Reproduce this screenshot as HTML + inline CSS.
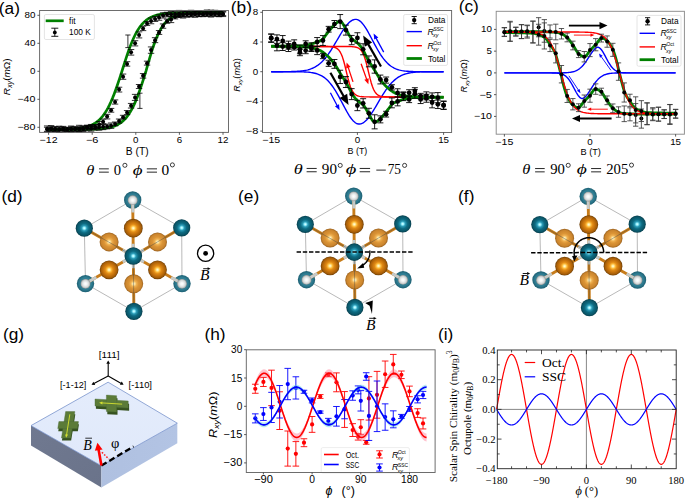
<!DOCTYPE html>
<html><head><meta charset="utf-8"><style>html,body{margin:0;padding:0;background:#fff;overflow:hidden;}svg{display:block;}</style></head>
<body><svg width="685" height="498" viewBox="0 0 685 498"><defs>
<radialGradient id="gT" cx="0.5" cy="0.5" r="0.5" fx="0.5" fy="0.5">
 <stop offset="0" stop-color="#e8ffff"/><stop offset="0.12" stop-color="#98f2ff"/><stop offset="0.3" stop-color="#2b9bb6"/><stop offset="0.55" stop-color="#0d6b82"/><stop offset="0.85" stop-color="#0a5567"/><stop offset="1" stop-color="#073d4b"/></radialGradient>
<radialGradient id="gTf" cx="0.5" cy="0.5" r="0.5">
 <stop offset="0" stop-color="#3f8fa3"/><stop offset="0.7" stop-color="#2f7d92"/><stop offset="1" stop-color="#1d5f72"/></radialGradient>
<radialGradient id="gW" cx="0.5" cy="0.5" r="0.5" fx="0.5" fy="0.5">
 <stop offset="0" stop-color="#ffffff"/><stop offset="0.3" stop-color="#f4f6f6"/><stop offset="0.7" stop-color="#d4d8d8"/><stop offset="0.9" stop-color="#a8acac"/><stop offset="1" stop-color="#8a8e8e"/></radialGradient>
<radialGradient id="gO" cx="0.5" cy="0.5" r="0.5" fx="0.5" fy="0.5">
 <stop offset="0" stop-color="#fffce8"/><stop offset="0.12" stop-color="#ffea98"/><stop offset="0.26" stop-color="#fcb838"/><stop offset="0.42" stop-color="#e08a16"/><stop offset="0.62" stop-color="#c8740c"/><stop offset="0.86" stop-color="#a45c08"/><stop offset="1" stop-color="#6a3c04"/></radialGradient>
<radialGradient id="gP" cx="0.5" cy="0.5" r="0.5" fx="0.5" fy="0.5">
 <stop offset="0" stop-color="#fffbe0"/><stop offset="0.12" stop-color="#ffe6a0"/><stop offset="0.3" stop-color="#efb050"/><stop offset="0.52" stop-color="#db9436"/><stop offset="0.82" stop-color="#cc862e"/><stop offset="1" stop-color="#9a6220"/></radialGradient>
<linearGradient id="gTop" x1="0" y1="0" x2="0" y2="1"><stop offset="0" stop-color="#e4ecfc"/><stop offset="1" stop-color="#e0e9fa"/></linearGradient>
<linearGradient id="gLeft" x1="0" y1="0" x2="1" y2="1"><stop offset="0" stop-color="#707990"/><stop offset="1" stop-color="#6a738a"/></linearGradient>
<linearGradient id="gRight" x1="0" y1="0" x2="1" y2="0"><stop offset="0" stop-color="#afc0e0"/><stop offset="1" stop-color="#b3c4e4"/></linearGradient>
</defs>
<polyline points="48.60,129.49 50.05,129.48 51.51,129.47 52.96,129.46 54.41,129.45 55.87,129.43 57.32,129.42 58.77,129.40 60.23,129.37 61.68,129.34 63.13,129.31 64.59,129.27 66.04,129.23 67.49,129.18 68.95,129.12 70.40,129.05 71.85,128.96 73.31,128.87 74.76,128.76 76.21,128.63 77.67,128.48 79.12,128.30 80.57,128.10 82.03,127.86 83.48,127.59 84.93,127.27 86.39,126.90 87.84,126.48 89.29,125.98 90.75,125.41 92.20,124.75 93.65,124.00 95.11,123.12 96.56,122.13 98.01,120.98 99.47,119.68 100.92,118.20 102.37,116.52 103.83,114.63 105.28,112.51 106.73,110.15 108.19,107.54 109.64,104.66 111.09,101.51 112.55,98.10 114.00,94.44 115.45,90.55 116.91,86.46 118.36,82.19 119.81,77.80 121.27,73.34 122.72,68.75 124.17,64.11 125.63,59.55 127.08,55.14 128.53,50.91 129.99,46.91 131.44,43.17 132.89,39.70 134.35,36.52 135.80,33.62 137.25,31.00 138.71,28.66 140.16,26.57 141.61,24.73 143.07,23.10 144.52,21.67 145.97,20.43 147.43,19.34 148.88,18.40 150.33,17.58 151.79,16.88 153.24,16.27 154.69,15.75 156.15,15.30 157.60,14.91 159.05,14.58 160.51,14.30 161.96,14.06 163.41,13.85 164.87,13.67 166.32,13.52 167.77,13.39 169.23,13.28 170.68,13.19 172.13,13.11 173.59,13.04 175.04,12.98 176.49,12.93 177.95,12.89 179.40,12.85 180.85,12.82 182.31,12.79 183.76,12.77 185.21,12.75 186.67,12.73 188.12,12.72 189.57,12.71 191.03,12.70 192.48,12.69 193.93,12.68 195.39,12.68 196.84,12.67 198.29,12.67 199.75,12.66 201.20,12.66 202.65,12.66 204.11,12.65 205.56,12.65 207.01,12.65 208.47,12.65 209.92,12.65 211.37,12.65 212.83,12.65 214.28,12.64 215.73,12.64 217.19,12.64 218.64,12.64 220.09,12.64 221.55,12.64 223.00,12.64" fill="none" stroke="#008000" stroke-width="2.7" stroke-linejoin="round" />
<polyline points="48.60,129.54 50.05,129.54 51.51,129.54 52.96,129.54 54.41,129.54 55.87,129.53 57.32,129.53 58.77,129.53 60.23,129.53 61.68,129.53 63.13,129.53 64.59,129.52 66.04,129.52 67.49,129.52 68.95,129.52 70.40,129.51 71.85,129.51 73.31,129.50 74.76,129.49 76.21,129.49 77.67,129.48 79.12,129.47 80.57,129.45 82.03,129.44 83.48,129.42 84.93,129.40 86.39,129.37 87.84,129.35 89.29,129.31 90.75,129.27 92.20,129.23 93.65,129.17 95.11,129.11 96.56,129.03 98.01,128.95 99.47,128.85 100.92,128.73 102.37,128.59 103.83,128.42 105.28,128.23 106.73,128.01 108.19,127.74 109.64,127.44 111.09,127.08 112.55,126.66 114.00,126.18 115.45,125.62 116.91,124.96 118.36,124.20 119.81,123.33 121.27,122.32 122.72,121.15 124.17,119.82 125.63,118.29 127.08,116.56 128.53,114.59 129.99,112.38 131.44,109.90 132.89,107.15 134.35,104.11 135.80,100.78 137.25,97.17 138.71,93.30 140.16,89.18 141.61,84.85 143.07,80.36 144.52,75.76 145.97,71.09 147.43,65.91 148.88,60.81 150.33,55.86 151.79,51.14 153.24,46.70 154.69,42.57 156.15,38.79 157.60,35.36 159.05,32.28 160.51,29.54 161.96,27.13 163.41,25.02 164.87,23.19 166.32,21.60 167.77,20.23 169.23,19.07 170.68,18.07 172.13,17.22 173.59,16.50 175.04,15.89 176.49,15.37 177.95,14.93 179.40,14.57 180.85,14.26 182.31,14.00 183.76,13.78 185.21,13.59 186.67,13.44 188.12,13.31 189.57,13.20 191.03,13.11 192.48,13.03 193.93,12.97 195.39,12.92 196.84,12.87 198.29,12.83 199.75,12.80 201.20,12.78 202.65,12.75 204.11,12.74 205.56,12.72 207.01,12.71 208.47,12.70 209.92,12.69 211.37,12.68 212.83,12.67 214.28,12.67 215.73,12.66 217.19,12.66 218.64,12.66 220.09,12.65 221.55,12.65 223.00,12.65" fill="none" stroke="#008000" stroke-width="2.7" stroke-linejoin="round" />
<line x1="47.15" y1="127.28" x2="47.15" y2="131.30" stroke="#000" stroke-width="0.8" />
<line x1="43.95" y1="127.28" x2="50.35" y2="127.28" stroke="#000" stroke-width="0.8" />
<line x1="43.95" y1="131.30" x2="50.35" y2="131.30" stroke="#000" stroke-width="0.8" />
<circle cx="47.15" cy="129.29" r="2.0" fill="#000"/>
<line x1="51.14" y1="126.92" x2="51.14" y2="130.73" stroke="#000" stroke-width="0.8" />
<line x1="47.94" y1="126.92" x2="54.34" y2="126.92" stroke="#000" stroke-width="0.8" />
<line x1="47.94" y1="130.73" x2="54.34" y2="130.73" stroke="#000" stroke-width="0.8" />
<circle cx="51.14" cy="128.82" r="2.0" fill="#000"/>
<line x1="55.14" y1="126.66" x2="55.14" y2="131.29" stroke="#000" stroke-width="0.8" />
<line x1="51.94" y1="126.66" x2="58.34" y2="126.66" stroke="#000" stroke-width="0.8" />
<line x1="51.94" y1="131.29" x2="58.34" y2="131.29" stroke="#000" stroke-width="0.8" />
<circle cx="55.14" cy="128.98" r="2.0" fill="#000"/>
<line x1="59.14" y1="127.12" x2="59.14" y2="132.14" stroke="#000" stroke-width="0.8" />
<line x1="55.94" y1="127.12" x2="62.34" y2="127.12" stroke="#000" stroke-width="0.8" />
<line x1="55.94" y1="132.14" x2="62.34" y2="132.14" stroke="#000" stroke-width="0.8" />
<circle cx="59.14" cy="129.63" r="2.0" fill="#000"/>
<line x1="63.13" y1="127.23" x2="63.13" y2="132.04" stroke="#000" stroke-width="0.8" />
<line x1="59.93" y1="127.23" x2="66.33" y2="127.23" stroke="#000" stroke-width="0.8" />
<line x1="59.93" y1="132.04" x2="66.33" y2="132.04" stroke="#000" stroke-width="0.8" />
<circle cx="63.13" cy="129.63" r="2.0" fill="#000"/>
<line x1="67.13" y1="127.62" x2="67.13" y2="131.48" stroke="#000" stroke-width="0.8" />
<line x1="63.93" y1="127.62" x2="70.33" y2="127.62" stroke="#000" stroke-width="0.8" />
<line x1="63.93" y1="131.48" x2="70.33" y2="131.48" stroke="#000" stroke-width="0.8" />
<circle cx="67.13" cy="129.55" r="2.0" fill="#000"/>
<line x1="71.13" y1="126.03" x2="71.13" y2="131.95" stroke="#000" stroke-width="0.8" />
<line x1="67.93" y1="126.03" x2="74.33" y2="126.03" stroke="#000" stroke-width="0.8" />
<line x1="67.93" y1="131.95" x2="74.33" y2="131.95" stroke="#000" stroke-width="0.8" />
<circle cx="71.13" cy="128.99" r="2.0" fill="#000"/>
<line x1="75.12" y1="127.19" x2="75.12" y2="131.42" stroke="#000" stroke-width="0.8" />
<line x1="71.92" y1="127.19" x2="78.32" y2="127.19" stroke="#000" stroke-width="0.8" />
<line x1="71.92" y1="131.42" x2="78.32" y2="131.42" stroke="#000" stroke-width="0.8" />
<circle cx="75.12" cy="129.30" r="2.0" fill="#000"/>
<line x1="79.12" y1="125.30" x2="79.12" y2="131.55" stroke="#000" stroke-width="0.8" />
<line x1="75.92" y1="125.30" x2="82.32" y2="125.30" stroke="#000" stroke-width="0.8" />
<line x1="75.92" y1="131.55" x2="82.32" y2="131.55" stroke="#000" stroke-width="0.8" />
<circle cx="79.12" cy="128.43" r="2.0" fill="#000"/>
<line x1="83.12" y1="125.86" x2="83.12" y2="130.57" stroke="#000" stroke-width="0.8" />
<line x1="79.92" y1="125.86" x2="86.32" y2="125.86" stroke="#000" stroke-width="0.8" />
<line x1="79.92" y1="130.57" x2="86.32" y2="130.57" stroke="#000" stroke-width="0.8" />
<circle cx="83.12" cy="128.22" r="2.0" fill="#000"/>
<line x1="87.11" y1="125.34" x2="87.11" y2="129.07" stroke="#000" stroke-width="0.8" />
<line x1="83.91" y1="125.34" x2="90.31" y2="125.34" stroke="#000" stroke-width="0.8" />
<line x1="83.91" y1="129.07" x2="90.31" y2="129.07" stroke="#000" stroke-width="0.8" />
<circle cx="87.11" cy="127.21" r="2.0" fill="#000"/>
<line x1="91.11" y1="124.44" x2="91.11" y2="128.85" stroke="#000" stroke-width="0.8" />
<line x1="87.91" y1="124.44" x2="94.31" y2="124.44" stroke="#000" stroke-width="0.8" />
<line x1="87.91" y1="128.85" x2="94.31" y2="128.85" stroke="#000" stroke-width="0.8" />
<circle cx="91.11" cy="126.64" r="2.0" fill="#000"/>
<line x1="95.11" y1="124.51" x2="95.11" y2="128.44" stroke="#000" stroke-width="0.8" />
<line x1="91.91" y1="124.51" x2="98.31" y2="124.51" stroke="#000" stroke-width="0.8" />
<line x1="91.91" y1="128.44" x2="98.31" y2="128.44" stroke="#000" stroke-width="0.8" />
<circle cx="95.11" cy="126.48" r="2.0" fill="#000"/>
<line x1="99.10" y1="121.45" x2="99.10" y2="127.33" stroke="#000" stroke-width="0.8" />
<line x1="95.90" y1="121.45" x2="102.30" y2="121.45" stroke="#000" stroke-width="0.8" />
<line x1="95.90" y1="127.33" x2="102.30" y2="127.33" stroke="#000" stroke-width="0.8" />
<circle cx="99.10" cy="124.39" r="2.0" fill="#000"/>
<line x1="103.10" y1="119.06" x2="103.10" y2="124.29" stroke="#000" stroke-width="0.8" />
<line x1="99.90" y1="119.06" x2="106.30" y2="119.06" stroke="#000" stroke-width="0.8" />
<line x1="99.90" y1="124.29" x2="106.30" y2="124.29" stroke="#000" stroke-width="0.8" />
<circle cx="103.10" cy="121.68" r="2.0" fill="#000"/>
<line x1="107.10" y1="114.30" x2="107.10" y2="118.95" stroke="#000" stroke-width="0.8" />
<line x1="103.90" y1="114.30" x2="110.30" y2="114.30" stroke="#000" stroke-width="0.8" />
<line x1="103.90" y1="118.95" x2="110.30" y2="118.95" stroke="#000" stroke-width="0.8" />
<circle cx="107.10" cy="116.62" r="2.0" fill="#000"/>
<line x1="111.09" y1="108.40" x2="111.09" y2="112.18" stroke="#000" stroke-width="0.8" />
<line x1="107.89" y1="108.40" x2="114.29" y2="108.40" stroke="#000" stroke-width="0.8" />
<line x1="107.89" y1="112.18" x2="114.29" y2="112.18" stroke="#000" stroke-width="0.8" />
<circle cx="111.09" cy="110.29" r="2.0" fill="#000"/>
<line x1="115.09" y1="99.92" x2="115.09" y2="104.10" stroke="#000" stroke-width="0.8" />
<line x1="111.89" y1="99.92" x2="118.29" y2="99.92" stroke="#000" stroke-width="0.8" />
<line x1="111.89" y1="104.10" x2="118.29" y2="104.10" stroke="#000" stroke-width="0.8" />
<circle cx="115.09" cy="102.01" r="2.0" fill="#000"/>
<line x1="119.09" y1="87.22" x2="119.09" y2="92.01" stroke="#000" stroke-width="0.8" />
<line x1="115.89" y1="87.22" x2="122.29" y2="87.22" stroke="#000" stroke-width="0.8" />
<line x1="115.89" y1="92.01" x2="122.29" y2="92.01" stroke="#000" stroke-width="0.8" />
<circle cx="119.09" cy="89.61" r="2.0" fill="#000"/>
<line x1="123.08" y1="74.06" x2="123.08" y2="79.30" stroke="#000" stroke-width="0.8" />
<line x1="119.88" y1="74.06" x2="126.28" y2="74.06" stroke="#000" stroke-width="0.8" />
<line x1="119.88" y1="79.30" x2="126.28" y2="79.30" stroke="#000" stroke-width="0.8" />
<circle cx="123.08" cy="76.68" r="2.0" fill="#000"/>
<line x1="127.08" y1="61.70" x2="127.08" y2="66.14" stroke="#000" stroke-width="0.8" />
<line x1="123.88" y1="61.70" x2="130.28" y2="61.70" stroke="#000" stroke-width="0.8" />
<line x1="123.88" y1="66.14" x2="130.28" y2="66.14" stroke="#000" stroke-width="0.8" />
<circle cx="127.08" cy="63.92" r="2.0" fill="#000"/>
<line x1="131.08" y1="49.54" x2="131.08" y2="55.10" stroke="#000" stroke-width="0.8" />
<line x1="127.88" y1="49.54" x2="134.28" y2="49.54" stroke="#000" stroke-width="0.8" />
<line x1="127.88" y1="55.10" x2="134.28" y2="55.10" stroke="#000" stroke-width="0.8" />
<circle cx="131.08" cy="52.32" r="2.0" fill="#000"/>
<line x1="135.07" y1="40.71" x2="135.07" y2="45.92" stroke="#000" stroke-width="0.8" />
<line x1="131.87" y1="40.71" x2="138.27" y2="40.71" stroke="#000" stroke-width="0.8" />
<line x1="131.87" y1="45.92" x2="138.27" y2="45.92" stroke="#000" stroke-width="0.8" />
<circle cx="135.07" cy="43.32" r="2.0" fill="#000"/>
<line x1="139.07" y1="31.88" x2="139.07" y2="37.93" stroke="#000" stroke-width="0.8" />
<line x1="135.87" y1="31.88" x2="142.27" y2="31.88" stroke="#000" stroke-width="0.8" />
<line x1="135.87" y1="37.93" x2="142.27" y2="37.93" stroke="#000" stroke-width="0.8" />
<circle cx="139.07" cy="34.91" r="2.0" fill="#000"/>
<line x1="143.07" y1="26.20" x2="143.07" y2="30.61" stroke="#000" stroke-width="0.8" />
<line x1="139.87" y1="26.20" x2="146.27" y2="26.20" stroke="#000" stroke-width="0.8" />
<line x1="139.87" y1="30.61" x2="146.27" y2="30.61" stroke="#000" stroke-width="0.8" />
<circle cx="143.07" cy="28.40" r="2.0" fill="#000"/>
<line x1="147.06" y1="21.47" x2="147.06" y2="25.40" stroke="#000" stroke-width="0.8" />
<line x1="143.86" y1="21.47" x2="150.26" y2="21.47" stroke="#000" stroke-width="0.8" />
<line x1="143.86" y1="25.40" x2="150.26" y2="25.40" stroke="#000" stroke-width="0.8" />
<circle cx="147.06" cy="23.44" r="2.0" fill="#000"/>
<line x1="151.06" y1="18.05" x2="151.06" y2="23.77" stroke="#000" stroke-width="0.8" />
<line x1="147.86" y1="18.05" x2="154.26" y2="18.05" stroke="#000" stroke-width="0.8" />
<line x1="147.86" y1="23.77" x2="154.26" y2="23.77" stroke="#000" stroke-width="0.8" />
<circle cx="151.06" cy="20.91" r="2.0" fill="#000"/>
<line x1="155.06" y1="16.48" x2="155.06" y2="21.45" stroke="#000" stroke-width="0.8" />
<line x1="151.86" y1="16.48" x2="158.26" y2="16.48" stroke="#000" stroke-width="0.8" />
<line x1="151.86" y1="21.45" x2="158.26" y2="21.45" stroke="#000" stroke-width="0.8" />
<circle cx="155.06" cy="18.96" r="2.0" fill="#000"/>
<line x1="159.05" y1="14.78" x2="159.05" y2="20.26" stroke="#000" stroke-width="0.8" />
<line x1="155.85" y1="14.78" x2="162.25" y2="14.78" stroke="#000" stroke-width="0.8" />
<line x1="155.85" y1="20.26" x2="162.25" y2="20.26" stroke="#000" stroke-width="0.8" />
<circle cx="159.05" cy="17.52" r="2.0" fill="#000"/>
<line x1="163.05" y1="12.81" x2="163.05" y2="18.02" stroke="#000" stroke-width="0.8" />
<line x1="159.85" y1="12.81" x2="166.25" y2="12.81" stroke="#000" stroke-width="0.8" />
<line x1="159.85" y1="18.02" x2="166.25" y2="18.02" stroke="#000" stroke-width="0.8" />
<circle cx="163.05" cy="15.41" r="2.0" fill="#000"/>
<line x1="167.05" y1="12.28" x2="167.05" y2="16.76" stroke="#000" stroke-width="0.8" />
<line x1="163.85" y1="12.28" x2="170.25" y2="12.28" stroke="#000" stroke-width="0.8" />
<line x1="163.85" y1="16.76" x2="170.25" y2="16.76" stroke="#000" stroke-width="0.8" />
<circle cx="167.05" cy="14.52" r="2.0" fill="#000"/>
<line x1="171.04" y1="11.64" x2="171.04" y2="16.91" stroke="#000" stroke-width="0.8" />
<line x1="167.84" y1="11.64" x2="174.24" y2="11.64" stroke="#000" stroke-width="0.8" />
<line x1="167.84" y1="16.91" x2="174.24" y2="16.91" stroke="#000" stroke-width="0.8" />
<circle cx="171.04" cy="14.28" r="2.0" fill="#000"/>
<line x1="175.04" y1="11.67" x2="175.04" y2="16.54" stroke="#000" stroke-width="0.8" />
<line x1="171.84" y1="11.67" x2="178.24" y2="11.67" stroke="#000" stroke-width="0.8" />
<line x1="171.84" y1="16.54" x2="178.24" y2="16.54" stroke="#000" stroke-width="0.8" />
<circle cx="175.04" cy="14.11" r="2.0" fill="#000"/>
<line x1="179.04" y1="10.40" x2="179.04" y2="16.64" stroke="#000" stroke-width="0.8" />
<line x1="175.84" y1="10.40" x2="182.24" y2="10.40" stroke="#000" stroke-width="0.8" />
<line x1="175.84" y1="16.64" x2="182.24" y2="16.64" stroke="#000" stroke-width="0.8" />
<circle cx="179.04" cy="13.52" r="2.0" fill="#000"/>
<line x1="183.03" y1="11.15" x2="183.03" y2="16.61" stroke="#000" stroke-width="0.8" />
<line x1="179.83" y1="11.15" x2="186.23" y2="11.15" stroke="#000" stroke-width="0.8" />
<line x1="179.83" y1="16.61" x2="186.23" y2="16.61" stroke="#000" stroke-width="0.8" />
<circle cx="183.03" cy="13.88" r="2.0" fill="#000"/>
<line x1="187.03" y1="11.58" x2="187.03" y2="17.14" stroke="#000" stroke-width="0.8" />
<line x1="183.83" y1="11.58" x2="190.23" y2="11.58" stroke="#000" stroke-width="0.8" />
<line x1="183.83" y1="17.14" x2="190.23" y2="17.14" stroke="#000" stroke-width="0.8" />
<circle cx="187.03" cy="14.36" r="2.0" fill="#000"/>
<line x1="191.03" y1="10.29" x2="191.03" y2="16.67" stroke="#000" stroke-width="0.8" />
<line x1="187.83" y1="10.29" x2="194.23" y2="10.29" stroke="#000" stroke-width="0.8" />
<line x1="187.83" y1="16.67" x2="194.23" y2="16.67" stroke="#000" stroke-width="0.8" />
<circle cx="191.03" cy="13.48" r="2.0" fill="#000"/>
<line x1="195.02" y1="10.99" x2="195.02" y2="15.39" stroke="#000" stroke-width="0.8" />
<line x1="191.82" y1="10.99" x2="198.22" y2="10.99" stroke="#000" stroke-width="0.8" />
<line x1="191.82" y1="15.39" x2="198.22" y2="15.39" stroke="#000" stroke-width="0.8" />
<circle cx="195.02" cy="13.19" r="2.0" fill="#000"/>
<line x1="199.02" y1="11.03" x2="199.02" y2="16.50" stroke="#000" stroke-width="0.8" />
<line x1="195.82" y1="11.03" x2="202.22" y2="11.03" stroke="#000" stroke-width="0.8" />
<line x1="195.82" y1="16.50" x2="202.22" y2="16.50" stroke="#000" stroke-width="0.8" />
<circle cx="199.02" cy="13.77" r="2.0" fill="#000"/>
<line x1="203.02" y1="11.81" x2="203.02" y2="16.70" stroke="#000" stroke-width="0.8" />
<line x1="199.82" y1="11.81" x2="206.22" y2="11.81" stroke="#000" stroke-width="0.8" />
<line x1="199.82" y1="16.70" x2="206.22" y2="16.70" stroke="#000" stroke-width="0.8" />
<circle cx="203.02" cy="14.26" r="2.0" fill="#000"/>
<line x1="207.01" y1="12.08" x2="207.01" y2="16.00" stroke="#000" stroke-width="0.8" />
<line x1="203.81" y1="12.08" x2="210.21" y2="12.08" stroke="#000" stroke-width="0.8" />
<line x1="203.81" y1="16.00" x2="210.21" y2="16.00" stroke="#000" stroke-width="0.8" />
<circle cx="207.01" cy="14.04" r="2.0" fill="#000"/>
<line x1="211.01" y1="11.31" x2="211.01" y2="17.06" stroke="#000" stroke-width="0.8" />
<line x1="207.81" y1="11.31" x2="214.21" y2="11.31" stroke="#000" stroke-width="0.8" />
<line x1="207.81" y1="17.06" x2="214.21" y2="17.06" stroke="#000" stroke-width="0.8" />
<circle cx="211.01" cy="14.18" r="2.0" fill="#000"/>
<line x1="215.01" y1="11.93" x2="215.01" y2="16.23" stroke="#000" stroke-width="0.8" />
<line x1="211.81" y1="11.93" x2="218.21" y2="11.93" stroke="#000" stroke-width="0.8" />
<line x1="211.81" y1="16.23" x2="218.21" y2="16.23" stroke="#000" stroke-width="0.8" />
<circle cx="215.01" cy="14.08" r="2.0" fill="#000"/>
<line x1="219.00" y1="10.69" x2="219.00" y2="16.73" stroke="#000" stroke-width="0.8" />
<line x1="215.80" y1="10.69" x2="222.20" y2="10.69" stroke="#000" stroke-width="0.8" />
<line x1="215.80" y1="16.73" x2="222.20" y2="16.73" stroke="#000" stroke-width="0.8" />
<circle cx="219.00" cy="13.71" r="2.0" fill="#000"/>
<line x1="223.00" y1="11.71" x2="223.00" y2="16.57" stroke="#000" stroke-width="0.8" />
<line x1="219.80" y1="11.71" x2="226.20" y2="11.71" stroke="#000" stroke-width="0.8" />
<line x1="219.80" y1="16.57" x2="226.20" y2="16.57" stroke="#000" stroke-width="0.8" />
<circle cx="223.00" cy="14.14" r="2.0" fill="#000"/>
<line x1="47.15" y1="125.94" x2="47.15" y2="132.01" stroke="#000" stroke-width="0.8" />
<line x1="43.95" y1="125.94" x2="50.35" y2="125.94" stroke="#000" stroke-width="0.8" />
<line x1="43.95" y1="132.01" x2="50.35" y2="132.01" stroke="#000" stroke-width="0.8" />
<circle cx="47.15" cy="128.97" r="2.0" fill="#000"/>
<line x1="51.14" y1="125.58" x2="51.14" y2="131.60" stroke="#000" stroke-width="0.8" />
<line x1="47.94" y1="125.58" x2="54.34" y2="125.58" stroke="#000" stroke-width="0.8" />
<line x1="47.94" y1="131.60" x2="54.34" y2="131.60" stroke="#000" stroke-width="0.8" />
<circle cx="51.14" cy="128.59" r="2.0" fill="#000"/>
<line x1="55.14" y1="126.96" x2="55.14" y2="131.73" stroke="#000" stroke-width="0.8" />
<line x1="51.94" y1="126.96" x2="58.34" y2="126.96" stroke="#000" stroke-width="0.8" />
<line x1="51.94" y1="131.73" x2="58.34" y2="131.73" stroke="#000" stroke-width="0.8" />
<circle cx="55.14" cy="129.35" r="2.0" fill="#000"/>
<line x1="59.14" y1="126.19" x2="59.14" y2="132.26" stroke="#000" stroke-width="0.8" />
<line x1="55.94" y1="126.19" x2="62.34" y2="126.19" stroke="#000" stroke-width="0.8" />
<line x1="55.94" y1="132.26" x2="62.34" y2="132.26" stroke="#000" stroke-width="0.8" />
<circle cx="59.14" cy="129.23" r="2.0" fill="#000"/>
<line x1="63.13" y1="126.36" x2="63.13" y2="130.39" stroke="#000" stroke-width="0.8" />
<line x1="59.93" y1="126.36" x2="66.33" y2="126.36" stroke="#000" stroke-width="0.8" />
<line x1="59.93" y1="130.39" x2="66.33" y2="130.39" stroke="#000" stroke-width="0.8" />
<circle cx="63.13" cy="128.38" r="2.0" fill="#000"/>
<line x1="67.13" y1="127.33" x2="67.13" y2="131.58" stroke="#000" stroke-width="0.8" />
<line x1="63.93" y1="127.33" x2="70.33" y2="127.33" stroke="#000" stroke-width="0.8" />
<line x1="63.93" y1="131.58" x2="70.33" y2="131.58" stroke="#000" stroke-width="0.8" />
<circle cx="67.13" cy="129.45" r="2.0" fill="#000"/>
<line x1="71.13" y1="126.87" x2="71.13" y2="131.83" stroke="#000" stroke-width="0.8" />
<line x1="67.93" y1="126.87" x2="74.33" y2="126.87" stroke="#000" stroke-width="0.8" />
<line x1="67.93" y1="131.83" x2="74.33" y2="131.83" stroke="#000" stroke-width="0.8" />
<circle cx="71.13" cy="129.35" r="2.0" fill="#000"/>
<line x1="75.12" y1="126.65" x2="75.12" y2="130.98" stroke="#000" stroke-width="0.8" />
<line x1="71.92" y1="126.65" x2="78.32" y2="126.65" stroke="#000" stroke-width="0.8" />
<line x1="71.92" y1="130.98" x2="78.32" y2="130.98" stroke="#000" stroke-width="0.8" />
<circle cx="75.12" cy="128.81" r="2.0" fill="#000"/>
<line x1="79.12" y1="127.19" x2="79.12" y2="131.97" stroke="#000" stroke-width="0.8" />
<line x1="75.92" y1="127.19" x2="82.32" y2="127.19" stroke="#000" stroke-width="0.8" />
<line x1="75.92" y1="131.97" x2="82.32" y2="131.97" stroke="#000" stroke-width="0.8" />
<circle cx="79.12" cy="129.58" r="2.0" fill="#000"/>
<line x1="83.12" y1="126.39" x2="83.12" y2="131.58" stroke="#000" stroke-width="0.8" />
<line x1="79.92" y1="126.39" x2="86.32" y2="126.39" stroke="#000" stroke-width="0.8" />
<line x1="79.92" y1="131.58" x2="86.32" y2="131.58" stroke="#000" stroke-width="0.8" />
<circle cx="83.12" cy="128.99" r="2.0" fill="#000"/>
<line x1="87.11" y1="125.28" x2="87.11" y2="130.81" stroke="#000" stroke-width="0.8" />
<line x1="83.91" y1="125.28" x2="90.31" y2="125.28" stroke="#000" stroke-width="0.8" />
<line x1="83.91" y1="130.81" x2="90.31" y2="130.81" stroke="#000" stroke-width="0.8" />
<circle cx="87.11" cy="128.05" r="2.0" fill="#000"/>
<line x1="91.11" y1="125.82" x2="91.11" y2="131.14" stroke="#000" stroke-width="0.8" />
<line x1="87.91" y1="125.82" x2="94.31" y2="125.82" stroke="#000" stroke-width="0.8" />
<line x1="87.91" y1="131.14" x2="94.31" y2="131.14" stroke="#000" stroke-width="0.8" />
<circle cx="91.11" cy="128.48" r="2.0" fill="#000"/>
<line x1="95.11" y1="126.11" x2="95.11" y2="129.86" stroke="#000" stroke-width="0.8" />
<line x1="91.91" y1="126.11" x2="98.31" y2="126.11" stroke="#000" stroke-width="0.8" />
<line x1="91.91" y1="129.86" x2="98.31" y2="129.86" stroke="#000" stroke-width="0.8" />
<circle cx="95.11" cy="127.99" r="2.0" fill="#000"/>
<line x1="99.10" y1="124.39" x2="99.10" y2="130.17" stroke="#000" stroke-width="0.8" />
<line x1="95.90" y1="124.39" x2="102.30" y2="124.39" stroke="#000" stroke-width="0.8" />
<line x1="95.90" y1="130.17" x2="102.30" y2="130.17" stroke="#000" stroke-width="0.8" />
<circle cx="99.10" cy="127.28" r="2.0" fill="#000"/>
<line x1="103.10" y1="123.81" x2="103.10" y2="129.64" stroke="#000" stroke-width="0.8" />
<line x1="99.90" y1="123.81" x2="106.30" y2="123.81" stroke="#000" stroke-width="0.8" />
<line x1="99.90" y1="129.64" x2="106.30" y2="129.64" stroke="#000" stroke-width="0.8" />
<circle cx="103.10" cy="126.73" r="2.0" fill="#000"/>
<line x1="107.10" y1="124.18" x2="107.10" y2="128.89" stroke="#000" stroke-width="0.8" />
<line x1="103.90" y1="124.18" x2="110.30" y2="124.18" stroke="#000" stroke-width="0.8" />
<line x1="103.90" y1="128.89" x2="110.30" y2="128.89" stroke="#000" stroke-width="0.8" />
<circle cx="107.10" cy="126.53" r="2.0" fill="#000"/>
<line x1="111.09" y1="122.98" x2="111.09" y2="128.36" stroke="#000" stroke-width="0.8" />
<line x1="107.89" y1="122.98" x2="114.29" y2="122.98" stroke="#000" stroke-width="0.8" />
<line x1="107.89" y1="128.36" x2="114.29" y2="128.36" stroke="#000" stroke-width="0.8" />
<circle cx="111.09" cy="125.67" r="2.0" fill="#000"/>
<line x1="115.09" y1="122.00" x2="115.09" y2="125.79" stroke="#000" stroke-width="0.8" />
<line x1="111.89" y1="122.00" x2="118.29" y2="122.00" stroke="#000" stroke-width="0.8" />
<line x1="111.89" y1="125.79" x2="118.29" y2="125.79" stroke="#000" stroke-width="0.8" />
<circle cx="115.09" cy="123.89" r="2.0" fill="#000"/>
<line x1="119.09" y1="119.03" x2="119.09" y2="123.08" stroke="#000" stroke-width="0.8" />
<line x1="115.89" y1="119.03" x2="122.29" y2="119.03" stroke="#000" stroke-width="0.8" />
<line x1="115.89" y1="123.08" x2="122.29" y2="123.08" stroke="#000" stroke-width="0.8" />
<circle cx="119.09" cy="121.06" r="2.0" fill="#000"/>
<line x1="123.08" y1="115.30" x2="123.08" y2="119.05" stroke="#000" stroke-width="0.8" />
<line x1="119.88" y1="115.30" x2="126.28" y2="115.30" stroke="#000" stroke-width="0.8" />
<line x1="119.88" y1="119.05" x2="126.28" y2="119.05" stroke="#000" stroke-width="0.8" />
<circle cx="123.08" cy="117.17" r="2.0" fill="#000"/>
<line x1="127.08" y1="110.57" x2="127.08" y2="114.60" stroke="#000" stroke-width="0.8" />
<line x1="123.88" y1="110.57" x2="130.28" y2="110.57" stroke="#000" stroke-width="0.8" />
<line x1="123.88" y1="114.60" x2="130.28" y2="114.60" stroke="#000" stroke-width="0.8" />
<circle cx="127.08" cy="112.58" r="2.0" fill="#000"/>
<line x1="131.08" y1="103.43" x2="131.08" y2="108.05" stroke="#000" stroke-width="0.8" />
<line x1="127.88" y1="103.43" x2="134.28" y2="103.43" stroke="#000" stroke-width="0.8" />
<line x1="127.88" y1="108.05" x2="134.28" y2="108.05" stroke="#000" stroke-width="0.8" />
<circle cx="131.08" cy="105.74" r="2.0" fill="#000"/>
<line x1="135.07" y1="94.37" x2="135.07" y2="100.42" stroke="#000" stroke-width="0.8" />
<line x1="131.87" y1="94.37" x2="138.27" y2="94.37" stroke="#000" stroke-width="0.8" />
<line x1="131.87" y1="100.42" x2="138.27" y2="100.42" stroke="#000" stroke-width="0.8" />
<circle cx="135.07" cy="97.40" r="2.0" fill="#000"/>
<line x1="139.07" y1="84.50" x2="139.07" y2="88.52" stroke="#000" stroke-width="0.8" />
<line x1="135.87" y1="84.50" x2="142.27" y2="84.50" stroke="#000" stroke-width="0.8" />
<line x1="135.87" y1="88.52" x2="142.27" y2="88.52" stroke="#000" stroke-width="0.8" />
<circle cx="139.07" cy="86.51" r="2.0" fill="#000"/>
<line x1="143.07" y1="73.55" x2="143.07" y2="78.13" stroke="#000" stroke-width="0.8" />
<line x1="139.87" y1="73.55" x2="146.27" y2="73.55" stroke="#000" stroke-width="0.8" />
<line x1="139.87" y1="78.13" x2="146.27" y2="78.13" stroke="#000" stroke-width="0.8" />
<circle cx="143.07" cy="75.84" r="2.0" fill="#000"/>
<line x1="147.06" y1="61.16" x2="147.06" y2="65.10" stroke="#000" stroke-width="0.8" />
<line x1="143.86" y1="61.16" x2="150.26" y2="61.16" stroke="#000" stroke-width="0.8" />
<line x1="143.86" y1="65.10" x2="150.26" y2="65.10" stroke="#000" stroke-width="0.8" />
<circle cx="147.06" cy="63.13" r="2.0" fill="#000"/>
<line x1="151.06" y1="46.93" x2="151.06" y2="53.31" stroke="#000" stroke-width="0.8" />
<line x1="147.86" y1="46.93" x2="154.26" y2="46.93" stroke="#000" stroke-width="0.8" />
<line x1="147.86" y1="53.31" x2="154.26" y2="53.31" stroke="#000" stroke-width="0.8" />
<circle cx="151.06" cy="50.12" r="2.0" fill="#000"/>
<line x1="155.06" y1="37.68" x2="155.06" y2="42.64" stroke="#000" stroke-width="0.8" />
<line x1="151.86" y1="37.68" x2="158.26" y2="37.68" stroke="#000" stroke-width="0.8" />
<line x1="151.86" y1="42.64" x2="158.26" y2="42.64" stroke="#000" stroke-width="0.8" />
<circle cx="155.06" cy="40.16" r="2.0" fill="#000"/>
<line x1="159.05" y1="30.54" x2="159.05" y2="34.42" stroke="#000" stroke-width="0.8" />
<line x1="155.85" y1="30.54" x2="162.25" y2="30.54" stroke="#000" stroke-width="0.8" />
<line x1="155.85" y1="34.42" x2="162.25" y2="34.42" stroke="#000" stroke-width="0.8" />
<circle cx="159.05" cy="32.48" r="2.0" fill="#000"/>
<line x1="163.05" y1="23.92" x2="163.05" y2="28.26" stroke="#000" stroke-width="0.8" />
<line x1="159.85" y1="23.92" x2="166.25" y2="23.92" stroke="#000" stroke-width="0.8" />
<line x1="159.85" y1="28.26" x2="166.25" y2="28.26" stroke="#000" stroke-width="0.8" />
<circle cx="163.05" cy="26.09" r="2.0" fill="#000"/>
<line x1="167.05" y1="19.17" x2="167.05" y2="23.23" stroke="#000" stroke-width="0.8" />
<line x1="163.85" y1="19.17" x2="170.25" y2="19.17" stroke="#000" stroke-width="0.8" />
<line x1="163.85" y1="23.23" x2="170.25" y2="23.23" stroke="#000" stroke-width="0.8" />
<circle cx="167.05" cy="21.20" r="2.0" fill="#000"/>
<line x1="171.04" y1="16.35" x2="171.04" y2="22.61" stroke="#000" stroke-width="0.8" />
<line x1="167.84" y1="16.35" x2="174.24" y2="16.35" stroke="#000" stroke-width="0.8" />
<line x1="167.84" y1="22.61" x2="174.24" y2="22.61" stroke="#000" stroke-width="0.8" />
<circle cx="171.04" cy="19.48" r="2.0" fill="#000"/>
<line x1="175.04" y1="14.89" x2="175.04" y2="18.90" stroke="#000" stroke-width="0.8" />
<line x1="171.84" y1="14.89" x2="178.24" y2="14.89" stroke="#000" stroke-width="0.8" />
<line x1="171.84" y1="18.90" x2="178.24" y2="18.90" stroke="#000" stroke-width="0.8" />
<circle cx="175.04" cy="16.90" r="2.0" fill="#000"/>
<line x1="179.04" y1="13.82" x2="179.04" y2="17.49" stroke="#000" stroke-width="0.8" />
<line x1="175.84" y1="13.82" x2="182.24" y2="13.82" stroke="#000" stroke-width="0.8" />
<line x1="175.84" y1="17.49" x2="182.24" y2="17.49" stroke="#000" stroke-width="0.8" />
<circle cx="179.04" cy="15.65" r="2.0" fill="#000"/>
<line x1="183.03" y1="11.72" x2="183.03" y2="18.06" stroke="#000" stroke-width="0.8" />
<line x1="179.83" y1="11.72" x2="186.23" y2="11.72" stroke="#000" stroke-width="0.8" />
<line x1="179.83" y1="18.06" x2="186.23" y2="18.06" stroke="#000" stroke-width="0.8" />
<circle cx="183.03" cy="14.89" r="2.0" fill="#000"/>
<line x1="187.03" y1="11.14" x2="187.03" y2="16.69" stroke="#000" stroke-width="0.8" />
<line x1="183.83" y1="11.14" x2="190.23" y2="11.14" stroke="#000" stroke-width="0.8" />
<line x1="183.83" y1="16.69" x2="190.23" y2="16.69" stroke="#000" stroke-width="0.8" />
<circle cx="187.03" cy="13.92" r="2.0" fill="#000"/>
<line x1="191.03" y1="12.13" x2="191.03" y2="16.75" stroke="#000" stroke-width="0.8" />
<line x1="187.83" y1="12.13" x2="194.23" y2="12.13" stroke="#000" stroke-width="0.8" />
<line x1="187.83" y1="16.75" x2="194.23" y2="16.75" stroke="#000" stroke-width="0.8" />
<circle cx="191.03" cy="14.44" r="2.0" fill="#000"/>
<line x1="195.02" y1="11.49" x2="195.02" y2="17.25" stroke="#000" stroke-width="0.8" />
<line x1="191.82" y1="11.49" x2="198.22" y2="11.49" stroke="#000" stroke-width="0.8" />
<line x1="191.82" y1="17.25" x2="198.22" y2="17.25" stroke="#000" stroke-width="0.8" />
<circle cx="195.02" cy="14.37" r="2.0" fill="#000"/>
<line x1="199.02" y1="10.84" x2="199.02" y2="16.62" stroke="#000" stroke-width="0.8" />
<line x1="195.82" y1="10.84" x2="202.22" y2="10.84" stroke="#000" stroke-width="0.8" />
<line x1="195.82" y1="16.62" x2="202.22" y2="16.62" stroke="#000" stroke-width="0.8" />
<circle cx="199.02" cy="13.73" r="2.0" fill="#000"/>
<line x1="203.02" y1="11.82" x2="203.02" y2="16.04" stroke="#000" stroke-width="0.8" />
<line x1="199.82" y1="11.82" x2="206.22" y2="11.82" stroke="#000" stroke-width="0.8" />
<line x1="199.82" y1="16.04" x2="206.22" y2="16.04" stroke="#000" stroke-width="0.8" />
<circle cx="203.02" cy="13.93" r="2.0" fill="#000"/>
<line x1="207.01" y1="10.02" x2="207.01" y2="16.38" stroke="#000" stroke-width="0.8" />
<line x1="203.81" y1="10.02" x2="210.21" y2="10.02" stroke="#000" stroke-width="0.8" />
<line x1="203.81" y1="16.38" x2="210.21" y2="16.38" stroke="#000" stroke-width="0.8" />
<circle cx="207.01" cy="13.20" r="2.0" fill="#000"/>
<line x1="211.01" y1="10.18" x2="211.01" y2="16.04" stroke="#000" stroke-width="0.8" />
<line x1="207.81" y1="10.18" x2="214.21" y2="10.18" stroke="#000" stroke-width="0.8" />
<line x1="207.81" y1="16.04" x2="214.21" y2="16.04" stroke="#000" stroke-width="0.8" />
<circle cx="211.01" cy="13.11" r="2.0" fill="#000"/>
<line x1="215.01" y1="10.30" x2="215.01" y2="15.98" stroke="#000" stroke-width="0.8" />
<line x1="211.81" y1="10.30" x2="218.21" y2="10.30" stroke="#000" stroke-width="0.8" />
<line x1="211.81" y1="15.98" x2="218.21" y2="15.98" stroke="#000" stroke-width="0.8" />
<circle cx="215.01" cy="13.14" r="2.0" fill="#000"/>
<line x1="219.00" y1="11.43" x2="219.00" y2="16.48" stroke="#000" stroke-width="0.8" />
<line x1="215.80" y1="11.43" x2="222.20" y2="11.43" stroke="#000" stroke-width="0.8" />
<line x1="215.80" y1="16.48" x2="222.20" y2="16.48" stroke="#000" stroke-width="0.8" />
<circle cx="219.00" cy="13.96" r="2.0" fill="#000"/>
<line x1="223.00" y1="11.93" x2="223.00" y2="15.61" stroke="#000" stroke-width="0.8" />
<line x1="219.80" y1="11.93" x2="226.20" y2="11.93" stroke="#000" stroke-width="0.8" />
<line x1="219.80" y1="15.61" x2="226.20" y2="15.61" stroke="#000" stroke-width="0.8" />
<circle cx="223.00" cy="13.77" r="2.0" fill="#000"/>
<line x1="127.90" y1="35.00" x2="127.90" y2="47.60" stroke="#000" stroke-width="0.8" />
<line x1="125.30" y1="35.00" x2="130.50" y2="35.00" stroke="#000" stroke-width="0.8" />
<line x1="125.30" y1="47.60" x2="130.50" y2="47.60" stroke="#000" stroke-width="0.8" />
<line x1="139.90" y1="93.20" x2="139.90" y2="108.40" stroke="#000" stroke-width="0.8" />
<line x1="137.30" y1="93.20" x2="142.50" y2="93.20" stroke="#000" stroke-width="0.8" />
<line x1="137.30" y1="108.40" x2="142.50" y2="108.40" stroke="#000" stroke-width="0.8" />
<rect x="39.60" y="10.50" width="188.90" height="121.90" fill="none" stroke="#666" stroke-width="0.95"/>
<line x1="48.60" y1="132.40" x2="48.60" y2="134.80" stroke="#333" stroke-width="0.8" />
<text x="48.60" y="143.00" font-size="9.0" text-anchor="middle" font-family="Liberation Sans, sans-serif" fill="#000" textLength="18.00" lengthAdjust="spacingAndGlyphs" >−12</text>
<line x1="92.20" y1="132.40" x2="92.20" y2="134.80" stroke="#333" stroke-width="0.8" />
<text x="92.20" y="143.00" font-size="9.0" text-anchor="middle" font-family="Liberation Sans, sans-serif" fill="#000" textLength="12.55" lengthAdjust="spacingAndGlyphs" >−6</text>
<line x1="135.80" y1="132.40" x2="135.80" y2="134.80" stroke="#333" stroke-width="0.8" />
<text x="135.80" y="143.00" font-size="9.0" text-anchor="middle" font-family="Liberation Sans, sans-serif" fill="#000" textLength="5.45" lengthAdjust="spacingAndGlyphs" >0</text>
<line x1="179.40" y1="132.40" x2="179.40" y2="134.80" stroke="#333" stroke-width="0.8" />
<text x="179.40" y="143.00" font-size="9.0" text-anchor="middle" font-family="Liberation Sans, sans-serif" fill="#000" textLength="5.45" lengthAdjust="spacingAndGlyphs" >6</text>
<line x1="223.00" y1="132.40" x2="223.00" y2="134.80" stroke="#333" stroke-width="0.8" />
<text x="223.00" y="143.00" font-size="9.0" text-anchor="middle" font-family="Liberation Sans, sans-serif" fill="#000" textLength="10.90" lengthAdjust="spacingAndGlyphs" >12</text>
<line x1="37.40" y1="15.30" x2="39.60" y2="15.30" stroke="#333" stroke-width="0.8" />
<text x="35.40" y="18.30" font-size="9.0" text-anchor="end" font-family="Liberation Sans, sans-serif" fill="#000" textLength="10.90" lengthAdjust="spacingAndGlyphs" >80</text>
<line x1="37.40" y1="43.30" x2="39.60" y2="43.30" stroke="#333" stroke-width="0.8" />
<text x="35.40" y="46.30" font-size="9.0" text-anchor="end" font-family="Liberation Sans, sans-serif" fill="#000" textLength="10.90" lengthAdjust="spacingAndGlyphs" >40</text>
<line x1="37.40" y1="71.30" x2="39.60" y2="71.30" stroke="#333" stroke-width="0.8" />
<text x="35.40" y="74.30" font-size="9.0" text-anchor="end" font-family="Liberation Sans, sans-serif" fill="#000" textLength="5.45" lengthAdjust="spacingAndGlyphs" >0</text>
<line x1="37.40" y1="99.30" x2="39.60" y2="99.30" stroke="#333" stroke-width="0.8" />
<text x="35.40" y="102.30" font-size="9.0" text-anchor="end" font-family="Liberation Sans, sans-serif" fill="#000" textLength="18.00" lengthAdjust="spacingAndGlyphs" >−40</text>
<line x1="37.40" y1="127.30" x2="39.60" y2="127.30" stroke="#333" stroke-width="0.8" />
<text x="35.40" y="130.30" font-size="9.0" text-anchor="end" font-family="Liberation Sans, sans-serif" fill="#000" textLength="18.00" lengthAdjust="spacingAndGlyphs" >−80</text>
<text x="137.20" y="154.60" font-size="10" text-anchor="middle" font-family="Liberation Sans, sans-serif" fill="#000" textLength="22.8" lengthAdjust="spacingAndGlyphs" >B (T)</text>
<text transform="translate(10.0,76.8) rotate(-90)" font-size="9.3" text-anchor="middle" font-family="Liberation Sans, sans-serif" textLength="37" lengthAdjust="spacingAndGlyphs"><tspan font-style="italic">R</tspan><tspan font-style="italic" font-size="6.7" dy="2.0">xy</tspan><tspan dy="-2.0">(</tspan><tspan font-style="italic">m</tspan>Ω)</text>
<rect x="44.4" y="14.5" width="50" height="25" rx="1.5" fill="#fff" fill-opacity="0.8" stroke="#ddd" stroke-width="0.8"/>
<line x1="45.70" y1="20.80" x2="63.70" y2="20.80" stroke="#008000" stroke-width="2.7" />
<text x="69.10" y="23.80" font-size="8.3" text-anchor="start" font-family="Liberation Sans, sans-serif" fill="#000" >fit</text>
<line x1="54.80" y1="28.20" x2="54.80" y2="36.30" stroke="#000" stroke-width="0.9" />
<line x1="51.30" y1="28.20" x2="58.30" y2="28.20" stroke="#000" stroke-width="0.9" />
<line x1="51.30" y1="36.30" x2="58.30" y2="36.30" stroke="#000" stroke-width="0.9" />
<circle cx="54.80" cy="32.40" r="1.9" fill="#000"/>
<text x="69.10" y="35.40" font-size="8.3" text-anchor="start" font-family="Liberation Sans, sans-serif" fill="#000" >100 K</text>
<text x="-1.20" y="14.20" font-size="17.3" text-anchor="start" font-family="Liberation Sans, sans-serif" fill="#000" >(a)</text>
<text x="86.35" y="174.60" font-size="15.6" font-family="Liberation Serif, serif" font-style="italic" textLength="8.10" lengthAdjust="spacingAndGlyphs">θ</text>
<line x1="99.00" y1="168.85" x2="108.80" y2="168.85" stroke="#000" stroke-width="0.85" />
<line x1="99.00" y1="172.15" x2="108.80" y2="172.15" stroke="#000" stroke-width="0.85" />
<text x="113.75" y="174.60" font-size="15.6" font-family="Liberation Serif, serif" textLength="7.30" lengthAdjust="spacingAndGlyphs">0</text>
<circle cx="124.90" cy="165.30" r="2.05" fill="none" stroke="#000" stroke-width="0.75"/>
<text x="132.75" y="174.60" font-size="15.6" font-family="Liberation Serif, serif" font-style="italic" textLength="9.80" lengthAdjust="spacingAndGlyphs">ϕ</text>
<line x1="146.80" y1="168.85" x2="157.00" y2="168.85" stroke="#000" stroke-width="0.85" />
<line x1="146.80" y1="172.15" x2="157.00" y2="172.15" stroke="#000" stroke-width="0.85" />
<text x="161.55" y="174.60" font-size="15.6" font-family="Liberation Serif, serif" textLength="7.70" lengthAdjust="spacingAndGlyphs">0</text>
<circle cx="172.40" cy="164.90" r="2.05" fill="none" stroke="#000" stroke-width="0.75"/>
<polyline points="271.19,71.70 272.34,71.70 273.49,71.70 274.64,71.70 275.79,71.70 276.94,71.69 278.09,71.69 279.24,71.69 280.39,71.69 281.54,71.68 282.69,71.68 283.84,71.67 284.99,71.66 286.14,71.66 287.29,71.64 288.44,71.63 289.59,71.61 290.73,71.59 291.88,71.56 293.03,71.53 294.18,71.49 295.33,71.45 296.48,71.39 297.63,71.32 298.78,71.24 299.93,71.14 301.08,71.03 302.23,70.90 303.38,70.74 304.53,70.56 305.68,70.35 306.83,70.10 307.98,69.82 309.13,69.50 310.27,69.13 311.42,68.71 312.57,68.24 313.72,67.71 314.87,67.11 316.02,66.45 317.17,65.71 318.32,64.90 319.47,64.00 320.62,63.02 321.77,61.96 322.92,60.80 324.07,59.56 325.22,58.22 326.37,56.80 327.52,55.29 328.66,53.69 329.81,52.02 330.96,50.27 332.11,48.46 333.26,46.59 334.41,44.68 335.56,42.73 336.71,40.77 337.86,38.79 339.01,36.83 340.16,34.89 341.31,32.99 342.46,31.16 343.61,29.40 344.76,27.73 345.91,26.17 347.06,24.74 348.20,23.46 349.35,22.33 350.50,21.36 351.65,20.58 352.80,19.98 353.95,19.58 355.10,19.38 356.25,19.38 357.40,19.63 358.55,20.13 359.70,20.86 360.85,21.82 362.00,22.99 363.15,24.36 364.30,25.91 365.45,27.62 366.60,29.47 367.74,31.43 368.89,33.49 370.04,35.61 371.19,37.77 372.34,39.96 373.49,42.15 374.64,44.31 375.79,46.44 376.94,48.52 378.09,50.52 379.24,52.44 380.39,54.27 381.54,56.01 382.69,57.63 383.84,59.15 384.99,60.56 386.13,61.86 387.28,63.04 388.43,64.12 389.58,65.10 390.73,65.98 391.88,66.76 393.03,67.46 394.18,68.08 395.33,68.62 396.48,69.09 397.63,69.50 398.78,69.86 399.93,70.16 401.08,70.42 402.23,70.64 403.38,70.83 404.53,70.99 405.67,71.12 406.82,71.23 407.97,71.32 409.12,71.39 410.27,71.46 411.42,71.51 412.57,71.55 413.72,71.58 414.87,71.60 416.02,71.63 417.17,71.64 418.32,71.66 419.47,71.67 420.62,71.67 421.77,71.68 422.92,71.68 424.07,71.69 425.21,71.69 426.36,71.69 427.51,71.70 428.66,71.70 429.81,71.70 430.96,71.70 432.11,71.70 433.26,71.70 434.41,71.70 435.56,71.70 436.71,71.70 437.86,71.70 439.01,71.70 440.16,71.70 441.31,71.70 442.46,71.70 443.60,71.70" fill="none" stroke="#0000ff" stroke-width="1.4" stroke-linejoin="round" />
<polyline points="271.19,71.70 272.34,71.70 273.49,71.70 274.64,71.70 275.79,71.70 276.94,71.70 278.09,71.70 279.24,71.70 280.39,71.70 281.54,71.70 282.69,71.70 283.84,71.70 284.99,71.70 286.14,71.70 287.29,71.70 288.44,71.71 289.59,71.71 290.73,71.71 291.88,71.72 293.03,71.72 294.18,71.73 295.33,71.73 296.48,71.74 297.63,71.76 298.78,71.77 299.93,71.80 301.08,71.82 302.23,71.85 303.38,71.89 304.53,71.94 305.68,72.01 306.83,72.08 307.98,72.17 309.13,72.28 310.27,72.41 311.42,72.57 312.57,72.76 313.72,72.98 314.87,73.24 316.02,73.54 317.17,73.90 318.32,74.31 319.47,74.78 320.62,75.32 321.77,75.94 322.92,76.64 324.07,77.42 325.22,78.30 326.37,79.28 327.52,80.36 328.66,81.54 329.81,82.84 330.96,84.25 332.11,85.77 333.26,87.39 334.41,89.13 335.56,90.96 336.71,92.88 337.86,94.88 339.01,96.96 340.16,99.09 341.31,101.25 342.46,103.44 343.61,105.63 344.76,107.79 345.91,109.91 347.06,111.97 348.20,113.93 349.35,115.78 350.50,117.49 351.65,119.04 352.80,120.41 353.95,121.58 355.10,122.54 356.25,123.27 357.40,123.77 358.55,124.02 359.70,124.02 360.85,123.82 362.00,123.42 363.15,122.82 364.30,122.04 365.45,121.07 366.60,119.94 367.74,118.66 368.89,117.23 370.04,115.67 371.19,114.00 372.34,112.24 373.49,110.41 374.64,108.51 375.79,106.57 376.94,104.61 378.09,102.63 379.24,100.67 380.39,98.72 381.54,96.81 382.69,94.94 383.84,93.13 384.99,91.38 386.13,89.71 387.28,88.11 388.43,86.60 389.58,85.18 390.73,83.84 391.88,82.60 393.03,81.44 394.18,80.38 395.33,79.40 396.48,78.50 397.63,77.69 398.78,76.95 399.93,76.29 401.08,75.69 402.23,75.16 403.38,74.69 404.53,74.27 405.67,73.90 406.82,73.58 407.97,73.30 409.12,73.05 410.27,72.84 411.42,72.66 412.57,72.50 413.72,72.37 414.87,72.26 416.02,72.16 417.17,72.08 418.32,72.01 419.47,71.95 420.62,71.91 421.77,71.87 422.92,71.84 424.07,71.81 425.21,71.79 426.36,71.77 427.51,71.76 428.66,71.74 429.81,71.74 430.96,71.73 432.11,71.72 433.26,71.72 434.41,71.71 435.56,71.71 436.71,71.71 437.86,71.71 439.01,71.70 440.16,71.70 441.31,71.70 442.46,71.70 443.60,71.70" fill="none" stroke="#0000ff" stroke-width="1.4" stroke-linejoin="round" />
<polyline points="271.19,46.46 272.34,46.46 273.49,46.46 274.64,46.46 275.79,46.46 276.94,46.46 278.09,46.46 279.24,46.46 280.39,46.46 281.54,46.46 282.69,46.46 283.84,46.46 284.99,46.46 286.14,46.46 287.29,46.46 288.44,46.46 289.59,46.46 290.73,46.46 291.88,46.46 293.03,46.46 294.18,46.46 295.33,46.46 296.48,46.46 297.63,46.46 298.78,46.46 299.93,46.46 301.08,46.46 302.23,46.46 303.38,46.46 304.53,46.46 305.68,46.46 306.83,46.46 307.98,46.46 309.13,46.46 310.27,46.46 311.42,46.46 312.57,46.46 313.72,46.46 314.87,46.46 316.02,46.46 317.17,46.46 318.32,46.46 319.47,46.46 320.62,46.46 321.77,46.47 322.92,46.47 324.07,46.48 325.22,46.49 326.37,46.51 327.52,46.54 328.66,46.58 329.81,46.64 330.96,46.73 332.11,46.86 333.26,47.05 334.41,47.33 335.56,47.73 336.71,48.32 337.86,49.15 339.01,50.34 340.16,51.98 341.31,54.20 342.46,57.10 343.61,60.72 344.76,65.00 345.91,69.74 347.06,74.63 348.20,79.30 349.35,83.46 350.50,86.94 351.65,89.70 352.80,91.79 353.95,93.33 355.10,94.44 356.25,95.22 357.40,95.76 358.55,96.14 359.70,96.39 360.85,96.57 362.00,96.69 363.15,96.77 364.30,96.83 365.45,96.87 366.60,96.89 367.74,96.91 368.89,96.92 370.04,96.93 371.19,96.93 372.34,96.94 373.49,96.94 374.64,96.94 375.79,96.94 376.94,96.94 378.09,96.94 379.24,96.94 380.39,96.94 381.54,96.94 382.69,96.94 383.84,96.94 384.99,96.94 386.13,96.94 387.28,96.94 388.43,96.94 389.58,96.94 390.73,96.94 391.88,96.94 393.03,96.94 394.18,96.94 395.33,96.94 396.48,96.94 397.63,96.94 398.78,96.94 399.93,96.94 401.08,96.94 402.23,96.94 403.38,96.94 404.53,96.94 405.67,96.94 406.82,96.94 407.97,96.94 409.12,96.94 410.27,96.94 411.42,96.94 412.57,96.94 413.72,96.94 414.87,96.94 416.02,96.94 417.17,96.94 418.32,96.94 419.47,96.94 420.62,96.94 421.77,96.94 422.92,96.94 424.07,96.94 425.21,96.94 426.36,96.94 427.51,96.94 428.66,96.94 429.81,96.94 430.96,96.94 432.11,96.94 433.26,96.94 434.41,96.94 435.56,96.94 436.71,96.94 437.86,96.94 439.01,96.94 440.16,96.94 441.31,96.94 442.46,96.94 443.60,96.94" fill="none" stroke="#ff0000" stroke-width="1.4" stroke-linejoin="round" />
<polyline points="271.19,46.46 272.34,46.46 273.49,46.46 274.64,46.46 275.79,46.46 276.94,46.46 278.09,46.46 279.24,46.46 280.39,46.46 281.54,46.46 282.69,46.46 283.84,46.46 284.99,46.46 286.14,46.46 287.29,46.46 288.44,46.46 289.59,46.46 290.73,46.46 291.88,46.46 293.03,46.46 294.18,46.46 295.33,46.46 296.48,46.46 297.63,46.46 298.78,46.46 299.93,46.46 301.08,46.46 302.23,46.46 303.38,46.46 304.53,46.46 305.68,46.46 306.83,46.46 307.98,46.46 309.13,46.46 310.27,46.46 311.42,46.46 312.57,46.46 313.72,46.46 314.87,46.46 316.02,46.46 317.17,46.46 318.32,46.46 319.47,46.46 320.62,46.46 321.77,46.46 322.92,46.46 324.07,46.46 325.22,46.46 326.37,46.46 327.52,46.46 328.66,46.46 329.81,46.46 330.96,46.46 332.11,46.46 333.26,46.46 334.41,46.46 335.56,46.46 336.71,46.46 337.86,46.46 339.01,46.46 340.16,46.46 341.31,46.46 342.46,46.46 343.61,46.47 344.76,46.47 345.91,46.48 347.06,46.49 348.20,46.51 349.35,46.53 350.50,46.57 351.65,46.63 352.80,46.71 353.95,46.83 355.10,47.01 356.25,47.26 357.40,47.64 358.55,48.18 359.70,48.96 360.85,50.07 362.00,51.61 363.15,53.70 364.30,56.46 365.45,59.94 366.60,64.10 367.74,68.77 368.89,73.66 370.04,78.40 371.19,82.68 372.34,86.30 373.49,89.20 374.64,91.42 375.79,93.06 376.94,94.25 378.09,95.08 379.24,95.67 380.39,96.07 381.54,96.35 382.69,96.54 383.84,96.67 384.99,96.76 386.13,96.82 387.28,96.86 388.43,96.89 389.58,96.91 390.73,96.92 391.88,96.93 393.03,96.93 394.18,96.94 395.33,96.94 396.48,96.94 397.63,96.94 398.78,96.94 399.93,96.94 401.08,96.94 402.23,96.94 403.38,96.94 404.53,96.94 405.67,96.94 406.82,96.94 407.97,96.94 409.12,96.94 410.27,96.94 411.42,96.94 412.57,96.94 413.72,96.94 414.87,96.94 416.02,96.94 417.17,96.94 418.32,96.94 419.47,96.94 420.62,96.94 421.77,96.94 422.92,96.94 424.07,96.94 425.21,96.94 426.36,96.94 427.51,96.94 428.66,96.94 429.81,96.94 430.96,96.94 432.11,96.94 433.26,96.94 434.41,96.94 435.56,96.94 436.71,96.94 437.86,96.94 439.01,96.94 440.16,96.94 441.31,96.94 442.46,96.94 443.60,96.94" fill="none" stroke="#ff0000" stroke-width="1.4" stroke-linejoin="round" />
<polyline points="271.19,46.08 272.34,46.08 273.49,46.08 274.64,46.08 275.79,46.08 276.94,46.08 278.09,46.08 279.24,46.08 280.39,46.08 281.54,46.08 282.69,46.08 283.84,46.08 284.99,46.08 286.14,46.08 287.29,46.08 288.44,46.08 289.59,46.08 290.73,46.08 291.88,46.07 293.03,46.06 294.18,46.04 295.33,46.03 296.48,46.01 297.63,45.99 298.78,45.96 299.93,45.94 301.08,45.88 302.23,45.78 303.38,45.64 304.53,45.46 305.68,45.25 306.83,45.02 307.98,44.77 309.13,44.51 310.27,44.25 311.42,43.97 312.57,43.62 313.72,43.23 314.87,42.81 316.02,42.38 317.17,41.93 318.32,41.52 319.47,41.09 320.62,40.60 321.77,39.99 322.92,39.10 324.07,37.65 325.22,35.98 326.37,34.43 327.52,32.96 328.66,31.49 329.81,30.05 330.96,28.66 332.11,27.33 333.26,26.03 334.41,24.83 335.56,23.81 336.71,22.79 337.86,21.92 339.01,21.51 340.16,21.68 341.31,22.18 342.46,23.11 343.61,25.02 344.76,27.20 345.91,29.19 347.06,31.26 348.20,33.33 349.35,35.42 350.50,37.13 351.65,38.47 352.80,39.52 353.95,40.35 355.10,41.09 356.25,41.90 357.40,42.90 358.55,44.04 359.70,45.32 360.85,46.74 362.00,48.31 363.15,50.19 364.30,52.40 365.45,54.77 366.60,57.11 367.74,59.23 368.89,61.16 370.04,63.02 371.19,64.82 372.34,66.61 373.49,68.41 374.64,70.26 375.79,72.19 376.94,74.15 378.09,76.07 379.24,77.90 380.39,79.56 381.54,81.09 382.69,82.54 383.84,83.91 384.99,85.19 386.13,86.37 387.28,87.43 388.43,88.45 389.58,89.43 390.73,90.35 391.88,91.19 393.03,91.95 394.18,92.60 395.33,93.14 396.48,93.62 397.63,94.07 398.78,94.48 399.93,94.84 401.08,95.15 402.23,95.41 403.38,95.61 404.53,95.78 405.67,95.93 406.82,96.06 407.97,96.18 409.12,96.28 410.27,96.37 411.42,96.46 412.57,96.55 413.72,96.63 414.87,96.71 416.02,96.78 417.17,96.84 418.32,96.89 419.47,96.92 420.62,96.94 421.77,96.96 422.92,96.97 424.07,96.99 425.21,97.00 426.36,97.01 427.51,97.02 428.66,97.03 429.81,97.04 430.96,97.05 432.11,97.06 433.26,97.06 434.41,97.07 435.56,97.08 436.71,97.08 437.86,97.08 439.01,97.09 440.16,97.09 441.31,97.09 442.46,97.09 443.60,97.09" fill="none" stroke="#008000" stroke-width="2.8" stroke-linejoin="round" />
<polyline points="271.19,46.31 272.34,46.31 273.49,46.31 274.64,46.31 275.79,46.31 276.94,46.32 278.09,46.32 279.24,46.32 280.39,46.33 281.54,46.34 282.69,46.34 283.84,46.35 284.99,46.36 286.14,46.37 287.29,46.38 288.44,46.39 289.59,46.40 290.73,46.41 291.88,46.43 293.03,46.44 294.18,46.46 295.33,46.48 296.48,46.51 297.63,46.56 298.78,46.62 299.93,46.69 301.08,46.77 302.23,46.85 303.38,46.94 304.53,47.03 305.68,47.12 306.83,47.22 307.98,47.34 309.13,47.47 310.27,47.62 311.42,47.79 312.57,47.99 313.72,48.25 314.87,48.56 316.02,48.92 317.17,49.33 318.32,49.78 319.47,50.26 320.62,50.80 321.77,51.45 322.92,52.21 324.07,53.05 325.22,53.97 326.37,54.95 327.52,55.97 328.66,57.03 329.81,58.21 330.96,59.49 332.11,60.86 333.26,62.31 334.41,63.84 335.56,65.50 336.71,67.33 337.86,69.25 339.01,71.21 340.16,73.14 341.31,74.99 342.46,76.79 343.61,78.58 344.76,80.38 345.91,82.24 347.06,84.17 348.20,86.29 349.35,88.63 350.50,91.00 351.65,93.21 352.80,95.09 353.95,96.66 355.10,98.08 356.25,99.36 357.40,100.50 358.55,101.50 359.70,102.31 360.85,103.05 362.00,103.88 363.15,104.93 364.30,106.27 365.45,107.98 366.60,110.07 367.74,112.14 368.89,114.21 370.04,116.20 371.19,118.38 372.34,120.29 373.49,121.22 374.64,121.72 375.79,121.89 376.94,121.48 378.09,120.61 379.24,119.59 380.39,118.57 381.54,117.37 382.69,116.07 383.84,114.74 384.99,113.35 386.13,111.91 387.28,110.44 388.43,108.97 389.58,107.42 390.73,105.75 391.88,104.30 393.03,103.41 394.18,102.80 395.33,102.31 396.48,101.88 397.63,101.47 398.78,101.02 399.93,100.59 401.08,100.17 402.23,99.78 403.38,99.43 404.53,99.15 405.67,98.89 406.82,98.63 407.97,98.38 409.12,98.15 410.27,97.94 411.42,97.76 412.57,97.62 413.72,97.52 414.87,97.46 416.02,97.44 417.17,97.41 418.32,97.39 419.47,97.37 420.62,97.36 421.77,97.34 422.92,97.33 424.07,97.32 425.21,97.32 426.36,97.32 427.51,97.32 428.66,97.32 429.81,97.32 430.96,97.32 432.11,97.32 433.26,97.32 434.41,97.32 435.56,97.32 436.71,97.32 437.86,97.32 439.01,97.32 440.16,97.32 441.31,97.32 442.46,97.32 443.60,97.32" fill="none" stroke="#008000" stroke-width="2.8" stroke-linejoin="round" />
<line x1="271.19" y1="33.99" x2="271.19" y2="41.85" stroke="#000" stroke-width="0.9" />
<line x1="268.19" y1="33.99" x2="274.19" y2="33.99" stroke="#000" stroke-width="0.9" />
<line x1="268.19" y1="41.85" x2="274.19" y2="41.85" stroke="#000" stroke-width="0.9" />
<circle cx="271.19" cy="37.92" r="2.4" fill="#000"/>
<line x1="443.60" y1="101.55" x2="443.60" y2="109.41" stroke="#000" stroke-width="0.9" />
<line x1="440.60" y1="101.55" x2="446.60" y2="101.55" stroke="#000" stroke-width="0.9" />
<line x1="440.60" y1="109.41" x2="446.60" y2="109.41" stroke="#000" stroke-width="0.9" />
<circle cx="443.60" cy="105.48" r="2.4" fill="#000"/>
<line x1="276.94" y1="34.86" x2="276.94" y2="43.35" stroke="#000" stroke-width="0.9" />
<line x1="273.94" y1="34.86" x2="279.94" y2="34.86" stroke="#000" stroke-width="0.9" />
<line x1="273.94" y1="43.35" x2="279.94" y2="43.35" stroke="#000" stroke-width="0.9" />
<circle cx="276.94" cy="39.10" r="2.4" fill="#000"/>
<line x1="437.86" y1="100.05" x2="437.86" y2="108.54" stroke="#000" stroke-width="0.9" />
<line x1="434.86" y1="100.05" x2="440.86" y2="100.05" stroke="#000" stroke-width="0.9" />
<line x1="434.86" y1="108.54" x2="440.86" y2="108.54" stroke="#000" stroke-width="0.9" />
<circle cx="437.86" cy="104.30" r="2.4" fill="#000"/>
<line x1="282.69" y1="35.56" x2="282.69" y2="46.21" stroke="#000" stroke-width="0.9" />
<line x1="279.69" y1="35.56" x2="285.69" y2="35.56" stroke="#000" stroke-width="0.9" />
<line x1="279.69" y1="46.21" x2="285.69" y2="46.21" stroke="#000" stroke-width="0.9" />
<circle cx="282.69" cy="40.89" r="2.4" fill="#000"/>
<line x1="432.11" y1="97.19" x2="432.11" y2="107.84" stroke="#000" stroke-width="0.9" />
<line x1="429.11" y1="97.19" x2="435.11" y2="97.19" stroke="#000" stroke-width="0.9" />
<line x1="429.11" y1="107.84" x2="435.11" y2="107.84" stroke="#000" stroke-width="0.9" />
<circle cx="432.11" cy="102.51" r="2.4" fill="#000"/>
<line x1="288.44" y1="41.15" x2="288.44" y2="49.09" stroke="#000" stroke-width="0.9" />
<line x1="285.44" y1="41.15" x2="291.44" y2="41.15" stroke="#000" stroke-width="0.9" />
<line x1="285.44" y1="49.09" x2="291.44" y2="49.09" stroke="#000" stroke-width="0.9" />
<circle cx="288.44" cy="45.12" r="2.4" fill="#000"/>
<line x1="426.36" y1="94.31" x2="426.36" y2="102.25" stroke="#000" stroke-width="0.9" />
<line x1="423.36" y1="94.31" x2="429.36" y2="94.31" stroke="#000" stroke-width="0.9" />
<line x1="423.36" y1="102.25" x2="429.36" y2="102.25" stroke="#000" stroke-width="0.9" />
<circle cx="426.36" cy="98.28" r="2.4" fill="#000"/>
<line x1="294.18" y1="39.84" x2="294.18" y2="48.02" stroke="#000" stroke-width="0.9" />
<line x1="291.18" y1="39.84" x2="297.18" y2="39.84" stroke="#000" stroke-width="0.9" />
<line x1="291.18" y1="48.02" x2="297.18" y2="48.02" stroke="#000" stroke-width="0.9" />
<circle cx="294.18" cy="43.93" r="2.4" fill="#000"/>
<line x1="420.62" y1="95.38" x2="420.62" y2="103.56" stroke="#000" stroke-width="0.9" />
<line x1="417.62" y1="95.38" x2="423.62" y2="95.38" stroke="#000" stroke-width="0.9" />
<line x1="417.62" y1="103.56" x2="423.62" y2="103.56" stroke="#000" stroke-width="0.9" />
<circle cx="420.62" cy="99.47" r="2.4" fill="#000"/>
<line x1="299.93" y1="45.10" x2="299.93" y2="53.75" stroke="#000" stroke-width="0.9" />
<line x1="296.93" y1="45.10" x2="302.93" y2="45.10" stroke="#000" stroke-width="0.9" />
<line x1="296.93" y1="53.75" x2="302.93" y2="53.75" stroke="#000" stroke-width="0.9" />
<circle cx="299.93" cy="49.43" r="2.4" fill="#000"/>
<line x1="414.87" y1="89.65" x2="414.87" y2="98.30" stroke="#000" stroke-width="0.9" />
<line x1="411.87" y1="89.65" x2="417.87" y2="89.65" stroke="#000" stroke-width="0.9" />
<line x1="411.87" y1="98.30" x2="417.87" y2="98.30" stroke="#000" stroke-width="0.9" />
<circle cx="414.87" cy="93.97" r="2.4" fill="#000"/>
<line x1="305.68" y1="40.79" x2="305.68" y2="47.07" stroke="#000" stroke-width="0.9" />
<line x1="302.68" y1="40.79" x2="308.68" y2="40.79" stroke="#000" stroke-width="0.9" />
<line x1="302.68" y1="47.07" x2="308.68" y2="47.07" stroke="#000" stroke-width="0.9" />
<circle cx="305.68" cy="43.93" r="2.4" fill="#000"/>
<line x1="409.12" y1="96.33" x2="409.12" y2="102.61" stroke="#000" stroke-width="0.9" />
<line x1="406.12" y1="96.33" x2="412.12" y2="96.33" stroke="#000" stroke-width="0.9" />
<line x1="406.12" y1="102.61" x2="412.12" y2="102.61" stroke="#000" stroke-width="0.9" />
<circle cx="409.12" cy="99.47" r="2.4" fill="#000"/>
<line x1="311.42" y1="42.80" x2="311.42" y2="51.01" stroke="#000" stroke-width="0.9" />
<line x1="308.42" y1="42.80" x2="314.42" y2="42.80" stroke="#000" stroke-width="0.9" />
<line x1="308.42" y1="51.01" x2="314.42" y2="51.01" stroke="#000" stroke-width="0.9" />
<circle cx="311.42" cy="46.90" r="2.4" fill="#000"/>
<line x1="403.38" y1="92.39" x2="403.38" y2="100.60" stroke="#000" stroke-width="0.9" />
<line x1="400.38" y1="92.39" x2="406.38" y2="92.39" stroke="#000" stroke-width="0.9" />
<line x1="400.38" y1="100.60" x2="406.38" y2="100.60" stroke="#000" stroke-width="0.9" />
<circle cx="403.38" cy="96.50" r="2.4" fill="#000"/>
<line x1="317.17" y1="37.55" x2="317.17" y2="46.45" stroke="#000" stroke-width="0.9" />
<line x1="314.17" y1="37.55" x2="320.17" y2="37.55" stroke="#000" stroke-width="0.9" />
<line x1="314.17" y1="46.45" x2="320.17" y2="46.45" stroke="#000" stroke-width="0.9" />
<circle cx="317.17" cy="42.00" r="2.4" fill="#000"/>
<line x1="397.63" y1="96.95" x2="397.63" y2="105.85" stroke="#000" stroke-width="0.9" />
<line x1="394.63" y1="96.95" x2="400.63" y2="96.95" stroke="#000" stroke-width="0.9" />
<line x1="394.63" y1="105.85" x2="400.63" y2="105.85" stroke="#000" stroke-width="0.9" />
<circle cx="397.63" cy="101.40" r="2.4" fill="#000"/>
<line x1="322.92" y1="35.58" x2="322.92" y2="45.45" stroke="#000" stroke-width="0.9" />
<line x1="319.92" y1="35.58" x2="325.92" y2="35.58" stroke="#000" stroke-width="0.9" />
<line x1="319.92" y1="45.45" x2="325.92" y2="45.45" stroke="#000" stroke-width="0.9" />
<circle cx="322.92" cy="40.52" r="2.4" fill="#000"/>
<line x1="391.88" y1="97.95" x2="391.88" y2="107.82" stroke="#000" stroke-width="0.9" />
<line x1="388.88" y1="97.95" x2="394.88" y2="97.95" stroke="#000" stroke-width="0.9" />
<line x1="388.88" y1="107.82" x2="394.88" y2="107.82" stroke="#000" stroke-width="0.9" />
<circle cx="391.88" cy="102.89" r="2.4" fill="#000"/>
<line x1="328.66" y1="26.36" x2="328.66" y2="32.10" stroke="#000" stroke-width="0.9" />
<line x1="325.66" y1="26.36" x2="331.66" y2="26.36" stroke="#000" stroke-width="0.9" />
<line x1="325.66" y1="32.10" x2="331.66" y2="32.10" stroke="#000" stroke-width="0.9" />
<circle cx="328.66" cy="29.23" r="2.4" fill="#000"/>
<line x1="386.13" y1="111.30" x2="386.13" y2="117.04" stroke="#000" stroke-width="0.9" />
<line x1="383.13" y1="111.30" x2="389.13" y2="111.30" stroke="#000" stroke-width="0.9" />
<line x1="383.13" y1="117.04" x2="389.13" y2="117.04" stroke="#000" stroke-width="0.9" />
<circle cx="386.13" cy="114.17" r="2.4" fill="#000"/>
<line x1="334.41" y1="20.54" x2="334.41" y2="27.52" stroke="#000" stroke-width="0.9" />
<line x1="331.41" y1="20.54" x2="337.41" y2="20.54" stroke="#000" stroke-width="0.9" />
<line x1="331.41" y1="27.52" x2="337.41" y2="27.52" stroke="#000" stroke-width="0.9" />
<circle cx="334.41" cy="24.03" r="2.4" fill="#000"/>
<line x1="380.39" y1="115.88" x2="380.39" y2="122.86" stroke="#000" stroke-width="0.9" />
<line x1="377.39" y1="115.88" x2="383.39" y2="115.88" stroke="#000" stroke-width="0.9" />
<line x1="377.39" y1="122.86" x2="383.39" y2="122.86" stroke="#000" stroke-width="0.9" />
<circle cx="380.39" cy="119.37" r="2.4" fill="#000"/>
<line x1="340.16" y1="14.55" x2="340.16" y2="28.61" stroke="#000" stroke-width="0.9" />
<line x1="337.16" y1="14.55" x2="343.16" y2="14.55" stroke="#000" stroke-width="0.9" />
<line x1="337.16" y1="28.61" x2="343.16" y2="28.61" stroke="#000" stroke-width="0.9" />
<circle cx="340.16" cy="21.58" r="2.4" fill="#000"/>
<line x1="374.64" y1="114.79" x2="374.64" y2="128.85" stroke="#000" stroke-width="0.9" />
<line x1="371.64" y1="114.79" x2="377.64" y2="114.79" stroke="#000" stroke-width="0.9" />
<line x1="371.64" y1="128.85" x2="377.64" y2="128.85" stroke="#000" stroke-width="0.9" />
<circle cx="374.64" cy="121.82" r="2.4" fill="#000"/>
<line x1="345.91" y1="25.13" x2="345.91" y2="35.11" stroke="#000" stroke-width="0.9" />
<line x1="342.91" y1="25.13" x2="348.91" y2="25.13" stroke="#000" stroke-width="0.9" />
<line x1="342.91" y1="35.11" x2="348.91" y2="35.11" stroke="#000" stroke-width="0.9" />
<circle cx="345.91" cy="30.12" r="2.4" fill="#000"/>
<line x1="368.89" y1="108.29" x2="368.89" y2="118.27" stroke="#000" stroke-width="0.9" />
<line x1="365.89" y1="108.29" x2="371.89" y2="108.29" stroke="#000" stroke-width="0.9" />
<line x1="365.89" y1="118.27" x2="371.89" y2="118.27" stroke="#000" stroke-width="0.9" />
<circle cx="368.89" cy="113.28" r="2.4" fill="#000"/>
<line x1="351.65" y1="35.43" x2="351.65" y2="44.71" stroke="#000" stroke-width="0.9" />
<line x1="348.65" y1="35.43" x2="354.65" y2="35.43" stroke="#000" stroke-width="0.9" />
<line x1="348.65" y1="44.71" x2="354.65" y2="44.71" stroke="#000" stroke-width="0.9" />
<circle cx="351.65" cy="40.07" r="2.4" fill="#000"/>
<line x1="363.15" y1="98.69" x2="363.15" y2="107.97" stroke="#000" stroke-width="0.9" />
<line x1="360.15" y1="98.69" x2="366.15" y2="98.69" stroke="#000" stroke-width="0.9" />
<line x1="360.15" y1="107.97" x2="366.15" y2="107.97" stroke="#000" stroke-width="0.9" />
<circle cx="363.15" cy="103.33" r="2.4" fill="#000"/>
<line x1="357.40" y1="32.74" x2="357.40" y2="43.10" stroke="#000" stroke-width="0.9" />
<line x1="354.40" y1="32.74" x2="360.40" y2="32.74" stroke="#000" stroke-width="0.9" />
<line x1="354.40" y1="43.10" x2="360.40" y2="43.10" stroke="#000" stroke-width="0.9" />
<circle cx="357.40" cy="37.92" r="2.4" fill="#000"/>
<line x1="357.40" y1="100.30" x2="357.40" y2="110.66" stroke="#000" stroke-width="0.9" />
<line x1="354.40" y1="100.30" x2="360.40" y2="100.30" stroke="#000" stroke-width="0.9" />
<line x1="354.40" y1="110.66" x2="360.40" y2="110.66" stroke="#000" stroke-width="0.9" />
<circle cx="357.40" cy="105.48" r="2.4" fill="#000"/>
<line x1="363.15" y1="43.78" x2="363.15" y2="54.77" stroke="#000" stroke-width="0.9" />
<line x1="360.15" y1="43.78" x2="366.15" y2="43.78" stroke="#000" stroke-width="0.9" />
<line x1="360.15" y1="54.77" x2="366.15" y2="54.77" stroke="#000" stroke-width="0.9" />
<circle cx="363.15" cy="49.28" r="2.4" fill="#000"/>
<line x1="351.65" y1="88.63" x2="351.65" y2="99.62" stroke="#000" stroke-width="0.9" />
<line x1="348.65" y1="88.63" x2="354.65" y2="88.63" stroke="#000" stroke-width="0.9" />
<line x1="348.65" y1="99.62" x2="354.65" y2="99.62" stroke="#000" stroke-width="0.9" />
<circle cx="351.65" cy="94.12" r="2.4" fill="#000"/>
<line x1="368.89" y1="55.93" x2="368.89" y2="66.82" stroke="#000" stroke-width="0.9" />
<line x1="365.89" y1="55.93" x2="371.89" y2="55.93" stroke="#000" stroke-width="0.9" />
<line x1="365.89" y1="66.82" x2="371.89" y2="66.82" stroke="#000" stroke-width="0.9" />
<circle cx="368.89" cy="61.38" r="2.4" fill="#000"/>
<line x1="345.91" y1="76.58" x2="345.91" y2="87.47" stroke="#000" stroke-width="0.9" />
<line x1="342.91" y1="76.58" x2="348.91" y2="76.58" stroke="#000" stroke-width="0.9" />
<line x1="342.91" y1="87.47" x2="348.91" y2="87.47" stroke="#000" stroke-width="0.9" />
<circle cx="345.91" cy="82.02" r="2.4" fill="#000"/>
<line x1="374.64" y1="59.84" x2="374.64" y2="73.16" stroke="#000" stroke-width="0.9" />
<line x1="371.64" y1="59.84" x2="377.64" y2="59.84" stroke="#000" stroke-width="0.9" />
<line x1="371.64" y1="73.16" x2="377.64" y2="73.16" stroke="#000" stroke-width="0.9" />
<circle cx="374.64" cy="66.50" r="2.4" fill="#000"/>
<line x1="340.16" y1="70.24" x2="340.16" y2="83.56" stroke="#000" stroke-width="0.9" />
<line x1="337.16" y1="70.24" x2="343.16" y2="70.24" stroke="#000" stroke-width="0.9" />
<line x1="337.16" y1="83.56" x2="343.16" y2="83.56" stroke="#000" stroke-width="0.9" />
<circle cx="340.16" cy="76.90" r="2.4" fill="#000"/>
<line x1="380.39" y1="75.08" x2="380.39" y2="83.91" stroke="#000" stroke-width="0.9" />
<line x1="377.39" y1="75.08" x2="383.39" y2="75.08" stroke="#000" stroke-width="0.9" />
<line x1="377.39" y1="83.91" x2="383.39" y2="83.91" stroke="#000" stroke-width="0.9" />
<circle cx="380.39" cy="79.50" r="2.4" fill="#000"/>
<line x1="334.41" y1="59.49" x2="334.41" y2="68.32" stroke="#000" stroke-width="0.9" />
<line x1="331.41" y1="59.49" x2="337.41" y2="59.49" stroke="#000" stroke-width="0.9" />
<line x1="331.41" y1="68.32" x2="337.41" y2="68.32" stroke="#000" stroke-width="0.9" />
<circle cx="334.41" cy="63.90" r="2.4" fill="#000"/>
<line x1="386.13" y1="77.03" x2="386.13" y2="83.15" stroke="#000" stroke-width="0.9" />
<line x1="383.13" y1="77.03" x2="389.13" y2="77.03" stroke="#000" stroke-width="0.9" />
<line x1="383.13" y1="83.15" x2="389.13" y2="83.15" stroke="#000" stroke-width="0.9" />
<circle cx="386.13" cy="80.09" r="2.4" fill="#000"/>
<line x1="328.66" y1="60.25" x2="328.66" y2="66.37" stroke="#000" stroke-width="0.9" />
<line x1="325.66" y1="60.25" x2="331.66" y2="60.25" stroke="#000" stroke-width="0.9" />
<line x1="325.66" y1="66.37" x2="331.66" y2="66.37" stroke="#000" stroke-width="0.9" />
<circle cx="328.66" cy="63.31" r="2.4" fill="#000"/>
<line x1="391.88" y1="84.73" x2="391.88" y2="90.00" stroke="#000" stroke-width="0.9" />
<line x1="388.88" y1="84.73" x2="394.88" y2="84.73" stroke="#000" stroke-width="0.9" />
<line x1="388.88" y1="90.00" x2="394.88" y2="90.00" stroke="#000" stroke-width="0.9" />
<circle cx="391.88" cy="87.37" r="2.4" fill="#000"/>
<line x1="322.92" y1="53.40" x2="322.92" y2="58.67" stroke="#000" stroke-width="0.9" />
<line x1="319.92" y1="53.40" x2="325.92" y2="53.40" stroke="#000" stroke-width="0.9" />
<line x1="319.92" y1="58.67" x2="325.92" y2="58.67" stroke="#000" stroke-width="0.9" />
<circle cx="322.92" cy="56.03" r="2.4" fill="#000"/>
<line x1="397.63" y1="88.78" x2="397.63" y2="97.09" stroke="#000" stroke-width="0.9" />
<line x1="394.63" y1="88.78" x2="400.63" y2="88.78" stroke="#000" stroke-width="0.9" />
<line x1="394.63" y1="97.09" x2="400.63" y2="97.09" stroke="#000" stroke-width="0.9" />
<circle cx="397.63" cy="92.94" r="2.4" fill="#000"/>
<line x1="317.17" y1="46.31" x2="317.17" y2="54.62" stroke="#000" stroke-width="0.9" />
<line x1="314.17" y1="46.31" x2="320.17" y2="46.31" stroke="#000" stroke-width="0.9" />
<line x1="314.17" y1="54.62" x2="320.17" y2="54.62" stroke="#000" stroke-width="0.9" />
<circle cx="317.17" cy="50.46" r="2.4" fill="#000"/>
<line x1="403.38" y1="91.95" x2="403.38" y2="97.48" stroke="#000" stroke-width="0.9" />
<line x1="400.38" y1="91.95" x2="406.38" y2="91.95" stroke="#000" stroke-width="0.9" />
<line x1="400.38" y1="97.48" x2="406.38" y2="97.48" stroke="#000" stroke-width="0.9" />
<circle cx="403.38" cy="94.72" r="2.4" fill="#000"/>
<line x1="311.42" y1="45.92" x2="311.42" y2="51.45" stroke="#000" stroke-width="0.9" />
<line x1="308.42" y1="45.92" x2="314.42" y2="45.92" stroke="#000" stroke-width="0.9" />
<line x1="308.42" y1="51.45" x2="314.42" y2="51.45" stroke="#000" stroke-width="0.9" />
<circle cx="311.42" cy="48.68" r="2.4" fill="#000"/>
<line x1="409.12" y1="89.71" x2="409.12" y2="96.01" stroke="#000" stroke-width="0.9" />
<line x1="406.12" y1="89.71" x2="412.12" y2="89.71" stroke="#000" stroke-width="0.9" />
<line x1="406.12" y1="96.01" x2="412.12" y2="96.01" stroke="#000" stroke-width="0.9" />
<circle cx="409.12" cy="92.86" r="2.4" fill="#000"/>
<line x1="305.68" y1="47.39" x2="305.68" y2="53.69" stroke="#000" stroke-width="0.9" />
<line x1="302.68" y1="47.39" x2="308.68" y2="47.39" stroke="#000" stroke-width="0.9" />
<line x1="302.68" y1="53.69" x2="308.68" y2="53.69" stroke="#000" stroke-width="0.9" />
<circle cx="305.68" cy="50.54" r="2.4" fill="#000"/>
<line x1="414.87" y1="87.70" x2="414.87" y2="94.31" stroke="#000" stroke-width="0.9" />
<line x1="411.87" y1="87.70" x2="417.87" y2="87.70" stroke="#000" stroke-width="0.9" />
<line x1="411.87" y1="94.31" x2="417.87" y2="94.31" stroke="#000" stroke-width="0.9" />
<circle cx="414.87" cy="91.00" r="2.4" fill="#000"/>
<line x1="299.93" y1="49.09" x2="299.93" y2="55.70" stroke="#000" stroke-width="0.9" />
<line x1="296.93" y1="49.09" x2="302.93" y2="49.09" stroke="#000" stroke-width="0.9" />
<line x1="296.93" y1="55.70" x2="302.93" y2="55.70" stroke="#000" stroke-width="0.9" />
<circle cx="299.93" cy="52.40" r="2.4" fill="#000"/>
<line x1="420.62" y1="93.37" x2="420.62" y2="98.73" stroke="#000" stroke-width="0.9" />
<line x1="417.62" y1="93.37" x2="423.62" y2="93.37" stroke="#000" stroke-width="0.9" />
<line x1="417.62" y1="98.73" x2="423.62" y2="98.73" stroke="#000" stroke-width="0.9" />
<circle cx="420.62" cy="96.05" r="2.4" fill="#000"/>
<line x1="294.18" y1="44.67" x2="294.18" y2="50.03" stroke="#000" stroke-width="0.9" />
<line x1="291.18" y1="44.67" x2="297.18" y2="44.67" stroke="#000" stroke-width="0.9" />
<line x1="291.18" y1="50.03" x2="297.18" y2="50.03" stroke="#000" stroke-width="0.9" />
<circle cx="294.18" cy="47.35" r="2.4" fill="#000"/>
<line x1="426.36" y1="91.87" x2="426.36" y2="99.79" stroke="#000" stroke-width="0.9" />
<line x1="423.36" y1="91.87" x2="429.36" y2="91.87" stroke="#000" stroke-width="0.9" />
<line x1="423.36" y1="99.79" x2="429.36" y2="99.79" stroke="#000" stroke-width="0.9" />
<circle cx="426.36" cy="95.83" r="2.4" fill="#000"/>
<line x1="288.44" y1="43.61" x2="288.44" y2="51.53" stroke="#000" stroke-width="0.9" />
<line x1="285.44" y1="43.61" x2="291.44" y2="43.61" stroke="#000" stroke-width="0.9" />
<line x1="285.44" y1="51.53" x2="291.44" y2="51.53" stroke="#000" stroke-width="0.9" />
<circle cx="288.44" cy="47.57" r="2.4" fill="#000"/>
<line x1="432.11" y1="92.90" x2="432.11" y2="100.69" stroke="#000" stroke-width="0.9" />
<line x1="429.11" y1="92.90" x2="435.11" y2="92.90" stroke="#000" stroke-width="0.9" />
<line x1="429.11" y1="100.69" x2="435.11" y2="100.69" stroke="#000" stroke-width="0.9" />
<circle cx="432.11" cy="96.80" r="2.4" fill="#000"/>
<line x1="282.69" y1="42.71" x2="282.69" y2="50.50" stroke="#000" stroke-width="0.9" />
<line x1="279.69" y1="42.71" x2="285.69" y2="42.71" stroke="#000" stroke-width="0.9" />
<line x1="279.69" y1="50.50" x2="285.69" y2="50.50" stroke="#000" stroke-width="0.9" />
<circle cx="282.69" cy="46.60" r="2.4" fill="#000"/>
<line x1="437.86" y1="92.60" x2="437.86" y2="102.77" stroke="#000" stroke-width="0.9" />
<line x1="434.86" y1="92.60" x2="440.86" y2="92.60" stroke="#000" stroke-width="0.9" />
<line x1="434.86" y1="102.77" x2="440.86" y2="102.77" stroke="#000" stroke-width="0.9" />
<circle cx="437.86" cy="97.69" r="2.4" fill="#000"/>
<line x1="276.94" y1="40.63" x2="276.94" y2="50.80" stroke="#000" stroke-width="0.9" />
<line x1="273.94" y1="40.63" x2="279.94" y2="40.63" stroke="#000" stroke-width="0.9" />
<line x1="273.94" y1="50.80" x2="279.94" y2="50.80" stroke="#000" stroke-width="0.9" />
<circle cx="276.94" cy="45.71" r="2.4" fill="#000"/>
<line x1="443.60" y1="100.99" x2="443.60" y2="109.24" stroke="#000" stroke-width="0.9" />
<line x1="440.60" y1="100.99" x2="446.60" y2="100.99" stroke="#000" stroke-width="0.9" />
<line x1="440.60" y1="109.24" x2="446.60" y2="109.24" stroke="#000" stroke-width="0.9" />
<circle cx="443.60" cy="105.11" r="2.4" fill="#000"/>
<line x1="271.19" y1="34.16" x2="271.19" y2="42.41" stroke="#000" stroke-width="0.9" />
<line x1="268.19" y1="34.16" x2="274.19" y2="34.16" stroke="#000" stroke-width="0.9" />
<line x1="268.19" y1="42.41" x2="274.19" y2="42.41" stroke="#000" stroke-width="0.9" />
<circle cx="271.19" cy="38.29" r="2.4" fill="#000"/>
<line x1="330.40" y1="72.80" x2="343.68" y2="96.29" stroke="#000" stroke-width="2.2" />
<polygon points="348.60,105.00 339.69,97.97 347.18,93.74" fill="#000"/>
<line x1="381.00" y1="66.50" x2="368.17" y2="44.08" stroke="#000" stroke-width="2.2" />
<polygon points="363.20,35.40 372.15,42.38 364.68,46.65" fill="#000"/>
<line x1="353.00" y1="81.90" x2="348.20" y2="67.34" stroke="#ff0000" stroke-width="1.3" />
<polygon points="346.60,62.50 350.54,67.10 346.17,68.54" fill="#ff0000"/>
<line x1="361.10" y1="63.80" x2="366.68" y2="79.40" stroke="#ff0000" stroke-width="1.3" />
<polygon points="368.40,84.20 364.35,79.70 368.68,78.15" fill="#ff0000"/>
<line x1="383.70" y1="52.10" x2="376.04" y2="38.08" stroke="#0000ff" stroke-width="1.3" />
<polygon points="373.60,33.60 378.30,37.41 374.26,39.62" fill="#0000ff"/>
<line x1="330.40" y1="92.70" x2="337.23" y2="105.69" stroke="#0000ff" stroke-width="1.3" />
<polygon points="339.60,110.20 334.96,106.31 339.03,104.17" fill="#0000ff"/>
<rect x="262.50" y="10.50" width="189.10" height="122.00" fill="none" stroke="#666" stroke-width="0.95"/>
<line x1="271.19" y1="132.50" x2="271.19" y2="134.90" stroke="#333" stroke-width="0.8" />
<text x="271.19" y="143.10" font-size="9.0" text-anchor="middle" font-family="Liberation Sans, sans-serif" fill="#000" textLength="18.00" lengthAdjust="spacingAndGlyphs" >−15</text>
<line x1="357.40" y1="132.50" x2="357.40" y2="134.90" stroke="#333" stroke-width="0.8" />
<text x="357.40" y="143.10" font-size="9.0" text-anchor="middle" font-family="Liberation Sans, sans-serif" fill="#000" textLength="5.45" lengthAdjust="spacingAndGlyphs" >0</text>
<line x1="443.60" y1="132.50" x2="443.60" y2="134.90" stroke="#333" stroke-width="0.8" />
<text x="443.60" y="143.10" font-size="9.0" text-anchor="middle" font-family="Liberation Sans, sans-serif" fill="#000" textLength="10.90" lengthAdjust="spacingAndGlyphs" >15</text>
<line x1="260.30" y1="12.30" x2="262.50" y2="12.30" stroke="#333" stroke-width="0.8" />
<text x="258.30" y="15.30" font-size="9.0" text-anchor="end" font-family="Liberation Sans, sans-serif" fill="#000" textLength="5.45" lengthAdjust="spacingAndGlyphs" >8</text>
<line x1="260.30" y1="42.00" x2="262.50" y2="42.00" stroke="#333" stroke-width="0.8" />
<text x="258.30" y="45.00" font-size="9.0" text-anchor="end" font-family="Liberation Sans, sans-serif" fill="#000" textLength="5.45" lengthAdjust="spacingAndGlyphs" >4</text>
<line x1="260.30" y1="71.70" x2="262.50" y2="71.70" stroke="#333" stroke-width="0.8" />
<text x="258.30" y="74.70" font-size="9.0" text-anchor="end" font-family="Liberation Sans, sans-serif" fill="#000" textLength="5.45" lengthAdjust="spacingAndGlyphs" >0</text>
<line x1="260.30" y1="101.40" x2="262.50" y2="101.40" stroke="#333" stroke-width="0.8" />
<text x="258.30" y="104.40" font-size="9.0" text-anchor="end" font-family="Liberation Sans, sans-serif" fill="#000" textLength="12.55" lengthAdjust="spacingAndGlyphs" >−4</text>
<line x1="260.30" y1="131.10" x2="262.50" y2="131.10" stroke="#333" stroke-width="0.8" />
<text x="258.30" y="134.10" font-size="9.0" text-anchor="end" font-family="Liberation Sans, sans-serif" fill="#000" textLength="12.55" lengthAdjust="spacingAndGlyphs" >−8</text>
<text x="357.40" y="154.00" font-size="9.2" text-anchor="middle" font-family="Liberation Sans, sans-serif" fill="#000" textLength="19.8" lengthAdjust="spacingAndGlyphs" >B (T)</text>
<text transform="translate(239.6,75.0) rotate(-90)" font-size="8.6" text-anchor="middle" font-family="Liberation Sans, sans-serif" textLength="33.7" lengthAdjust="spacingAndGlyphs"><tspan font-style="italic">R</tspan><tspan font-style="italic" font-size="6.2" dy="1.9">xy</tspan><tspan dy="-1.9">(</tspan><tspan font-style="italic">m</tspan>Ω)</text>
<rect x="403.7" y="14.5" width="43.8" height="50.9" rx="1.5" fill="#fff" fill-opacity="0.8" stroke="#ddd" stroke-width="0.8"/>
<line x1="414.20" y1="16.50" x2="414.20" y2="23.70" stroke="#000" stroke-width="0.9" />
<line x1="411.60" y1="16.50" x2="416.80" y2="16.50" stroke="#000" stroke-width="0.9" />
<line x1="411.60" y1="23.70" x2="416.80" y2="23.70" stroke="#000" stroke-width="0.9" />
<circle cx="414.20" cy="20.10" r="2.2" fill="#000"/>
<text x="427.90" y="23.20" font-size="8.3" text-anchor="start" font-family="Liberation Sans, sans-serif" fill="#000" >Data</text>
<line x1="406.60" y1="31.60" x2="421.90" y2="31.60" stroke="#0000ff" stroke-width="1.4" />
<text x="427.50" y="34.60" font-size="8.8" font-family="Liberation Sans, sans-serif" font-style="italic">R</text>
<text x="433.50" y="31.00" font-size="4.9" font-family="Liberation Sans, sans-serif" font-style="normal">SSC</text>
<text x="433.10" y="37.20" font-size="5.3" font-family="Liberation Sans, sans-serif" font-style="italic">xy</text>
<line x1="406.60" y1="45.70" x2="421.90" y2="45.70" stroke="#ff0000" stroke-width="1.4" />
<text x="427.50" y="48.60" font-size="8.8" font-family="Liberation Sans, sans-serif" font-style="italic">R</text>
<text x="433.50" y="45.00" font-size="4.9" font-family="Liberation Sans, sans-serif" font-style="normal">Oct</text>
<text x="433.10" y="51.20" font-size="5.3" font-family="Liberation Sans, sans-serif" font-style="italic">xy</text>
<line x1="406.60" y1="58.50" x2="421.90" y2="58.50" stroke="#008000" stroke-width="2.8" />
<text x="427.90" y="61.50" font-size="8.3" text-anchor="start" font-family="Liberation Sans, sans-serif" fill="#000" >Total</text>
<text x="230.80" y="13.00" font-size="17.3" text-anchor="start" font-family="Liberation Sans, sans-serif" fill="#000" >(b)</text>
<text x="293.85" y="174.20" font-size="15.6" font-family="Liberation Serif, serif" font-style="italic" textLength="9.00" lengthAdjust="spacingAndGlyphs">θ</text>
<line x1="306.60" y1="168.45" x2="316.70" y2="168.45" stroke="#000" stroke-width="0.85" />
<line x1="306.60" y1="171.75" x2="316.70" y2="171.75" stroke="#000" stroke-width="0.85" />
<text x="321.85" y="174.20" font-size="15.6" font-family="Liberation Serif, serif" textLength="15.10" lengthAdjust="spacingAndGlyphs">90</text>
<circle cx="340.20" cy="165.40" r="2.05" fill="none" stroke="#000" stroke-width="0.75"/>
<text x="345.85" y="174.20" font-size="15.6" font-family="Liberation Serif, serif" font-style="italic" textLength="10.60" lengthAdjust="spacingAndGlyphs">ϕ</text>
<line x1="359.70" y1="168.45" x2="370.10" y2="168.45" stroke="#000" stroke-width="0.85" />
<line x1="359.70" y1="171.75" x2="370.10" y2="171.75" stroke="#000" stroke-width="0.85" />
<line x1="376.30" y1="170.10" x2="385.80" y2="170.10" stroke="#000" stroke-width="0.85" />
<text x="387.65" y="174.20" font-size="15.6" font-family="Liberation Serif, serif" textLength="13.40" lengthAdjust="spacingAndGlyphs">75</text>
<circle cx="404.60" cy="165.40" r="2.05" fill="none" stroke="#000" stroke-width="0.75"/>
<polyline points="504.39,31.58 505.54,31.58 506.68,31.58 507.82,31.58 508.96,31.58 510.10,31.58 511.24,31.58 512.38,31.58 513.53,31.58 514.67,31.58 515.81,31.58 516.95,31.58 518.09,31.58 519.23,31.58 520.37,31.58 521.52,31.58 522.66,31.58 523.80,31.58 524.94,31.58 526.08,31.58 527.22,31.58 528.36,31.58 529.51,31.58 530.65,31.58 531.79,31.58 532.93,31.58 534.07,31.58 535.21,31.59 536.35,31.60 537.50,31.62 538.64,31.65 539.78,31.67 540.92,31.70 542.06,31.73 543.20,31.76 544.34,31.79 545.49,31.82 546.63,31.85 547.77,31.88 548.91,31.92 550.05,31.96 551.19,32.01 552.33,32.06 553.48,32.13 554.62,32.20 555.76,32.30 556.90,32.47 558.04,32.70 559.18,32.99 560.32,33.33 561.47,33.71 562.61,34.20 563.75,34.88 564.89,35.71 566.03,36.64 567.17,37.65 568.31,38.84 569.45,40.24 570.60,41.78 571.74,43.40 572.88,45.01 574.02,46.69 575.16,48.62 576.30,50.58 577.44,52.37 578.59,53.76 579.73,54.65 580.87,55.43 582.01,56.09 583.15,56.58 584.29,56.80 585.43,56.48 586.58,55.34 587.72,53.74 588.86,52.04 590.00,50.59 591.14,49.34 592.28,48.11 593.42,46.89 594.57,45.68 595.71,44.49 596.85,43.20 597.99,41.69 599.13,40.19 600.27,38.94 601.41,38.20 602.56,38.15 603.70,38.51 604.84,39.12 605.98,39.88 607.12,40.72 608.26,41.89 609.40,43.39 610.55,45.18 611.69,47.22 612.83,49.47 613.97,52.30 615.11,55.92 616.25,59.90 617.39,64.49 618.53,69.40 619.68,74.05 620.82,78.58 621.96,82.88 623.10,87.23 624.24,91.16 625.38,94.00 626.52,96.17 627.67,98.00 628.81,99.67 629.95,101.34 631.09,103.10 632.23,104.81 633.37,106.32 634.51,107.48 635.66,108.37 636.80,109.14 637.94,109.79 639.08,110.34 640.22,110.78 641.36,111.18 642.50,111.55 643.65,111.88 644.79,112.15 645.93,112.36 647.07,112.48 648.21,112.56 649.35,112.63 650.49,112.68 651.64,112.73 652.78,112.77 653.92,112.81 655.06,112.84 656.20,112.87 657.34,112.90 658.48,112.92 659.63,112.94 660.77,112.96 661.91,112.99 663.05,113.01 664.19,113.03 665.33,113.05 666.47,113.06 667.62,113.08 668.76,113.09 669.90,113.11 671.04,113.12 672.18,113.13 673.32,113.13 674.46,113.14 675.61,113.14" fill="none" stroke="#008000" stroke-width="2.8" stroke-linejoin="round" />
<polyline points="504.39,32.66 505.54,32.66 506.68,32.67 507.82,32.67 508.96,32.68 510.10,32.69 511.24,32.71 512.38,32.72 513.53,32.74 514.67,32.75 515.81,32.77 516.95,32.79 518.09,32.81 519.23,32.84 520.37,32.86 521.52,32.88 522.66,32.90 523.80,32.93 524.94,32.96 526.08,32.99 527.22,33.03 528.36,33.07 529.51,33.12 530.65,33.17 531.79,33.24 532.93,33.32 534.07,33.44 535.21,33.65 536.35,33.92 537.50,34.25 538.64,34.62 539.78,35.02 540.92,35.46 542.06,36.01 543.20,36.66 544.34,37.43 545.49,38.32 546.63,39.48 547.77,40.99 548.91,42.70 550.05,44.46 551.19,46.13 552.33,47.80 553.48,49.63 554.62,51.80 555.76,54.64 556.90,58.57 558.04,62.92 559.18,67.22 560.32,71.75 561.47,76.40 562.61,81.31 563.75,85.90 564.89,89.88 566.03,93.50 567.17,96.33 568.31,98.58 569.45,100.62 570.60,102.41 571.74,103.91 572.88,105.08 574.02,105.92 575.16,106.68 576.30,107.29 577.44,107.65 578.59,107.60 579.73,106.86 580.87,105.61 582.01,104.11 583.15,102.60 584.29,101.31 585.43,100.12 586.58,98.91 587.72,97.69 588.86,96.46 590.00,95.21 591.14,93.76 592.28,92.06 593.42,90.46 594.57,89.32 595.71,89.00 596.85,89.22 597.99,89.71 599.13,90.37 600.27,91.15 601.41,92.04 602.56,93.43 603.70,95.22 604.84,97.18 605.98,99.11 607.12,100.79 608.26,102.40 609.40,104.02 610.55,105.56 611.69,106.96 612.83,108.15 613.97,109.16 615.11,110.09 616.25,110.92 617.39,111.60 618.53,112.09 619.68,112.47 620.82,112.81 621.96,113.10 623.10,113.33 624.24,113.50 625.38,113.60 626.52,113.67 627.67,113.74 628.81,113.79 629.95,113.84 631.09,113.88 632.23,113.92 633.37,113.95 634.51,113.98 635.66,114.01 636.80,114.04 637.94,114.07 639.08,114.10 640.22,114.13 641.36,114.15 642.50,114.18 643.65,114.20 644.79,114.21 645.93,114.22 647.07,114.22 648.21,114.22 649.35,114.22 650.49,114.22 651.64,114.22 652.78,114.22 653.92,114.22 655.06,114.22 656.20,114.22 657.34,114.22 658.48,114.22 659.63,114.22 660.77,114.22 661.91,114.22 663.05,114.22 664.19,114.22 665.33,114.22 666.47,114.22 667.62,114.22 668.76,114.22 669.90,114.22 671.04,114.22 672.18,114.22 673.32,114.22 674.46,114.22 675.61,114.22" fill="none" stroke="#008000" stroke-width="2.8" stroke-linejoin="round" />
<polyline points="504.39,72.90 505.54,72.90 506.68,72.90 507.82,72.90 508.96,72.90 510.10,72.90 511.24,72.90 512.38,72.90 513.53,72.90 514.67,72.90 515.81,72.90 516.95,72.90 518.09,72.90 519.23,72.90 520.37,72.90 521.52,72.90 522.66,72.90 523.80,72.90 524.94,72.90 526.08,72.90 527.22,72.90 528.36,72.90 529.51,72.90 530.65,72.90 531.79,72.90 532.93,72.90 534.07,72.90 535.21,72.90 536.35,72.90 537.50,72.90 538.64,72.90 539.78,72.90 540.92,72.90 542.06,72.90 543.20,72.90 544.34,72.90 545.49,72.90 546.63,72.90 547.77,72.90 548.91,72.90 550.05,72.90 551.19,72.90 552.33,72.90 553.48,72.90 554.62,72.89 555.76,72.89 556.90,72.89 558.04,72.88 559.18,72.88 560.32,72.86 561.47,72.85 562.61,72.83 563.75,72.80 564.89,72.76 566.03,72.71 567.17,72.63 568.31,72.54 569.45,72.42 570.60,72.26 571.74,72.06 572.88,71.80 574.02,71.48 575.16,71.08 576.30,70.60 577.44,70.01 578.59,69.31 579.73,68.49 580.87,67.53 582.01,66.44 583.15,65.20 584.29,63.82 585.43,62.31 586.58,60.69 587.72,58.98 588.86,57.20 590.00,55.41 591.14,53.64 592.28,51.96 593.42,50.43 594.57,49.12 595.71,48.09 596.85,47.42 597.99,47.25 599.13,47.63 600.27,48.48 601.41,49.76 602.56,51.40 603.70,53.31 604.84,55.40 605.98,57.57 607.12,59.73 608.26,61.81 609.40,63.74 610.55,65.48 611.69,67.01 612.83,68.31 613.97,69.39 615.11,70.27 616.25,70.97 617.39,71.51 618.53,71.92 619.68,72.22 620.82,72.44 621.96,72.59 623.10,72.70 624.24,72.77 625.38,72.82 626.52,72.85 627.67,72.87 628.81,72.88 629.95,72.89 631.09,72.89 632.23,72.90 633.37,72.90 634.51,72.90 635.66,72.90 636.80,72.90 637.94,72.90 639.08,72.90 640.22,72.90 641.36,72.90 642.50,72.90 643.65,72.90 644.79,72.90 645.93,72.90 647.07,72.90 648.21,72.90 649.35,72.90 650.49,72.90 651.64,72.90 652.78,72.90 653.92,72.90 655.06,72.90 656.20,72.90 657.34,72.90 658.48,72.90 659.63,72.90 660.77,72.90 661.91,72.90 663.05,72.90 664.19,72.90 665.33,72.90 666.47,72.90 667.62,72.90 668.76,72.90 669.90,72.90 671.04,72.90 672.18,72.90 673.32,72.90 674.46,72.90 675.61,72.90" fill="none" stroke="#0000ff" stroke-width="1.4" stroke-linejoin="round" />
<polyline points="504.39,72.90 505.54,72.90 506.68,72.90 507.82,72.90 508.96,72.90 510.10,72.90 511.24,72.90 512.38,72.90 513.53,72.90 514.67,72.90 515.81,72.90 516.95,72.90 518.09,72.90 519.23,72.90 520.37,72.90 521.52,72.90 522.66,72.90 523.80,72.90 524.94,72.90 526.08,72.90 527.22,72.90 528.36,72.90 529.51,72.90 530.65,72.90 531.79,72.90 532.93,72.90 534.07,72.90 535.21,72.90 536.35,72.90 537.50,72.90 538.64,72.90 539.78,72.90 540.92,72.90 542.06,72.90 543.20,72.90 544.34,72.90 545.49,72.90 546.63,72.90 547.77,72.90 548.91,72.91 550.05,72.91 551.19,72.92 552.33,72.93 553.48,72.95 554.62,72.98 555.76,73.03 556.90,73.10 558.04,73.21 559.18,73.36 560.32,73.58 561.47,73.88 562.61,74.29 563.75,74.83 564.89,75.53 566.03,76.41 567.17,77.49 568.31,78.79 569.45,80.32 570.60,82.06 571.74,83.99 572.88,86.07 574.02,88.23 575.16,90.40 576.30,92.49 577.44,94.40 578.59,96.04 579.73,97.32 580.87,98.17 582.01,98.55 583.15,98.38 584.29,97.71 585.43,96.68 586.58,95.37 587.72,93.84 588.86,92.16 590.00,90.39 591.14,88.60 592.28,86.82 593.42,85.11 594.57,83.49 595.71,81.98 596.85,80.60 597.99,79.36 599.13,78.27 600.27,77.31 601.41,76.49 602.56,75.79 603.70,75.20 604.84,74.72 605.98,74.32 607.12,74.00 608.26,73.74 609.40,73.54 610.55,73.38 611.69,73.26 612.83,73.17 613.97,73.09 615.11,73.04 616.25,73.00 617.39,72.97 618.53,72.95 619.68,72.94 620.82,72.92 621.96,72.92 623.10,72.91 624.24,72.91 625.38,72.91 626.52,72.90 627.67,72.90 628.81,72.90 629.95,72.90 631.09,72.90 632.23,72.90 633.37,72.90 634.51,72.90 635.66,72.90 636.80,72.90 637.94,72.90 639.08,72.90 640.22,72.90 641.36,72.90 642.50,72.90 643.65,72.90 644.79,72.90 645.93,72.90 647.07,72.90 648.21,72.90 649.35,72.90 650.49,72.90 651.64,72.90 652.78,72.90 653.92,72.90 655.06,72.90 656.20,72.90 657.34,72.90 658.48,72.90 659.63,72.90 660.77,72.90 661.91,72.90 663.05,72.90 664.19,72.90 665.33,72.90 666.47,72.90 667.62,72.90 668.76,72.90 669.90,72.90 671.04,72.90 672.18,72.90 673.32,72.90 674.46,72.90 675.61,72.90" fill="none" stroke="#0000ff" stroke-width="1.4" stroke-linejoin="round" />
<polyline points="504.39,32.01 505.54,32.01 506.68,32.01 507.82,32.01 508.96,32.01 510.10,32.01 511.24,32.01 512.38,32.01 513.53,32.01 514.67,32.01 515.81,32.01 516.95,32.01 518.09,32.01 519.23,32.01 520.37,32.01 521.52,32.01 522.66,32.01 523.80,32.01 524.94,32.01 526.08,32.01 527.22,32.01 528.36,32.01 529.51,32.01 530.65,32.01 531.79,32.01 532.93,32.01 534.07,32.01 535.21,32.01 536.35,32.01 537.50,32.01 538.64,32.01 539.78,32.01 540.92,32.01 542.06,32.01 543.20,32.01 544.34,32.01 545.49,32.01 546.63,32.01 547.77,32.01 548.91,32.01 550.05,32.01 551.19,32.01 552.33,32.01 553.48,32.01 554.62,32.01 555.76,32.01 556.90,32.01 558.04,32.01 559.18,32.01 560.32,32.01 561.47,32.01 562.61,32.01 563.75,32.01 564.89,32.01 566.03,32.02 567.17,32.02 568.31,32.02 569.45,32.02 570.60,32.02 571.74,32.03 572.88,32.03 574.02,32.03 575.16,32.04 576.30,32.05 577.44,32.05 578.59,32.06 579.73,32.08 580.87,32.09 582.01,32.11 583.15,32.13 584.29,32.16 585.43,32.19 586.58,32.23 587.72,32.28 588.86,32.35 590.00,32.42 591.14,32.52 592.28,32.63 593.42,32.77 594.57,32.94 595.71,33.15 596.85,33.41 597.99,33.72 599.13,34.10 600.27,34.56 601.41,35.12 602.56,35.79 603.70,36.61 604.84,37.58 605.98,38.75 607.12,40.13 608.26,41.76 609.40,43.66 610.55,45.87 611.69,48.39 612.83,51.24 613.97,54.42 615.11,57.91 616.25,61.66 617.39,65.64 618.53,69.76 619.68,73.95 620.82,78.11 621.96,82.17 623.10,86.05 624.24,89.67 625.38,93.01 626.52,96.03 627.67,98.71 628.81,101.08 629.95,103.13 631.09,104.89 632.23,106.39 633.37,107.66 634.51,108.73 635.66,109.62 636.80,110.36 637.94,110.97 639.08,111.48 640.22,111.90 641.36,112.24 642.50,112.53 643.65,112.76 644.79,112.95 645.93,113.10 647.07,113.23 648.21,113.33 649.35,113.42 650.49,113.49 651.64,113.54 652.78,113.59 653.92,113.63 655.06,113.66 656.20,113.68 657.34,113.70 658.48,113.72 659.63,113.73 660.77,113.74 661.91,113.75 663.05,113.76 664.19,113.76 665.33,113.77 666.47,113.77 667.62,113.78 668.76,113.78 669.90,113.78 671.04,113.78 672.18,113.78 673.32,113.78 674.46,113.79 675.61,113.79" fill="none" stroke="#ff0000" stroke-width="1.4" stroke-linejoin="round" />
<polyline points="504.39,32.01 505.54,32.01 506.68,32.01 507.82,32.02 508.96,32.02 510.10,32.02 511.24,32.02 512.38,32.02 513.53,32.03 514.67,32.03 515.81,32.03 516.95,32.04 518.09,32.05 519.23,32.06 520.37,32.07 521.52,32.08 522.66,32.09 523.80,32.11 524.94,32.14 526.08,32.17 527.22,32.20 528.36,32.25 529.51,32.30 530.65,32.36 531.79,32.45 532.93,32.54 534.07,32.66 535.21,32.81 536.35,32.99 537.50,33.21 538.64,33.48 539.78,33.81 540.92,34.21 542.06,34.69 543.20,35.28 544.34,35.98 545.49,36.84 546.63,37.86 547.77,39.07 548.91,40.51 550.05,42.21 551.19,44.18 552.33,46.47 553.48,49.07 554.62,52.00 555.76,55.26 556.90,58.82 558.04,62.64 559.18,66.66 560.32,70.80 561.47,75.00 562.61,79.14 563.75,83.16 564.89,86.98 566.03,90.54 567.17,93.80 568.31,96.73 569.45,99.33 570.60,101.62 571.74,103.59 572.88,105.29 574.02,106.73 575.16,107.94 576.30,108.96 577.44,109.82 578.59,110.52 579.73,111.11 580.87,111.59 582.01,111.99 583.15,112.32 584.29,112.59 585.43,112.81 586.58,112.99 587.72,113.14 588.86,113.26 590.00,113.35 591.14,113.44 592.28,113.50 593.42,113.55 594.57,113.60 595.71,113.63 596.85,113.66 597.99,113.69 599.13,113.71 600.27,113.72 601.41,113.73 602.56,113.74 603.70,113.75 604.84,113.76 605.98,113.77 607.12,113.77 608.26,113.77 609.40,113.78 610.55,113.78 611.69,113.78 612.83,113.78 613.97,113.78 615.11,113.79 616.25,113.79 617.39,113.79 618.53,113.79 619.68,113.79 620.82,113.79 621.96,113.79 623.10,113.79 624.24,113.79 625.38,113.79 626.52,113.79 627.67,113.79 628.81,113.79 629.95,113.79 631.09,113.79 632.23,113.79 633.37,113.79 634.51,113.79 635.66,113.79 636.80,113.79 637.94,113.79 639.08,113.79 640.22,113.79 641.36,113.79 642.50,113.79 643.65,113.79 644.79,113.79 645.93,113.79 647.07,113.79 648.21,113.79 649.35,113.79 650.49,113.79 651.64,113.79 652.78,113.79 653.92,113.79 655.06,113.79 656.20,113.79 657.34,113.79 658.48,113.79 659.63,113.79 660.77,113.79 661.91,113.79 663.05,113.79 664.19,113.79 665.33,113.79 666.47,113.79 667.62,113.79 668.76,113.79 669.90,113.79 671.04,113.79 672.18,113.79 673.32,113.79 674.46,113.79 675.61,113.79" fill="none" stroke="#ff0000" stroke-width="1.4" stroke-linejoin="round" />
<line x1="504.39" y1="27.53" x2="504.39" y2="36.23" stroke="#3a3a3a" stroke-width="0.85" />
<line x1="501.75" y1="27.53" x2="507.04" y2="27.53" stroke="#3a3a3a" stroke-width="0.85" />
<line x1="501.75" y1="36.23" x2="507.04" y2="36.23" stroke="#3a3a3a" stroke-width="0.85" />
<circle cx="504.39" cy="31.88" r="2.0" fill="#000"/>
<line x1="675.61" y1="109.57" x2="675.61" y2="118.27" stroke="#3a3a3a" stroke-width="0.85" />
<line x1="672.96" y1="109.57" x2="678.25" y2="109.57" stroke="#3a3a3a" stroke-width="0.85" />
<line x1="672.96" y1="118.27" x2="678.25" y2="118.27" stroke="#3a3a3a" stroke-width="0.85" />
<circle cx="675.61" cy="113.92" r="2.0" fill="#000"/>
<line x1="510.10" y1="21.31" x2="510.10" y2="41.32" stroke="#3a3a3a" stroke-width="0.85" />
<line x1="507.45" y1="21.31" x2="512.75" y2="21.31" stroke="#3a3a3a" stroke-width="0.85" />
<line x1="507.45" y1="41.32" x2="512.75" y2="41.32" stroke="#3a3a3a" stroke-width="0.85" />
<circle cx="510.10" cy="31.31" r="2.0" fill="#000"/>
<line x1="669.90" y1="104.48" x2="669.90" y2="124.49" stroke="#3a3a3a" stroke-width="0.85" />
<line x1="667.25" y1="104.48" x2="672.55" y2="104.48" stroke="#3a3a3a" stroke-width="0.85" />
<line x1="667.25" y1="124.49" x2="672.55" y2="124.49" stroke="#3a3a3a" stroke-width="0.85" />
<circle cx="669.90" cy="114.49" r="2.0" fill="#000"/>
<line x1="515.81" y1="27.27" x2="515.81" y2="35.97" stroke="#3a3a3a" stroke-width="0.85" />
<line x1="513.16" y1="27.27" x2="518.46" y2="27.27" stroke="#3a3a3a" stroke-width="0.85" />
<line x1="513.16" y1="35.97" x2="518.46" y2="35.97" stroke="#3a3a3a" stroke-width="0.85" />
<circle cx="515.81" cy="31.62" r="2.0" fill="#000"/>
<line x1="664.19" y1="109.83" x2="664.19" y2="118.53" stroke="#3a3a3a" stroke-width="0.85" />
<line x1="661.54" y1="109.83" x2="666.84" y2="109.83" stroke="#3a3a3a" stroke-width="0.85" />
<line x1="661.54" y1="118.53" x2="666.84" y2="118.53" stroke="#3a3a3a" stroke-width="0.85" />
<circle cx="664.19" cy="114.18" r="2.0" fill="#000"/>
<line x1="521.52" y1="24.66" x2="521.52" y2="38.58" stroke="#3a3a3a" stroke-width="0.85" />
<line x1="518.87" y1="24.66" x2="524.17" y2="24.66" stroke="#3a3a3a" stroke-width="0.85" />
<line x1="518.87" y1="38.58" x2="524.17" y2="38.58" stroke="#3a3a3a" stroke-width="0.85" />
<circle cx="521.52" cy="31.62" r="2.0" fill="#000"/>
<line x1="658.48" y1="107.22" x2="658.48" y2="121.14" stroke="#3a3a3a" stroke-width="0.85" />
<line x1="655.83" y1="107.22" x2="661.13" y2="107.22" stroke="#3a3a3a" stroke-width="0.85" />
<line x1="655.83" y1="121.14" x2="661.13" y2="121.14" stroke="#3a3a3a" stroke-width="0.85" />
<circle cx="658.48" cy="114.18" r="2.0" fill="#000"/>
<line x1="527.22" y1="25.66" x2="527.22" y2="36.97" stroke="#3a3a3a" stroke-width="0.85" />
<line x1="524.57" y1="25.66" x2="529.87" y2="25.66" stroke="#3a3a3a" stroke-width="0.85" />
<line x1="524.57" y1="36.97" x2="529.87" y2="36.97" stroke="#3a3a3a" stroke-width="0.85" />
<circle cx="527.22" cy="31.31" r="2.0" fill="#000"/>
<line x1="652.78" y1="108.83" x2="652.78" y2="120.14" stroke="#3a3a3a" stroke-width="0.85" />
<line x1="650.13" y1="108.83" x2="655.43" y2="108.83" stroke="#3a3a3a" stroke-width="0.85" />
<line x1="650.13" y1="120.14" x2="655.43" y2="120.14" stroke="#3a3a3a" stroke-width="0.85" />
<circle cx="652.78" cy="114.49" r="2.0" fill="#000"/>
<line x1="532.93" y1="21.00" x2="532.93" y2="42.75" stroke="#3a3a3a" stroke-width="0.85" />
<line x1="530.28" y1="21.00" x2="535.58" y2="21.00" stroke="#3a3a3a" stroke-width="0.85" />
<line x1="530.28" y1="42.75" x2="535.58" y2="42.75" stroke="#3a3a3a" stroke-width="0.85" />
<circle cx="532.93" cy="31.88" r="2.0" fill="#000"/>
<line x1="647.07" y1="103.05" x2="647.07" y2="124.80" stroke="#3a3a3a" stroke-width="0.85" />
<line x1="644.42" y1="103.05" x2="649.72" y2="103.05" stroke="#3a3a3a" stroke-width="0.85" />
<line x1="644.42" y1="124.80" x2="649.72" y2="124.80" stroke="#3a3a3a" stroke-width="0.85" />
<circle cx="647.07" cy="113.92" r="2.0" fill="#000"/>
<line x1="538.64" y1="17.66" x2="538.64" y2="36.80" stroke="#3a3a3a" stroke-width="0.85" />
<line x1="535.99" y1="17.66" x2="541.29" y2="17.66" stroke="#3a3a3a" stroke-width="0.85" />
<line x1="535.99" y1="36.80" x2="541.29" y2="36.80" stroke="#3a3a3a" stroke-width="0.85" />
<circle cx="538.64" cy="27.23" r="2.0" fill="#000"/>
<line x1="641.36" y1="109.00" x2="641.36" y2="128.15" stroke="#3a3a3a" stroke-width="0.85" />
<line x1="638.71" y1="109.00" x2="644.01" y2="109.00" stroke="#3a3a3a" stroke-width="0.85" />
<line x1="638.71" y1="128.15" x2="644.01" y2="128.15" stroke="#3a3a3a" stroke-width="0.85" />
<circle cx="641.36" cy="118.58" r="2.0" fill="#000"/>
<line x1="544.34" y1="19.61" x2="544.34" y2="42.23" stroke="#3a3a3a" stroke-width="0.85" />
<line x1="541.69" y1="19.61" x2="546.99" y2="19.61" stroke="#3a3a3a" stroke-width="0.85" />
<line x1="541.69" y1="42.23" x2="546.99" y2="42.23" stroke="#3a3a3a" stroke-width="0.85" />
<circle cx="544.34" cy="30.92" r="2.0" fill="#000"/>
<line x1="635.66" y1="103.57" x2="635.66" y2="126.19" stroke="#3a3a3a" stroke-width="0.85" />
<line x1="633.01" y1="103.57" x2="638.31" y2="103.57" stroke="#3a3a3a" stroke-width="0.85" />
<line x1="633.01" y1="126.19" x2="638.31" y2="126.19" stroke="#3a3a3a" stroke-width="0.85" />
<circle cx="635.66" cy="114.88" r="2.0" fill="#000"/>
<line x1="550.05" y1="24.96" x2="550.05" y2="38.01" stroke="#3a3a3a" stroke-width="0.85" />
<line x1="547.40" y1="24.96" x2="552.70" y2="24.96" stroke="#3a3a3a" stroke-width="0.85" />
<line x1="547.40" y1="38.01" x2="552.70" y2="38.01" stroke="#3a3a3a" stroke-width="0.85" />
<circle cx="550.05" cy="31.49" r="2.0" fill="#000"/>
<line x1="629.95" y1="107.79" x2="629.95" y2="120.84" stroke="#3a3a3a" stroke-width="0.85" />
<line x1="627.30" y1="107.79" x2="632.60" y2="107.79" stroke="#3a3a3a" stroke-width="0.85" />
<line x1="627.30" y1="120.84" x2="632.60" y2="120.84" stroke="#3a3a3a" stroke-width="0.85" />
<circle cx="629.95" cy="114.31" r="2.0" fill="#000"/>
<line x1="555.76" y1="24.18" x2="555.76" y2="39.84" stroke="#3a3a3a" stroke-width="0.85" />
<line x1="553.11" y1="24.18" x2="558.41" y2="24.18" stroke="#3a3a3a" stroke-width="0.85" />
<line x1="553.11" y1="39.84" x2="558.41" y2="39.84" stroke="#3a3a3a" stroke-width="0.85" />
<circle cx="555.76" cy="32.01" r="2.0" fill="#000"/>
<line x1="624.24" y1="105.96" x2="624.24" y2="121.62" stroke="#3a3a3a" stroke-width="0.85" />
<line x1="621.59" y1="105.96" x2="626.89" y2="105.96" stroke="#3a3a3a" stroke-width="0.85" />
<line x1="621.59" y1="121.62" x2="626.89" y2="121.62" stroke="#3a3a3a" stroke-width="0.85" />
<circle cx="624.24" cy="113.79" r="2.0" fill="#000"/>
<line x1="561.47" y1="28.53" x2="561.47" y2="38.97" stroke="#3a3a3a" stroke-width="0.85" />
<line x1="558.82" y1="28.53" x2="564.12" y2="28.53" stroke="#3a3a3a" stroke-width="0.85" />
<line x1="558.82" y1="38.97" x2="564.12" y2="38.97" stroke="#3a3a3a" stroke-width="0.85" />
<circle cx="561.47" cy="33.75" r="2.0" fill="#000"/>
<line x1="618.53" y1="106.83" x2="618.53" y2="117.27" stroke="#3a3a3a" stroke-width="0.85" />
<line x1="615.88" y1="106.83" x2="621.18" y2="106.83" stroke="#3a3a3a" stroke-width="0.85" />
<line x1="615.88" y1="117.27" x2="621.18" y2="117.27" stroke="#3a3a3a" stroke-width="0.85" />
<circle cx="618.53" cy="112.05" r="2.0" fill="#000"/>
<line x1="567.17" y1="33.14" x2="567.17" y2="41.84" stroke="#3a3a3a" stroke-width="0.85" />
<line x1="564.52" y1="33.14" x2="569.82" y2="33.14" stroke="#3a3a3a" stroke-width="0.85" />
<line x1="564.52" y1="41.84" x2="569.82" y2="41.84" stroke="#3a3a3a" stroke-width="0.85" />
<circle cx="567.17" cy="37.49" r="2.0" fill="#000"/>
<line x1="612.83" y1="103.96" x2="612.83" y2="112.66" stroke="#3a3a3a" stroke-width="0.85" />
<line x1="610.18" y1="103.96" x2="615.48" y2="103.96" stroke="#3a3a3a" stroke-width="0.85" />
<line x1="610.18" y1="112.66" x2="615.48" y2="112.66" stroke="#3a3a3a" stroke-width="0.85" />
<circle cx="612.83" cy="108.31" r="2.0" fill="#000"/>
<line x1="572.88" y1="41.15" x2="572.88" y2="49.85" stroke="#3a3a3a" stroke-width="0.85" />
<line x1="570.23" y1="41.15" x2="575.53" y2="41.15" stroke="#3a3a3a" stroke-width="0.85" />
<line x1="570.23" y1="49.85" x2="575.53" y2="49.85" stroke="#3a3a3a" stroke-width="0.85" />
<circle cx="572.88" cy="45.50" r="2.0" fill="#000"/>
<line x1="607.12" y1="95.96" x2="607.12" y2="104.66" stroke="#3a3a3a" stroke-width="0.85" />
<line x1="604.47" y1="95.96" x2="609.77" y2="95.96" stroke="#3a3a3a" stroke-width="0.85" />
<line x1="604.47" y1="104.66" x2="609.77" y2="104.66" stroke="#3a3a3a" stroke-width="0.85" />
<circle cx="607.12" cy="100.31" r="2.0" fill="#000"/>
<line x1="578.59" y1="50.63" x2="578.59" y2="57.59" stroke="#3a3a3a" stroke-width="0.85" />
<line x1="575.94" y1="50.63" x2="581.24" y2="50.63" stroke="#3a3a3a" stroke-width="0.85" />
<line x1="575.94" y1="57.59" x2="581.24" y2="57.59" stroke="#3a3a3a" stroke-width="0.85" />
<circle cx="578.59" cy="54.11" r="2.0" fill="#000"/>
<line x1="601.41" y1="88.21" x2="601.41" y2="95.17" stroke="#3a3a3a" stroke-width="0.85" />
<line x1="598.76" y1="88.21" x2="604.06" y2="88.21" stroke="#3a3a3a" stroke-width="0.85" />
<line x1="598.76" y1="95.17" x2="604.06" y2="95.17" stroke="#3a3a3a" stroke-width="0.85" />
<circle cx="601.41" cy="91.69" r="2.0" fill="#000"/>
<line x1="584.29" y1="51.50" x2="584.29" y2="61.94" stroke="#3a3a3a" stroke-width="0.85" />
<line x1="581.64" y1="51.50" x2="586.94" y2="51.50" stroke="#3a3a3a" stroke-width="0.85" />
<line x1="581.64" y1="61.94" x2="586.94" y2="61.94" stroke="#3a3a3a" stroke-width="0.85" />
<circle cx="584.29" cy="56.72" r="2.0" fill="#000"/>
<line x1="595.71" y1="83.86" x2="595.71" y2="94.30" stroke="#3a3a3a" stroke-width="0.85" />
<line x1="593.06" y1="83.86" x2="598.36" y2="83.86" stroke="#3a3a3a" stroke-width="0.85" />
<line x1="593.06" y1="94.30" x2="598.36" y2="94.30" stroke="#3a3a3a" stroke-width="0.85" />
<circle cx="595.71" cy="89.08" r="2.0" fill="#000"/>
<line x1="590.00" y1="43.58" x2="590.00" y2="56.63" stroke="#3a3a3a" stroke-width="0.85" />
<line x1="587.35" y1="43.58" x2="592.65" y2="43.58" stroke="#3a3a3a" stroke-width="0.85" />
<line x1="587.35" y1="56.63" x2="592.65" y2="56.63" stroke="#3a3a3a" stroke-width="0.85" />
<circle cx="590.00" cy="50.11" r="2.0" fill="#000"/>
<line x1="590.00" y1="89.17" x2="590.00" y2="102.22" stroke="#3a3a3a" stroke-width="0.85" />
<line x1="587.35" y1="89.17" x2="592.65" y2="89.17" stroke="#3a3a3a" stroke-width="0.85" />
<line x1="587.35" y1="102.22" x2="592.65" y2="102.22" stroke="#3a3a3a" stroke-width="0.85" />
<circle cx="590.00" cy="95.69" r="2.0" fill="#000"/>
<line x1="595.71" y1="38.62" x2="595.71" y2="50.80" stroke="#3a3a3a" stroke-width="0.85" />
<line x1="593.06" y1="38.62" x2="598.36" y2="38.62" stroke="#3a3a3a" stroke-width="0.85" />
<line x1="593.06" y1="50.80" x2="598.36" y2="50.80" stroke="#3a3a3a" stroke-width="0.85" />
<circle cx="595.71" cy="44.71" r="2.0" fill="#000"/>
<line x1="584.29" y1="95.00" x2="584.29" y2="107.18" stroke="#3a3a3a" stroke-width="0.85" />
<line x1="581.64" y1="95.00" x2="586.94" y2="95.00" stroke="#3a3a3a" stroke-width="0.85" />
<line x1="581.64" y1="107.18" x2="586.94" y2="107.18" stroke="#3a3a3a" stroke-width="0.85" />
<circle cx="584.29" cy="101.09" r="2.0" fill="#000"/>
<line x1="601.41" y1="34.19" x2="601.41" y2="42.02" stroke="#3a3a3a" stroke-width="0.85" />
<line x1="598.76" y1="34.19" x2="604.06" y2="34.19" stroke="#3a3a3a" stroke-width="0.85" />
<line x1="598.76" y1="42.02" x2="604.06" y2="42.02" stroke="#3a3a3a" stroke-width="0.85" />
<circle cx="601.41" cy="38.10" r="2.0" fill="#000"/>
<line x1="578.59" y1="103.78" x2="578.59" y2="111.62" stroke="#3a3a3a" stroke-width="0.85" />
<line x1="575.94" y1="103.78" x2="581.24" y2="103.78" stroke="#3a3a3a" stroke-width="0.85" />
<line x1="575.94" y1="111.62" x2="581.24" y2="111.62" stroke="#3a3a3a" stroke-width="0.85" />
<circle cx="578.59" cy="107.70" r="2.0" fill="#000"/>
<line x1="607.12" y1="35.93" x2="607.12" y2="47.24" stroke="#3a3a3a" stroke-width="0.85" />
<line x1="604.47" y1="35.93" x2="609.77" y2="35.93" stroke="#3a3a3a" stroke-width="0.85" />
<line x1="604.47" y1="47.24" x2="609.77" y2="47.24" stroke="#3a3a3a" stroke-width="0.85" />
<circle cx="607.12" cy="41.58" r="2.0" fill="#000"/>
<line x1="572.88" y1="98.56" x2="572.88" y2="109.88" stroke="#3a3a3a" stroke-width="0.85" />
<line x1="570.23" y1="98.56" x2="575.53" y2="98.56" stroke="#3a3a3a" stroke-width="0.85" />
<line x1="570.23" y1="109.88" x2="575.53" y2="109.88" stroke="#3a3a3a" stroke-width="0.85" />
<circle cx="572.88" cy="104.22" r="2.0" fill="#000"/>
<line x1="612.83" y1="43.32" x2="612.83" y2="56.37" stroke="#3a3a3a" stroke-width="0.85" />
<line x1="610.18" y1="43.32" x2="615.48" y2="43.32" stroke="#3a3a3a" stroke-width="0.85" />
<line x1="610.18" y1="56.37" x2="615.48" y2="56.37" stroke="#3a3a3a" stroke-width="0.85" />
<circle cx="612.83" cy="49.85" r="2.0" fill="#000"/>
<line x1="567.17" y1="89.43" x2="567.17" y2="102.48" stroke="#3a3a3a" stroke-width="0.85" />
<line x1="564.52" y1="89.43" x2="569.82" y2="89.43" stroke="#3a3a3a" stroke-width="0.85" />
<line x1="564.52" y1="102.48" x2="569.82" y2="102.48" stroke="#3a3a3a" stroke-width="0.85" />
<circle cx="567.17" cy="95.95" r="2.0" fill="#000"/>
<line x1="618.53" y1="62.89" x2="618.53" y2="80.30" stroke="#3a3a3a" stroke-width="0.85" />
<line x1="615.88" y1="62.89" x2="621.18" y2="62.89" stroke="#3a3a3a" stroke-width="0.85" />
<line x1="615.88" y1="80.30" x2="621.18" y2="80.30" stroke="#3a3a3a" stroke-width="0.85" />
<circle cx="618.53" cy="71.59" r="2.0" fill="#000"/>
<line x1="561.47" y1="65.51" x2="561.47" y2="82.91" stroke="#3a3a3a" stroke-width="0.85" />
<line x1="558.82" y1="65.51" x2="564.12" y2="65.51" stroke="#3a3a3a" stroke-width="0.85" />
<line x1="558.82" y1="82.91" x2="564.12" y2="82.91" stroke="#3a3a3a" stroke-width="0.85" />
<circle cx="561.47" cy="74.21" r="2.0" fill="#000"/>
<line x1="624.24" y1="82.91" x2="624.24" y2="102.05" stroke="#3a3a3a" stroke-width="0.85" />
<line x1="621.59" y1="82.91" x2="626.89" y2="82.91" stroke="#3a3a3a" stroke-width="0.85" />
<line x1="621.59" y1="102.05" x2="626.89" y2="102.05" stroke="#3a3a3a" stroke-width="0.85" />
<circle cx="624.24" cy="92.48" r="2.0" fill="#000"/>
<line x1="555.76" y1="43.76" x2="555.76" y2="62.90" stroke="#3a3a3a" stroke-width="0.85" />
<line x1="553.11" y1="43.76" x2="558.41" y2="43.76" stroke="#3a3a3a" stroke-width="0.85" />
<line x1="553.11" y1="62.90" x2="558.41" y2="62.90" stroke="#3a3a3a" stroke-width="0.85" />
<circle cx="555.76" cy="53.33" r="2.0" fill="#000"/>
<line x1="629.95" y1="94.22" x2="629.95" y2="106.40" stroke="#3a3a3a" stroke-width="0.85" />
<line x1="627.30" y1="94.22" x2="632.60" y2="94.22" stroke="#3a3a3a" stroke-width="0.85" />
<line x1="627.30" y1="106.40" x2="632.60" y2="106.40" stroke="#3a3a3a" stroke-width="0.85" />
<circle cx="629.95" cy="100.31" r="2.0" fill="#000"/>
<line x1="550.05" y1="39.41" x2="550.05" y2="51.59" stroke="#3a3a3a" stroke-width="0.85" />
<line x1="547.40" y1="39.41" x2="552.70" y2="39.41" stroke="#3a3a3a" stroke-width="0.85" />
<line x1="547.40" y1="51.59" x2="552.70" y2="51.59" stroke="#3a3a3a" stroke-width="0.85" />
<circle cx="550.05" cy="45.50" r="2.0" fill="#000"/>
<line x1="635.66" y1="96.83" x2="635.66" y2="122.92" stroke="#3a3a3a" stroke-width="0.85" />
<line x1="633.01" y1="96.83" x2="638.31" y2="96.83" stroke="#3a3a3a" stroke-width="0.85" />
<line x1="633.01" y1="122.92" x2="638.31" y2="122.92" stroke="#3a3a3a" stroke-width="0.85" />
<circle cx="635.66" cy="109.88" r="2.0" fill="#000"/>
<line x1="544.34" y1="22.88" x2="544.34" y2="48.98" stroke="#3a3a3a" stroke-width="0.85" />
<line x1="541.69" y1="22.88" x2="546.99" y2="22.88" stroke="#3a3a3a" stroke-width="0.85" />
<line x1="541.69" y1="48.98" x2="546.99" y2="48.98" stroke="#3a3a3a" stroke-width="0.85" />
<circle cx="544.34" cy="35.93" r="2.0" fill="#000"/>
<line x1="641.36" y1="100.65" x2="641.36" y2="121.53" stroke="#3a3a3a" stroke-width="0.85" />
<line x1="638.71" y1="100.65" x2="644.01" y2="100.65" stroke="#3a3a3a" stroke-width="0.85" />
<line x1="638.71" y1="121.53" x2="644.01" y2="121.53" stroke="#3a3a3a" stroke-width="0.85" />
<circle cx="641.36" cy="111.09" r="2.0" fill="#000"/>
<line x1="538.64" y1="24.27" x2="538.64" y2="45.15" stroke="#3a3a3a" stroke-width="0.85" />
<line x1="535.99" y1="24.27" x2="541.29" y2="24.27" stroke="#3a3a3a" stroke-width="0.85" />
<line x1="535.99" y1="45.15" x2="541.29" y2="45.15" stroke="#3a3a3a" stroke-width="0.85" />
<circle cx="538.64" cy="34.71" r="2.0" fill="#000"/>
<line x1="647.07" y1="102.74" x2="647.07" y2="124.49" stroke="#3a3a3a" stroke-width="0.85" />
<line x1="644.42" y1="102.74" x2="649.72" y2="102.74" stroke="#3a3a3a" stroke-width="0.85" />
<line x1="644.42" y1="124.49" x2="649.72" y2="124.49" stroke="#3a3a3a" stroke-width="0.85" />
<circle cx="647.07" cy="113.62" r="2.0" fill="#000"/>
<line x1="532.93" y1="21.31" x2="532.93" y2="43.06" stroke="#3a3a3a" stroke-width="0.85" />
<line x1="530.28" y1="21.31" x2="535.58" y2="21.31" stroke="#3a3a3a" stroke-width="0.85" />
<line x1="530.28" y1="43.06" x2="535.58" y2="43.06" stroke="#3a3a3a" stroke-width="0.85" />
<circle cx="532.93" cy="32.18" r="2.0" fill="#000"/>
<line x1="652.78" y1="107.66" x2="652.78" y2="120.71" stroke="#3a3a3a" stroke-width="0.85" />
<line x1="650.13" y1="107.66" x2="655.43" y2="107.66" stroke="#3a3a3a" stroke-width="0.85" />
<line x1="650.13" y1="120.71" x2="655.43" y2="120.71" stroke="#3a3a3a" stroke-width="0.85" />
<circle cx="652.78" cy="114.18" r="2.0" fill="#000"/>
<line x1="527.22" y1="25.09" x2="527.22" y2="38.14" stroke="#3a3a3a" stroke-width="0.85" />
<line x1="524.57" y1="25.09" x2="529.87" y2="25.09" stroke="#3a3a3a" stroke-width="0.85" />
<line x1="524.57" y1="38.14" x2="529.87" y2="38.14" stroke="#3a3a3a" stroke-width="0.85" />
<circle cx="527.22" cy="31.62" r="2.0" fill="#000"/>
<line x1="658.48" y1="107.22" x2="658.48" y2="121.14" stroke="#3a3a3a" stroke-width="0.85" />
<line x1="655.83" y1="107.22" x2="661.13" y2="107.22" stroke="#3a3a3a" stroke-width="0.85" />
<line x1="655.83" y1="121.14" x2="661.13" y2="121.14" stroke="#3a3a3a" stroke-width="0.85" />
<circle cx="658.48" cy="114.18" r="2.0" fill="#000"/>
<line x1="521.52" y1="24.66" x2="521.52" y2="38.58" stroke="#3a3a3a" stroke-width="0.85" />
<line x1="518.87" y1="24.66" x2="524.17" y2="24.66" stroke="#3a3a3a" stroke-width="0.85" />
<line x1="518.87" y1="38.58" x2="524.17" y2="38.58" stroke="#3a3a3a" stroke-width="0.85" />
<circle cx="521.52" cy="31.62" r="2.0" fill="#000"/>
<line x1="664.19" y1="109.83" x2="664.19" y2="118.53" stroke="#3a3a3a" stroke-width="0.85" />
<line x1="661.54" y1="109.83" x2="666.84" y2="109.83" stroke="#3a3a3a" stroke-width="0.85" />
<line x1="661.54" y1="118.53" x2="666.84" y2="118.53" stroke="#3a3a3a" stroke-width="0.85" />
<circle cx="664.19" cy="114.18" r="2.0" fill="#000"/>
<line x1="515.81" y1="27.27" x2="515.81" y2="35.97" stroke="#3a3a3a" stroke-width="0.85" />
<line x1="513.16" y1="27.27" x2="518.46" y2="27.27" stroke="#3a3a3a" stroke-width="0.85" />
<line x1="513.16" y1="35.97" x2="518.46" y2="35.97" stroke="#3a3a3a" stroke-width="0.85" />
<circle cx="515.81" cy="31.62" r="2.0" fill="#000"/>
<line x1="669.90" y1="104.61" x2="669.90" y2="123.75" stroke="#3a3a3a" stroke-width="0.85" />
<line x1="667.25" y1="104.61" x2="672.55" y2="104.61" stroke="#3a3a3a" stroke-width="0.85" />
<line x1="667.25" y1="123.75" x2="672.55" y2="123.75" stroke="#3a3a3a" stroke-width="0.85" />
<circle cx="669.90" cy="114.18" r="2.0" fill="#000"/>
<line x1="510.10" y1="22.05" x2="510.10" y2="41.19" stroke="#3a3a3a" stroke-width="0.85" />
<line x1="507.45" y1="22.05" x2="512.75" y2="22.05" stroke="#3a3a3a" stroke-width="0.85" />
<line x1="507.45" y1="41.19" x2="512.75" y2="41.19" stroke="#3a3a3a" stroke-width="0.85" />
<circle cx="510.10" cy="31.62" r="2.0" fill="#000"/>
<line x1="675.61" y1="109.27" x2="675.61" y2="117.97" stroke="#3a3a3a" stroke-width="0.85" />
<line x1="672.96" y1="109.27" x2="678.25" y2="109.27" stroke="#3a3a3a" stroke-width="0.85" />
<line x1="672.96" y1="117.97" x2="678.25" y2="117.97" stroke="#3a3a3a" stroke-width="0.85" />
<circle cx="675.61" cy="113.62" r="2.0" fill="#000"/>
<line x1="504.39" y1="27.83" x2="504.39" y2="36.53" stroke="#3a3a3a" stroke-width="0.85" />
<line x1="501.75" y1="27.83" x2="507.04" y2="27.83" stroke="#3a3a3a" stroke-width="0.85" />
<line x1="501.75" y1="36.53" x2="507.04" y2="36.53" stroke="#3a3a3a" stroke-width="0.85" />
<circle cx="504.39" cy="32.18" r="2.0" fill="#000"/>
<line x1="568.90" y1="25.60" x2="600.00" y2="25.60" stroke="#000" stroke-width="1.8" />
<polygon points="607.50,25.60 599.50,29.20 599.50,22.00" fill="#000"/>
<line x1="611.60" y1="118.50" x2="579.50" y2="118.50" stroke="#000" stroke-width="1.8" />
<polygon points="572.00,118.50 580.00,114.90 580.00,122.10" fill="#000"/>
<line x1="573.90" y1="35.10" x2="591.00" y2="35.10" stroke="#ff0000" stroke-width="0.9" />
<polygon points="594.50,35.10 590.50,36.70 590.50,33.50" fill="#ff0000"/>
<line x1="607.80" y1="109.20" x2="590.70" y2="109.20" stroke="#ff0000" stroke-width="0.9" />
<polygon points="587.20,109.20 591.20,107.60 591.20,110.80" fill="#ff0000"/>
<line x1="610.90" y1="70.30" x2="601.02" y2="56.36" stroke="#0000ff" stroke-width="0.9" />
<polygon points="599.00,53.50 602.62,55.84 600.01,57.69" fill="#0000ff"/>
<line x1="568.90" y1="75.80" x2="578.56" y2="90.29" stroke="#0000ff" stroke-width="0.9" />
<polygon points="580.50,93.20 576.95,90.76 579.61,88.98" fill="#0000ff"/>
<rect x="496.20" y="11.30" width="188.20" height="122.90" fill="none" stroke="#8c8c8c" stroke-width="0.95"/>
<line x1="504.39" y1="134.20" x2="504.39" y2="136.60" stroke="#333" stroke-width="0.8" />
<text x="504.39" y="144.80" font-size="9.0" text-anchor="middle" font-family="Liberation Sans, sans-serif" fill="#000" textLength="18.00" lengthAdjust="spacingAndGlyphs" >−15</text>
<line x1="590.00" y1="134.20" x2="590.00" y2="136.60" stroke="#333" stroke-width="0.8" />
<text x="590.00" y="144.80" font-size="9.0" text-anchor="middle" font-family="Liberation Sans, sans-serif" fill="#000" textLength="5.45" lengthAdjust="spacingAndGlyphs" >0</text>
<line x1="675.61" y1="134.20" x2="675.61" y2="136.60" stroke="#333" stroke-width="0.8" />
<text x="675.61" y="144.80" font-size="9.0" text-anchor="middle" font-family="Liberation Sans, sans-serif" fill="#000" textLength="10.90" lengthAdjust="spacingAndGlyphs" >15</text>
<line x1="494.00" y1="29.40" x2="496.20" y2="29.40" stroke="#333" stroke-width="0.8" />
<text x="492.00" y="32.40" font-size="9.0" text-anchor="end" font-family="Liberation Sans, sans-serif" fill="#000" textLength="10.90" lengthAdjust="spacingAndGlyphs" >10</text>
<line x1="494.00" y1="51.15" x2="496.20" y2="51.15" stroke="#333" stroke-width="0.8" />
<text x="492.00" y="54.15" font-size="9.0" text-anchor="end" font-family="Liberation Sans, sans-serif" fill="#000" textLength="5.45" lengthAdjust="spacingAndGlyphs" >5</text>
<line x1="494.00" y1="72.90" x2="496.20" y2="72.90" stroke="#333" stroke-width="0.8" />
<text x="492.00" y="75.90" font-size="9.0" text-anchor="end" font-family="Liberation Sans, sans-serif" fill="#000" textLength="5.45" lengthAdjust="spacingAndGlyphs" >0</text>
<line x1="494.00" y1="94.65" x2="496.20" y2="94.65" stroke="#333" stroke-width="0.8" />
<text x="492.00" y="97.65" font-size="9.0" text-anchor="end" font-family="Liberation Sans, sans-serif" fill="#000" textLength="12.55" lengthAdjust="spacingAndGlyphs" >−5</text>
<line x1="494.00" y1="116.40" x2="496.20" y2="116.40" stroke="#333" stroke-width="0.8" />
<text x="492.00" y="119.40" font-size="9.0" text-anchor="end" font-family="Liberation Sans, sans-serif" fill="#000" textLength="18.00" lengthAdjust="spacingAndGlyphs" >−10</text>
<text x="590.70" y="154.60" font-size="9.4" text-anchor="middle" font-family="Liberation Sans, sans-serif" fill="#000" textLength="20.4" lengthAdjust="spacingAndGlyphs" >B (T)</text>
<text transform="translate(467.3,75.9) rotate(-90)" font-size="8.6" text-anchor="middle" font-family="Liberation Sans, sans-serif" textLength="33.2" lengthAdjust="spacingAndGlyphs"><tspan font-style="italic">R</tspan><tspan font-style="italic" font-size="6.2" dy="1.9">xy</tspan><tspan dy="-1.9">(</tspan><tspan font-style="italic">m</tspan>Ω)</text>
<rect x="637" y="15.4" width="44" height="50.8" rx="1.5" fill="#fff" fill-opacity="0.8" stroke="#ddd" stroke-width="0.8"/>
<line x1="647.60" y1="17.70" x2="647.60" y2="24.90" stroke="#000" stroke-width="0.9" />
<line x1="645.00" y1="17.70" x2="650.20" y2="17.70" stroke="#000" stroke-width="0.9" />
<line x1="645.00" y1="24.90" x2="650.20" y2="24.90" stroke="#000" stroke-width="0.9" />
<circle cx="647.60" cy="21.30" r="2.2" fill="#000"/>
<text x="661.00" y="24.40" font-size="8.3" text-anchor="start" font-family="Liberation Sans, sans-serif" fill="#000" >Data</text>
<line x1="639.60" y1="33.30" x2="655.00" y2="33.30" stroke="#0000ff" stroke-width="1.4" />
<text x="660.50" y="36.30" font-size="8.8" font-family="Liberation Sans, sans-serif" font-style="italic">R</text>
<text x="666.50" y="32.70" font-size="4.9" font-family="Liberation Sans, sans-serif" font-style="normal">SSC</text>
<text x="666.10" y="38.90" font-size="5.3" font-family="Liberation Sans, sans-serif" font-style="italic">xy</text>
<line x1="639.60" y1="46.90" x2="655.00" y2="46.90" stroke="#ff0000" stroke-width="1.4" />
<text x="660.50" y="49.90" font-size="8.8" font-family="Liberation Sans, sans-serif" font-style="italic">R</text>
<text x="666.50" y="46.30" font-size="4.9" font-family="Liberation Sans, sans-serif" font-style="normal">Oct</text>
<text x="666.10" y="52.50" font-size="5.3" font-family="Liberation Sans, sans-serif" font-style="italic">xy</text>
<line x1="639.60" y1="59.70" x2="655.00" y2="59.70" stroke="#008000" stroke-width="2.8" />
<text x="661.00" y="62.70" font-size="8.3" text-anchor="start" font-family="Liberation Sans, sans-serif" fill="#000" >Total</text>
<text x="458.70" y="12.00" font-size="17.3" text-anchor="start" font-family="Liberation Sans, sans-serif" fill="#000" >(c)</text>
<text x="522.25" y="174.30" font-size="15.6" font-family="Liberation Serif, serif" font-style="italic" textLength="8.10" lengthAdjust="spacingAndGlyphs">θ</text>
<line x1="535.10" y1="168.55" x2="544.70" y2="168.55" stroke="#000" stroke-width="0.85" />
<line x1="535.10" y1="171.85" x2="544.70" y2="171.85" stroke="#000" stroke-width="0.85" />
<text x="550.25" y="174.30" font-size="15.6" font-family="Liberation Serif, serif" textLength="14.70" lengthAdjust="spacingAndGlyphs">90</text>
<circle cx="568.20" cy="165.30" r="2.05" fill="none" stroke="#000" stroke-width="0.75"/>
<text x="576.85" y="174.30" font-size="15.6" font-family="Liberation Serif, serif" font-style="italic" textLength="10.10" lengthAdjust="spacingAndGlyphs">ϕ</text>
<line x1="591.10" y1="168.55" x2="601.10" y2="168.55" stroke="#000" stroke-width="0.85" />
<line x1="591.10" y1="171.85" x2="601.10" y2="171.85" stroke="#000" stroke-width="0.85" />
<text x="606.25" y="174.30" font-size="15.6" font-family="Liberation Serif, serif" textLength="22.00" lengthAdjust="spacingAndGlyphs">205</text>
<circle cx="631.50" cy="165.10" r="2.05" fill="none" stroke="#000" stroke-width="0.75"/>
<line x1="132.70" y1="200.00" x2="181.70" y2="227.80" stroke="#8a8a8a" stroke-width="0.6" />
<line x1="181.70" y1="227.80" x2="182.00" y2="283.60" stroke="#8a8a8a" stroke-width="0.6" />
<line x1="182.00" y1="283.60" x2="133.90" y2="311.30" stroke="#8a8a8a" stroke-width="0.6" />
<line x1="133.90" y1="311.30" x2="85.50" y2="283.60" stroke="#8a8a8a" stroke-width="0.6" />
<line x1="85.50" y1="283.60" x2="84.30" y2="228.20" stroke="#8a8a8a" stroke-width="0.6" />
<line x1="84.30" y1="228.20" x2="132.70" y2="200.00" stroke="#8a8a8a" stroke-width="0.6" />
<circle cx="132.70" cy="200.00" r="8.7" fill="url(#gTf)"/>
<circle cx="85.50" cy="283.60" r="8.7" fill="url(#gTf)"/>
<circle cx="182.00" cy="283.60" r="8.7" fill="url(#gTf)"/>
<line x1="133.30" y1="256.00" x2="84.30" y2="228.20" stroke="#c77c1a" stroke-width="2.9" />
<line x1="133.30" y1="256.00" x2="122.69" y2="249.98" stroke="#c3c9c9" stroke-width="2.9" />
<line x1="133.30" y1="256.00" x2="181.70" y2="227.80" stroke="#c77c1a" stroke-width="2.9" />
<line x1="133.30" y1="256.00" x2="143.84" y2="249.86" stroke="#c3c9c9" stroke-width="2.9" />
<line x1="133.30" y1="256.00" x2="133.90" y2="311.30" stroke="#c77c1a" stroke-width="2.9" />
<line x1="133.30" y1="256.00" x2="133.43" y2="268.20" stroke="#c3c9c9" stroke-width="2.9" />
<circle cx="109.10" cy="241.90" r="9.5" fill="url(#gP)"/>
<circle cx="157.50" cy="241.90" r="9.5" fill="url(#gP)"/>
<circle cx="133.70" cy="283.80" r="9.5" fill="url(#gP)"/>
<line x1="133.30" y1="256.00" x2="84.30" y2="228.20" stroke="#4a4a40" stroke-width="0.6" stroke-opacity="0.75"/>
<line x1="133.30" y1="256.00" x2="181.70" y2="227.80" stroke="#4a4a40" stroke-width="0.6" stroke-opacity="0.75"/>
<line x1="133.30" y1="256.00" x2="133.90" y2="311.30" stroke="#4a4a40" stroke-width="0.6" stroke-opacity="0.75"/>
<line x1="133.30" y1="256.00" x2="132.70" y2="200.00" stroke="#c77c1a" stroke-width="2.9" />
<line x1="133.30" y1="256.00" x2="133.17" y2="243.80" stroke="#c3c9c9" stroke-width="2.9" />
<line x1="132.70" y1="200.00" x2="132.83" y2="212.50" stroke="#c5caca" stroke-width="2.9" />
<line x1="133.30" y1="256.00" x2="85.50" y2="283.60" stroke="#c77c1a" stroke-width="2.9" />
<line x1="133.30" y1="256.00" x2="122.73" y2="262.10" stroke="#c3c9c9" stroke-width="2.9" />
<line x1="85.50" y1="283.60" x2="96.33" y2="277.35" stroke="#c5caca" stroke-width="2.9" />
<line x1="133.30" y1="256.00" x2="182.00" y2="283.60" stroke="#c77c1a" stroke-width="2.9" />
<line x1="133.30" y1="256.00" x2="143.91" y2="262.02" stroke="#c3c9c9" stroke-width="2.9" />
<line x1="182.00" y1="283.60" x2="171.13" y2="277.44" stroke="#c5caca" stroke-width="2.9" />
<circle cx="133.30" cy="256.00" r="8.8" fill="url(#gT)"/>
<circle cx="133.30" cy="228.20" r="9.4" fill="url(#gO)"/>
<circle cx="109.10" cy="269.80" r="9.4" fill="url(#gO)"/>
<circle cx="157.50" cy="269.80" r="9.4" fill="url(#gO)"/>
<circle cx="84.30" cy="228.20" r="8.6" fill="url(#gT)"/>
<circle cx="181.70" cy="227.80" r="8.6" fill="url(#gT)"/>
<circle cx="133.90" cy="311.30" r="8.6" fill="url(#gT)"/>
<circle cx="132.70" cy="200.20" r="4.9" fill="url(#gW)"/>
<circle cx="85.50" cy="283.80" r="4.9" fill="url(#gW)"/>
<circle cx="182.00" cy="283.80" r="4.9" fill="url(#gW)"/>
<circle cx="205.6" cy="253.3" r="8.1" fill="none" stroke="#000" stroke-width="1.3"/>
<circle cx="205.6" cy="253.4" r="2.4" fill="#000"/>
<text x="200.00" y="280.20" font-size="15.5" font-family="Liberation Serif, serif" font-style="italic">B</text>
<line x1="203.20" y1="268.70" x2="208.10" y2="268.70" stroke="#000" stroke-width="0.9" />
<polygon points="210.60,268.70 207.60,270.10 207.60,267.30" fill="#000"/>
<text x="1.40" y="201.70" font-size="17.3" text-anchor="start" font-family="Liberation Sans, sans-serif" fill="#000" >(d)</text>
<line x1="353.70" y1="196.10" x2="402.70" y2="223.90" stroke="#8a8a8a" stroke-width="0.6" />
<line x1="402.70" y1="223.90" x2="403.00" y2="279.70" stroke="#8a8a8a" stroke-width="0.6" />
<line x1="403.00" y1="279.70" x2="354.90" y2="307.40" stroke="#8a8a8a" stroke-width="0.6" />
<line x1="354.90" y1="307.40" x2="306.50" y2="279.70" stroke="#8a8a8a" stroke-width="0.6" />
<line x1="306.50" y1="279.70" x2="305.30" y2="224.30" stroke="#8a8a8a" stroke-width="0.6" />
<line x1="305.30" y1="224.30" x2="353.70" y2="196.10" stroke="#8a8a8a" stroke-width="0.6" />
<circle cx="353.70" cy="196.10" r="8.7" fill="url(#gTf)"/>
<circle cx="306.50" cy="279.70" r="8.7" fill="url(#gTf)"/>
<circle cx="403.00" cy="279.70" r="8.7" fill="url(#gTf)"/>
<line x1="354.30" y1="252.10" x2="305.30" y2="224.30" stroke="#c77c1a" stroke-width="2.9" />
<line x1="354.30" y1="252.10" x2="343.69" y2="246.08" stroke="#c3c9c9" stroke-width="2.9" />
<line x1="354.30" y1="252.10" x2="402.70" y2="223.90" stroke="#c77c1a" stroke-width="2.9" />
<line x1="354.30" y1="252.10" x2="364.84" y2="245.96" stroke="#c3c9c9" stroke-width="2.9" />
<line x1="354.30" y1="252.10" x2="354.90" y2="307.40" stroke="#c77c1a" stroke-width="2.9" />
<line x1="354.30" y1="252.10" x2="354.43" y2="264.30" stroke="#c3c9c9" stroke-width="2.9" />
<circle cx="330.10" cy="238.00" r="9.5" fill="url(#gP)"/>
<circle cx="378.50" cy="238.00" r="9.5" fill="url(#gP)"/>
<circle cx="354.70" cy="279.90" r="9.5" fill="url(#gP)"/>
<line x1="354.30" y1="252.10" x2="305.30" y2="224.30" stroke="#4a4a40" stroke-width="0.6" stroke-opacity="0.75"/>
<line x1="354.30" y1="252.10" x2="402.70" y2="223.90" stroke="#4a4a40" stroke-width="0.6" stroke-opacity="0.75"/>
<line x1="354.30" y1="252.10" x2="354.90" y2="307.40" stroke="#4a4a40" stroke-width="0.6" stroke-opacity="0.75"/>
<line x1="354.30" y1="252.10" x2="353.70" y2="196.10" stroke="#c77c1a" stroke-width="2.9" />
<line x1="354.30" y1="252.10" x2="354.17" y2="239.90" stroke="#c3c9c9" stroke-width="2.9" />
<line x1="353.70" y1="196.10" x2="353.83" y2="208.60" stroke="#c5caca" stroke-width="2.9" />
<line x1="354.30" y1="252.10" x2="306.50" y2="279.70" stroke="#c77c1a" stroke-width="2.9" />
<line x1="354.30" y1="252.10" x2="343.73" y2="258.20" stroke="#c3c9c9" stroke-width="2.9" />
<line x1="306.50" y1="279.70" x2="317.33" y2="273.45" stroke="#c5caca" stroke-width="2.9" />
<line x1="354.30" y1="252.10" x2="403.00" y2="279.70" stroke="#c77c1a" stroke-width="2.9" />
<line x1="354.30" y1="252.10" x2="364.91" y2="258.12" stroke="#c3c9c9" stroke-width="2.9" />
<line x1="403.00" y1="279.70" x2="392.13" y2="273.54" stroke="#c5caca" stroke-width="2.9" />
<circle cx="354.30" cy="252.10" r="8.8" fill="url(#gT)"/>
<circle cx="354.30" cy="224.30" r="9.4" fill="url(#gO)"/>
<circle cx="330.10" cy="265.90" r="9.4" fill="url(#gO)"/>
<circle cx="378.50" cy="265.90" r="9.4" fill="url(#gO)"/>
<circle cx="305.30" cy="224.30" r="8.6" fill="url(#gT)"/>
<circle cx="402.70" cy="223.90" r="8.6" fill="url(#gT)"/>
<circle cx="354.90" cy="307.40" r="8.6" fill="url(#gT)"/>
<circle cx="353.70" cy="196.30" r="4.9" fill="url(#gW)"/>
<circle cx="306.50" cy="279.90" r="4.9" fill="url(#gW)"/>
<circle cx="403.00" cy="279.90" r="4.9" fill="url(#gW)"/>
<line x1="296.60" y1="252.10" x2="413.30" y2="252.10" stroke="#000" stroke-width="1.5" stroke-dasharray="4.4 1.8"/>
<polyline points="369.81,250.47 369.88,251.39 369.90,252.32 369.86,253.24 369.76,254.16 369.61,255.08 369.41,255.98 369.15,256.87 368.84,257.74 368.48,258.59 368.07,259.42 367.62,260.23 367.11,261.00 366.56,261.75 365.97,262.46 365.33,263.13 364.66,263.77 363.95,264.36 363.20,264.91 362.43,265.42 361.62,265.87" fill="none" stroke="#000" stroke-width="1.4" stroke-linejoin="round" />
<polygon points="357.12,268.47 363.12,263.07 364.22,267.77" fill="#000"/>
<polygon points="365.2,303.0 372.8,300.4 372.0,314.0 369.6,305.8" fill="#000"/>
<text x="366.00" y="329.80" font-size="15.5" font-family="Liberation Serif, serif" font-style="italic">B</text>
<line x1="369.20" y1="318.30" x2="374.10" y2="318.30" stroke="#000" stroke-width="0.9" />
<polygon points="376.60,318.30 373.60,319.70 373.60,316.90" fill="#000"/>
<text x="238.10" y="201.70" font-size="17.3" text-anchor="start" font-family="Liberation Sans, sans-serif" fill="#000" >(e)</text>
<line x1="588.20" y1="196.40" x2="637.20" y2="224.20" stroke="#8a8a8a" stroke-width="0.6" />
<line x1="637.20" y1="224.20" x2="637.50" y2="280.00" stroke="#8a8a8a" stroke-width="0.6" />
<line x1="637.50" y1="280.00" x2="589.40" y2="307.70" stroke="#8a8a8a" stroke-width="0.6" />
<line x1="589.40" y1="307.70" x2="541.00" y2="280.00" stroke="#8a8a8a" stroke-width="0.6" />
<line x1="541.00" y1="280.00" x2="539.80" y2="224.60" stroke="#8a8a8a" stroke-width="0.6" />
<line x1="539.80" y1="224.60" x2="588.20" y2="196.40" stroke="#8a8a8a" stroke-width="0.6" />
<circle cx="588.20" cy="196.40" r="8.7" fill="url(#gTf)"/>
<circle cx="541.00" cy="280.00" r="8.7" fill="url(#gTf)"/>
<circle cx="637.50" cy="280.00" r="8.7" fill="url(#gTf)"/>
<line x1="588.80" y1="252.40" x2="539.80" y2="224.60" stroke="#c77c1a" stroke-width="2.9" />
<line x1="588.80" y1="252.40" x2="578.19" y2="246.38" stroke="#c3c9c9" stroke-width="2.9" />
<line x1="588.80" y1="252.40" x2="637.20" y2="224.20" stroke="#c77c1a" stroke-width="2.9" />
<line x1="588.80" y1="252.40" x2="599.34" y2="246.26" stroke="#c3c9c9" stroke-width="2.9" />
<line x1="588.80" y1="252.40" x2="589.40" y2="307.70" stroke="#c77c1a" stroke-width="2.9" />
<line x1="588.80" y1="252.40" x2="588.93" y2="264.60" stroke="#c3c9c9" stroke-width="2.9" />
<circle cx="564.60" cy="238.30" r="9.5" fill="url(#gP)"/>
<circle cx="613.00" cy="238.30" r="9.5" fill="url(#gP)"/>
<circle cx="589.20" cy="280.20" r="9.5" fill="url(#gP)"/>
<line x1="588.80" y1="252.40" x2="539.80" y2="224.60" stroke="#4a4a40" stroke-width="0.6" stroke-opacity="0.75"/>
<line x1="588.80" y1="252.40" x2="637.20" y2="224.20" stroke="#4a4a40" stroke-width="0.6" stroke-opacity="0.75"/>
<line x1="588.80" y1="252.40" x2="589.40" y2="307.70" stroke="#4a4a40" stroke-width="0.6" stroke-opacity="0.75"/>
<line x1="588.80" y1="252.40" x2="588.20" y2="196.40" stroke="#c77c1a" stroke-width="2.9" />
<line x1="588.80" y1="252.40" x2="588.67" y2="240.20" stroke="#c3c9c9" stroke-width="2.9" />
<line x1="588.20" y1="196.40" x2="588.33" y2="208.90" stroke="#c5caca" stroke-width="2.9" />
<line x1="588.80" y1="252.40" x2="541.00" y2="280.00" stroke="#c77c1a" stroke-width="2.9" />
<line x1="588.80" y1="252.40" x2="578.23" y2="258.50" stroke="#c3c9c9" stroke-width="2.9" />
<line x1="541.00" y1="280.00" x2="551.83" y2="273.75" stroke="#c5caca" stroke-width="2.9" />
<line x1="588.80" y1="252.40" x2="637.50" y2="280.00" stroke="#c77c1a" stroke-width="2.9" />
<line x1="588.80" y1="252.40" x2="599.41" y2="258.42" stroke="#c3c9c9" stroke-width="2.9" />
<line x1="637.50" y1="280.00" x2="626.63" y2="273.84" stroke="#c5caca" stroke-width="2.9" />
<circle cx="588.80" cy="252.40" r="8.8" fill="url(#gT)"/>
<circle cx="588.80" cy="224.60" r="9.4" fill="url(#gO)"/>
<circle cx="564.60" cy="266.20" r="9.4" fill="url(#gO)"/>
<circle cx="613.00" cy="266.20" r="9.4" fill="url(#gO)"/>
<circle cx="539.80" cy="224.60" r="8.6" fill="url(#gT)"/>
<circle cx="637.20" cy="224.20" r="8.6" fill="url(#gT)"/>
<circle cx="589.40" cy="307.70" r="8.6" fill="url(#gT)"/>
<circle cx="588.20" cy="196.60" r="4.9" fill="url(#gW)"/>
<circle cx="541.00" cy="280.20" r="4.9" fill="url(#gW)"/>
<circle cx="637.50" cy="280.20" r="4.9" fill="url(#gW)"/>
<line x1="531.10" y1="252.70" x2="648.00" y2="252.50" stroke="#000" stroke-width="1.5" stroke-dasharray="4.4 1.8"/>
<polyline points="603.70,252.50 603.60,250.82 603.32,249.15 602.84,247.54 602.19,245.98 601.36,244.51 600.37,243.15 599.23,241.90 597.96,240.80 596.57,239.84 595.08,239.05 593.51,238.44 591.88,238.00 590.21,237.76 588.52,237.70 586.84,237.84 585.19,238.17 583.58,238.69 582.04,239.38 580.60,240.25 579.26,241.27 578.04,242.44 576.97,243.75 576.05,245.16 575.30,246.67 574.72,248.26 574.33,249.90 574.13,251.57 574.12,253.26 574.30,254.93 574.67,256.58" fill="none" stroke="#000" stroke-width="1.5" stroke-linejoin="round" />
<polygon points="572.07,256.08 577.47,255.38 574.37,261.38" fill="#000"/>
<text x="519.50" y="285.00" font-size="15.5" font-family="Liberation Serif, serif" font-style="italic">B</text>
<line x1="522.70" y1="273.50" x2="527.60" y2="273.50" stroke="#000" stroke-width="0.9" />
<polygon points="530.10,273.50 527.10,274.90 527.10,272.10" fill="#000"/>
<text x="458.10" y="201.70" font-size="17.3" text-anchor="start" font-family="Liberation Sans, sans-serif" fill="#000" >(f)</text>
<polygon points="31.00,425.60 101.40,465.80 101.40,487.60 31.00,445.40" fill="url(#gLeft)"/>
<polygon points="101.40,465.80 177.30,423.20 177.30,443.20 101.40,487.60" fill="url(#gRight)"/>
<polygon points="108.10,382.20 177.30,423.20 101.40,465.80 31.00,425.60" fill="url(#gTop)" stroke="#7893cc" stroke-width="0.8"/>
<g transform="translate(111.6,404.0) skewY(3.5) translate(-111.6,-404.0)">
<rect x="95.90" y="402.60" width="33.20" height="7.00" fill="#36521f"/>
<rect x="107.30" y="398.00" width="10.20" height="16.40" fill="#36521f"/>
<rect x="95.00" y="400.00" width="33.20" height="7.00" fill="#5b7b38" stroke="#4d6d3a" stroke-width="0.4"/>
<rect x="106.40" y="395.40" width="10.20" height="16.40" fill="#5b7b38" stroke="#4d6d3a" stroke-width="0.4"/>
<line x1="122.10" y1="403.50" x2="101.60" y2="403.50" stroke="#d4e030" stroke-width="0.9" />
<polygon points="99.10,403.50 102.40,402.00 102.40,405.00" fill="#d4e030"/>
</g>
<g transform="translate(68.0,425.8) skewX(-9) translate(-68.0,-425.8)">
<rect x="64.30" y="414.20" width="9.20" height="26.40" fill="#36521f"/>
<rect x="59.10" y="424.20" width="19.60" height="7.00" fill="#36521f"/>
<rect x="63.40" y="411.60" width="9.20" height="26.40" fill="#5b7b38" stroke="#4d6d3a" stroke-width="0.4"/>
<rect x="58.20" y="421.60" width="19.60" height="7.00" fill="#5b7b38" stroke="#4d6d3a" stroke-width="0.4"/>
<line x1="68.00" y1="414.30" x2="68.00" y2="435.30" stroke="#d4e030" stroke-width="0.9" />
<polygon points="68.00,437.80 66.50,434.40 69.50,434.40" fill="#d4e030"/>
</g>
<line x1="101.40" y1="465.60" x2="133.60" y2="446.40" stroke="#000" stroke-width="2.3" stroke-dasharray="6 3.2"/>
<line x1="101.90" y1="452.30" x2="108.90" y2="459.00" stroke="#ff2020" stroke-width="1.5" stroke-dasharray="1.6 1.5"/>
<line x1="101.40" y1="465.40" x2="98.62" y2="449.69" stroke="#ff0000" stroke-width="2.6" />
<polygon points="97.40,442.80 102.55,449.51 94.87,450.86" fill="#ff0000"/>
<text x="83.2" y="449.6" font-size="14" font-family="Liberation Serif, serif" font-style="italic">B</text>
<line x1="85.30" y1="438.20" x2="92.00" y2="438.20" stroke="#000" stroke-width="0.8" />
<text x="110.9" y="448.4" font-size="14.5" font-family="Liberation Serif, serif">φ</text>
<line x1="108.20" y1="376.00" x2="108.20" y2="363.30" stroke="#000" stroke-width="1.1" />
<polygon points="108.20,360.60 110.10,363.80 106.30,363.80" fill="#000"/>
<line x1="108.20" y1="376.00" x2="93.89" y2="383.54" stroke="#000" stroke-width="1.1" />
<polygon points="91.50,384.80 93.45,381.63 95.22,384.99" fill="#000"/>
<line x1="108.20" y1="376.00" x2="121.26" y2="383.46" stroke="#000" stroke-width="1.1" />
<polygon points="123.60,384.80 119.88,384.86 121.76,381.56" fill="#000"/>
<text x="109.20" y="357.60" font-size="9.6" text-anchor="middle" font-family="Liberation Sans, sans-serif" fill="#000" textLength="20.8" lengthAdjust="spacingAndGlyphs" >[111]</text>
<text x="73.20" y="388.30" font-size="9.6" text-anchor="middle" font-family="Liberation Sans, sans-serif" fill="#000" textLength="26.3" lengthAdjust="spacingAndGlyphs" >[-1-12]</text>
<text x="140.30" y="388.30" font-size="9.6" text-anchor="middle" font-family="Liberation Sans, sans-serif" fill="#000" textLength="23.4" lengthAdjust="spacingAndGlyphs" >[-110]</text>
<text x="3.00" y="340.30" font-size="17.3" text-anchor="start" font-family="Liberation Sans, sans-serif" fill="#000" >(g)</text>
<line x1="255.28" y1="384.23" x2="255.28" y2="393.28" stroke="#ff0000" stroke-width="0.9" />
<line x1="251.98" y1="384.23" x2="258.58" y2="384.23" stroke="#ff0000" stroke-width="0.9" />
<line x1="251.98" y1="393.28" x2="258.58" y2="393.28" stroke="#ff0000" stroke-width="0.9" />
<circle cx="255.28" cy="388.75" r="2.1" fill="#ff0000"/>
<line x1="263.40" y1="377.43" x2="263.40" y2="386.49" stroke="#ff0000" stroke-width="0.9" />
<line x1="260.10" y1="377.43" x2="266.70" y2="377.43" stroke="#ff0000" stroke-width="0.9" />
<line x1="260.10" y1="386.49" x2="266.70" y2="386.49" stroke="#ff0000" stroke-width="0.9" />
<circle cx="263.40" cy="381.96" r="2.1" fill="#ff0000"/>
<line x1="271.52" y1="370.17" x2="271.52" y2="405.64" stroke="#ff0000" stroke-width="0.9" />
<line x1="268.22" y1="370.17" x2="274.82" y2="370.17" stroke="#ff0000" stroke-width="0.9" />
<line x1="268.22" y1="405.64" x2="274.82" y2="405.64" stroke="#ff0000" stroke-width="0.9" />
<circle cx="271.52" cy="387.91" r="2.1" fill="#ff0000"/>
<line x1="279.63" y1="391.77" x2="279.63" y2="429.51" stroke="#ff0000" stroke-width="0.9" />
<line x1="276.33" y1="391.77" x2="282.93" y2="391.77" stroke="#ff0000" stroke-width="0.9" />
<line x1="276.33" y1="429.51" x2="282.93" y2="429.51" stroke="#ff0000" stroke-width="0.9" />
<circle cx="279.63" cy="410.64" r="2.1" fill="#ff0000"/>
<line x1="287.75" y1="431.01" x2="287.75" y2="466.11" stroke="#ff0000" stroke-width="0.9" />
<line x1="284.45" y1="431.01" x2="291.05" y2="431.01" stroke="#ff0000" stroke-width="0.9" />
<line x1="284.45" y1="466.11" x2="291.05" y2="466.11" stroke="#ff0000" stroke-width="0.9" />
<circle cx="287.75" cy="448.56" r="2.1" fill="#ff0000"/>
<line x1="295.87" y1="441.58" x2="295.87" y2="466.11" stroke="#ff0000" stroke-width="0.9" />
<line x1="292.57" y1="441.58" x2="299.17" y2="441.58" stroke="#ff0000" stroke-width="0.9" />
<line x1="292.57" y1="466.11" x2="299.17" y2="466.11" stroke="#ff0000" stroke-width="0.9" />
<circle cx="295.87" cy="453.84" r="2.1" fill="#ff0000"/>
<line x1="303.98" y1="438.75" x2="303.98" y2="446.68" stroke="#ff0000" stroke-width="0.9" />
<line x1="300.68" y1="438.75" x2="307.28" y2="438.75" stroke="#ff0000" stroke-width="0.9" />
<line x1="300.68" y1="446.68" x2="307.28" y2="446.68" stroke="#ff0000" stroke-width="0.9" />
<circle cx="303.98" cy="442.71" r="2.1" fill="#ff0000"/>
<line x1="312.10" y1="416.49" x2="312.10" y2="432.34" stroke="#ff0000" stroke-width="0.9" />
<line x1="308.80" y1="416.49" x2="315.40" y2="416.49" stroke="#ff0000" stroke-width="0.9" />
<line x1="308.80" y1="432.34" x2="315.40" y2="432.34" stroke="#ff0000" stroke-width="0.9" />
<circle cx="312.10" cy="424.41" r="2.1" fill="#ff0000"/>
<line x1="320.22" y1="394.60" x2="320.22" y2="398.38" stroke="#ff0000" stroke-width="0.9" />
<line x1="316.92" y1="394.60" x2="323.52" y2="394.60" stroke="#ff0000" stroke-width="0.9" />
<line x1="316.92" y1="398.38" x2="323.52" y2="398.38" stroke="#ff0000" stroke-width="0.9" />
<circle cx="320.22" cy="396.49" r="2.1" fill="#ff0000"/>
<line x1="328.33" y1="372.91" x2="328.33" y2="376.68" stroke="#ff0000" stroke-width="0.9" />
<line x1="325.03" y1="372.91" x2="331.63" y2="372.91" stroke="#ff0000" stroke-width="0.9" />
<line x1="325.03" y1="376.68" x2="331.63" y2="376.68" stroke="#ff0000" stroke-width="0.9" />
<circle cx="328.33" cy="374.79" r="2.1" fill="#ff0000"/>
<line x1="336.45" y1="372.90" x2="336.45" y2="391.77" stroke="#ff0000" stroke-width="0.9" />
<line x1="333.15" y1="372.90" x2="339.75" y2="372.90" stroke="#ff0000" stroke-width="0.9" />
<line x1="333.15" y1="391.77" x2="339.75" y2="391.77" stroke="#ff0000" stroke-width="0.9" />
<circle cx="336.45" cy="382.34" r="2.1" fill="#ff0000"/>
<line x1="344.57" y1="391.58" x2="344.57" y2="427.43" stroke="#ff0000" stroke-width="0.9" />
<line x1="341.27" y1="391.58" x2="347.87" y2="391.58" stroke="#ff0000" stroke-width="0.9" />
<line x1="341.27" y1="427.43" x2="347.87" y2="427.43" stroke="#ff0000" stroke-width="0.9" />
<circle cx="344.57" cy="409.51" r="2.1" fill="#ff0000"/>
<line x1="352.68" y1="423.66" x2="352.68" y2="436.49" stroke="#ff0000" stroke-width="0.9" />
<line x1="349.38" y1="423.66" x2="355.98" y2="423.66" stroke="#ff0000" stroke-width="0.9" />
<line x1="349.38" y1="436.49" x2="355.98" y2="436.49" stroke="#ff0000" stroke-width="0.9" />
<circle cx="352.68" cy="430.07" r="2.1" fill="#ff0000"/>
<line x1="358.09" y1="433.66" x2="358.09" y2="440.07" stroke="#ff0000" stroke-width="0.9" />
<line x1="354.79" y1="433.66" x2="361.39" y2="433.66" stroke="#ff0000" stroke-width="0.9" />
<line x1="354.79" y1="440.07" x2="361.39" y2="440.07" stroke="#ff0000" stroke-width="0.9" />
<circle cx="358.09" cy="436.86" r="2.1" fill="#ff0000"/>
<line x1="360.80" y1="419.69" x2="360.80" y2="434.79" stroke="#ff0000" stroke-width="0.9" />
<line x1="357.50" y1="419.69" x2="364.10" y2="419.69" stroke="#ff0000" stroke-width="0.9" />
<line x1="357.50" y1="434.79" x2="364.10" y2="434.79" stroke="#ff0000" stroke-width="0.9" />
<circle cx="360.80" cy="427.24" r="2.1" fill="#ff0000"/>
<line x1="366.21" y1="440.45" x2="366.21" y2="444.22" stroke="#ff0000" stroke-width="0.9" />
<line x1="362.91" y1="440.45" x2="369.51" y2="440.45" stroke="#ff0000" stroke-width="0.9" />
<line x1="362.91" y1="444.22" x2="369.51" y2="444.22" stroke="#ff0000" stroke-width="0.9" />
<circle cx="366.21" cy="442.34" r="2.1" fill="#ff0000"/>
<line x1="368.92" y1="376.68" x2="368.92" y2="420.08" stroke="#ff0000" stroke-width="0.9" />
<line x1="365.62" y1="376.68" x2="372.22" y2="376.68" stroke="#ff0000" stroke-width="0.9" />
<line x1="365.62" y1="420.08" x2="372.22" y2="420.08" stroke="#ff0000" stroke-width="0.9" />
<circle cx="368.92" cy="398.38" r="2.1" fill="#ff0000"/>
<line x1="377.03" y1="371.39" x2="377.03" y2="418.19" stroke="#ff0000" stroke-width="0.9" />
<line x1="373.73" y1="371.39" x2="380.33" y2="371.39" stroke="#ff0000" stroke-width="0.9" />
<line x1="373.73" y1="418.19" x2="380.33" y2="418.19" stroke="#ff0000" stroke-width="0.9" />
<circle cx="377.03" cy="394.79" r="2.1" fill="#ff0000"/>
<line x1="385.15" y1="361.02" x2="385.15" y2="387.44" stroke="#ff0000" stroke-width="0.9" />
<line x1="381.85" y1="361.02" x2="388.45" y2="361.02" stroke="#ff0000" stroke-width="0.9" />
<line x1="381.85" y1="387.44" x2="388.45" y2="387.44" stroke="#ff0000" stroke-width="0.9" />
<circle cx="385.15" cy="374.23" r="2.1" fill="#ff0000"/>
<line x1="393.27" y1="354.41" x2="393.27" y2="374.42" stroke="#ff0000" stroke-width="0.9" />
<line x1="389.97" y1="354.41" x2="396.57" y2="354.41" stroke="#ff0000" stroke-width="0.9" />
<line x1="389.97" y1="374.42" x2="396.57" y2="374.42" stroke="#ff0000" stroke-width="0.9" />
<circle cx="393.27" cy="364.42" r="2.1" fill="#ff0000"/>
<line x1="401.38" y1="371.02" x2="401.38" y2="378.57" stroke="#ff0000" stroke-width="0.9" />
<line x1="398.08" y1="371.02" x2="404.68" y2="371.02" stroke="#ff0000" stroke-width="0.9" />
<line x1="398.08" y1="378.57" x2="404.68" y2="378.57" stroke="#ff0000" stroke-width="0.9" />
<circle cx="401.38" cy="374.79" r="2.1" fill="#ff0000"/>
<line x1="409.50" y1="386.11" x2="409.50" y2="396.68" stroke="#ff0000" stroke-width="0.9" />
<line x1="406.20" y1="386.11" x2="412.80" y2="386.11" stroke="#ff0000" stroke-width="0.9" />
<line x1="406.20" y1="396.68" x2="412.80" y2="396.68" stroke="#ff0000" stroke-width="0.9" />
<circle cx="409.50" cy="391.40" r="2.1" fill="#ff0000"/>
<line x1="417.62" y1="408.75" x2="417.62" y2="417.43" stroke="#ff0000" stroke-width="0.9" />
<line x1="414.32" y1="408.75" x2="420.92" y2="408.75" stroke="#ff0000" stroke-width="0.9" />
<line x1="414.32" y1="417.43" x2="420.92" y2="417.43" stroke="#ff0000" stroke-width="0.9" />
<circle cx="417.62" cy="413.09" r="2.1" fill="#ff0000"/>
<line x1="423.03" y1="418.00" x2="423.03" y2="428.94" stroke="#ff0000" stroke-width="0.9" />
<line x1="419.73" y1="418.00" x2="426.33" y2="418.00" stroke="#ff0000" stroke-width="0.9" />
<line x1="419.73" y1="428.94" x2="426.33" y2="428.94" stroke="#ff0000" stroke-width="0.9" />
<circle cx="423.03" cy="423.47" r="2.1" fill="#ff0000"/>
<line x1="255.28" y1="413.85" x2="255.28" y2="422.90" stroke="#0000ff" stroke-width="0.9" />
<line x1="251.98" y1="413.85" x2="258.58" y2="413.85" stroke="#0000ff" stroke-width="0.9" />
<line x1="251.98" y1="422.90" x2="258.58" y2="422.90" stroke="#0000ff" stroke-width="0.9" />
<circle cx="255.28" cy="418.37" r="2.1" fill="#0000ff"/>
<line x1="263.40" y1="407.62" x2="263.40" y2="420.45" stroke="#0000ff" stroke-width="0.9" />
<line x1="260.10" y1="407.62" x2="266.70" y2="407.62" stroke="#0000ff" stroke-width="0.9" />
<line x1="260.10" y1="420.45" x2="266.70" y2="420.45" stroke="#0000ff" stroke-width="0.9" />
<circle cx="263.40" cy="414.04" r="2.1" fill="#0000ff"/>
<line x1="271.52" y1="392.34" x2="271.52" y2="422.53" stroke="#0000ff" stroke-width="0.9" />
<line x1="268.22" y1="392.34" x2="274.82" y2="392.34" stroke="#0000ff" stroke-width="0.9" />
<line x1="268.22" y1="422.53" x2="274.82" y2="422.53" stroke="#0000ff" stroke-width="0.9" />
<circle cx="271.52" cy="407.43" r="2.1" fill="#0000ff"/>
<line x1="279.63" y1="385.54" x2="279.63" y2="418.00" stroke="#0000ff" stroke-width="0.9" />
<line x1="276.33" y1="385.54" x2="282.93" y2="385.54" stroke="#0000ff" stroke-width="0.9" />
<line x1="276.33" y1="418.00" x2="282.93" y2="418.00" stroke="#0000ff" stroke-width="0.9" />
<circle cx="279.63" cy="401.77" r="2.1" fill="#0000ff"/>
<line x1="287.75" y1="368.38" x2="287.75" y2="399.70" stroke="#0000ff" stroke-width="0.9" />
<line x1="284.45" y1="368.38" x2="291.05" y2="368.38" stroke="#0000ff" stroke-width="0.9" />
<line x1="284.45" y1="399.70" x2="291.05" y2="399.70" stroke="#0000ff" stroke-width="0.9" />
<circle cx="287.75" cy="384.04" r="2.1" fill="#0000ff"/>
<line x1="295.87" y1="376.77" x2="295.87" y2="399.04" stroke="#0000ff" stroke-width="0.9" />
<line x1="292.57" y1="376.77" x2="299.17" y2="376.77" stroke="#0000ff" stroke-width="0.9" />
<line x1="292.57" y1="399.04" x2="299.17" y2="399.04" stroke="#0000ff" stroke-width="0.9" />
<circle cx="295.87" cy="387.91" r="2.1" fill="#0000ff"/>
<line x1="303.98" y1="390.26" x2="303.98" y2="393.28" stroke="#0000ff" stroke-width="0.9" />
<line x1="300.68" y1="390.26" x2="307.28" y2="390.26" stroke="#0000ff" stroke-width="0.9" />
<line x1="300.68" y1="393.28" x2="307.28" y2="393.28" stroke="#0000ff" stroke-width="0.9" />
<circle cx="303.98" cy="391.77" r="2.1" fill="#0000ff"/>
<line x1="312.10" y1="398.00" x2="312.10" y2="402.90" stroke="#0000ff" stroke-width="0.9" />
<line x1="308.80" y1="398.00" x2="315.40" y2="398.00" stroke="#0000ff" stroke-width="0.9" />
<line x1="308.80" y1="402.90" x2="315.40" y2="402.90" stroke="#0000ff" stroke-width="0.9" />
<circle cx="312.10" cy="400.45" r="2.1" fill="#0000ff"/>
<line x1="320.22" y1="411.02" x2="320.22" y2="413.28" stroke="#0000ff" stroke-width="0.9" />
<line x1="316.92" y1="411.02" x2="323.52" y2="411.02" stroke="#0000ff" stroke-width="0.9" />
<line x1="316.92" y1="413.28" x2="323.52" y2="413.28" stroke="#0000ff" stroke-width="0.9" />
<circle cx="320.22" cy="412.15" r="2.1" fill="#0000ff"/>
<line x1="328.33" y1="418.37" x2="328.33" y2="423.66" stroke="#0000ff" stroke-width="0.9" />
<line x1="325.03" y1="418.37" x2="331.63" y2="418.37" stroke="#0000ff" stroke-width="0.9" />
<line x1="325.03" y1="423.66" x2="331.63" y2="423.66" stroke="#0000ff" stroke-width="0.9" />
<circle cx="328.33" cy="421.02" r="2.1" fill="#0000ff"/>
<line x1="336.45" y1="406.49" x2="336.45" y2="426.11" stroke="#0000ff" stroke-width="0.9" />
<line x1="333.15" y1="406.49" x2="339.75" y2="406.49" stroke="#0000ff" stroke-width="0.9" />
<line x1="333.15" y1="426.11" x2="339.75" y2="426.11" stroke="#0000ff" stroke-width="0.9" />
<circle cx="336.45" cy="416.30" r="2.1" fill="#0000ff"/>
<line x1="344.57" y1="399.51" x2="344.57" y2="418.75" stroke="#0000ff" stroke-width="0.9" />
<line x1="341.27" y1="399.51" x2="347.87" y2="399.51" stroke="#0000ff" stroke-width="0.9" />
<line x1="341.27" y1="418.75" x2="347.87" y2="418.75" stroke="#0000ff" stroke-width="0.9" />
<circle cx="344.57" cy="409.13" r="2.1" fill="#0000ff"/>
<line x1="352.68" y1="390.83" x2="352.68" y2="400.26" stroke="#0000ff" stroke-width="0.9" />
<line x1="349.38" y1="390.83" x2="355.98" y2="390.83" stroke="#0000ff" stroke-width="0.9" />
<line x1="349.38" y1="400.26" x2="355.98" y2="400.26" stroke="#0000ff" stroke-width="0.9" />
<circle cx="352.68" cy="395.55" r="2.1" fill="#0000ff"/>
<line x1="358.09" y1="385.92" x2="358.09" y2="393.85" stroke="#0000ff" stroke-width="0.9" />
<line x1="354.79" y1="385.92" x2="361.39" y2="385.92" stroke="#0000ff" stroke-width="0.9" />
<line x1="354.79" y1="393.85" x2="361.39" y2="393.85" stroke="#0000ff" stroke-width="0.9" />
<circle cx="358.09" cy="389.89" r="2.1" fill="#0000ff"/>
<line x1="360.80" y1="390.64" x2="360.80" y2="411.02" stroke="#0000ff" stroke-width="0.9" />
<line x1="357.50" y1="390.64" x2="364.10" y2="390.64" stroke="#0000ff" stroke-width="0.9" />
<line x1="357.50" y1="411.02" x2="364.10" y2="411.02" stroke="#0000ff" stroke-width="0.9" />
<circle cx="360.80" cy="400.83" r="2.1" fill="#0000ff"/>
<line x1="366.21" y1="372.72" x2="366.21" y2="380.26" stroke="#0000ff" stroke-width="0.9" />
<line x1="362.91" y1="372.72" x2="369.51" y2="372.72" stroke="#0000ff" stroke-width="0.9" />
<line x1="362.91" y1="380.26" x2="369.51" y2="380.26" stroke="#0000ff" stroke-width="0.9" />
<circle cx="366.21" cy="376.49" r="2.1" fill="#0000ff"/>
<line x1="368.92" y1="391.39" x2="368.92" y2="440.45" stroke="#0000ff" stroke-width="0.9" />
<line x1="365.62" y1="391.39" x2="372.22" y2="391.39" stroke="#0000ff" stroke-width="0.9" />
<line x1="365.62" y1="440.45" x2="372.22" y2="440.45" stroke="#0000ff" stroke-width="0.9" />
<circle cx="368.92" cy="415.92" r="2.1" fill="#0000ff"/>
<line x1="377.03" y1="381.01" x2="377.03" y2="431.59" stroke="#0000ff" stroke-width="0.9" />
<line x1="373.73" y1="381.01" x2="380.33" y2="381.01" stroke="#0000ff" stroke-width="0.9" />
<line x1="373.73" y1="431.59" x2="380.33" y2="431.59" stroke="#0000ff" stroke-width="0.9" />
<circle cx="377.03" cy="406.30" r="2.1" fill="#0000ff"/>
<line x1="385.15" y1="403.85" x2="385.15" y2="430.26" stroke="#0000ff" stroke-width="0.9" />
<line x1="381.85" y1="403.85" x2="388.45" y2="403.85" stroke="#0000ff" stroke-width="0.9" />
<line x1="381.85" y1="430.26" x2="388.45" y2="430.26" stroke="#0000ff" stroke-width="0.9" />
<circle cx="385.15" cy="417.05" r="2.1" fill="#0000ff"/>
<line x1="393.27" y1="410.83" x2="393.27" y2="427.81" stroke="#0000ff" stroke-width="0.9" />
<line x1="389.97" y1="410.83" x2="396.57" y2="410.83" stroke="#0000ff" stroke-width="0.9" />
<line x1="389.97" y1="427.81" x2="396.57" y2="427.81" stroke="#0000ff" stroke-width="0.9" />
<circle cx="393.27" cy="419.32" r="2.1" fill="#0000ff"/>
<line x1="401.38" y1="414.41" x2="401.38" y2="418.56" stroke="#0000ff" stroke-width="0.9" />
<line x1="398.08" y1="414.41" x2="404.68" y2="414.41" stroke="#0000ff" stroke-width="0.9" />
<line x1="398.08" y1="418.56" x2="404.68" y2="418.56" stroke="#0000ff" stroke-width="0.9" />
<circle cx="401.38" cy="416.49" r="2.1" fill="#0000ff"/>
<line x1="409.50" y1="406.49" x2="409.50" y2="411.39" stroke="#0000ff" stroke-width="0.9" />
<line x1="406.20" y1="406.49" x2="412.80" y2="406.49" stroke="#0000ff" stroke-width="0.9" />
<line x1="406.20" y1="411.39" x2="412.80" y2="411.39" stroke="#0000ff" stroke-width="0.9" />
<circle cx="409.50" cy="408.94" r="2.1" fill="#0000ff"/>
<line x1="417.62" y1="395.73" x2="417.62" y2="402.90" stroke="#0000ff" stroke-width="0.9" />
<line x1="414.32" y1="395.73" x2="420.92" y2="395.73" stroke="#0000ff" stroke-width="0.9" />
<line x1="414.32" y1="402.90" x2="420.92" y2="402.90" stroke="#0000ff" stroke-width="0.9" />
<circle cx="417.62" cy="399.32" r="2.1" fill="#0000ff"/>
<line x1="423.03" y1="391.39" x2="423.03" y2="398.57" stroke="#0000ff" stroke-width="0.9" />
<line x1="419.73" y1="391.39" x2="426.33" y2="391.39" stroke="#0000ff" stroke-width="0.9" />
<line x1="419.73" y1="398.57" x2="426.33" y2="398.57" stroke="#0000ff" stroke-width="0.9" />
<circle cx="423.03" cy="394.98" r="2.1" fill="#0000ff"/>
<path d="M254.74,382.87 L255.01,382.15 L255.28,381.45 L255.55,380.76 L255.82,380.09 L256.10,379.44 L256.37,378.80 L256.64,378.18 L256.91,377.58 L257.18,377.00 L257.45,376.44 L257.72,375.89 L257.99,375.37 L258.26,374.86 L258.53,374.38 L258.80,373.91 L259.07,373.47 L259.34,373.05 L259.61,372.65 L259.88,372.27 L260.15,371.91 L260.42,371.58 L260.69,371.26 L260.97,370.97 L261.24,370.71 L261.51,370.46 L261.78,370.24 L262.05,370.05 L262.32,369.87 L262.59,369.73 L262.86,369.60 L263.13,369.50 L263.40,369.42 L263.67,369.37 L263.94,369.34 L264.21,369.33 L264.48,369.35 L264.75,369.39 L265.02,369.46 L265.29,369.55 L265.56,369.66 L265.84,369.80 L266.11,369.96 L266.38,370.15 L266.65,370.36 L266.92,370.59 L267.19,370.84 L267.46,371.12 L267.73,371.42 L268.00,371.75 L268.27,372.09 L268.54,372.46 L268.81,372.85 L269.08,373.26 L269.35,373.70 L269.62,374.15 L269.89,374.62 L270.16,375.12 L270.43,375.63 L270.71,376.17 L270.98,376.72 L271.25,377.30 L271.52,377.89 L271.79,378.50 L272.06,379.13 L272.33,379.77 L272.60,380.44 L272.87,381.11 L273.14,381.81 L273.41,382.52 L273.68,383.24 L273.95,383.98 L274.22,384.74 L274.49,385.50 L274.76,386.28 L275.03,387.08 L275.30,387.88 L275.58,388.70 L275.85,389.52 L276.12,390.36 L276.39,391.21 L276.66,392.06 L276.93,392.93 L277.20,393.80 L277.47,394.68 L277.74,395.56 L278.01,396.45 L278.28,397.35 L278.55,398.25 L278.82,399.16 L279.09,400.07 L279.36,400.98 L279.63,401.90 L279.90,402.66 L280.17,403.42 L280.44,404.18 L280.72,404.94 L280.99,405.70 L281.26,406.46 L281.53,407.22 L281.80,407.97 L282.07,408.73 L282.34,409.48 L282.61,410.22 L282.88,410.97 L283.15,411.71 L283.42,412.44 L283.69,413.17 L283.96,413.89 L284.23,414.61 L284.50,415.32 L284.77,416.02 L285.04,416.71 L285.31,417.40 L285.59,418.07 L285.86,418.74 L286.13,419.40 L286.40,420.04 L286.67,420.68 L286.94,421.31 L287.21,421.92 L287.48,422.52 L287.75,423.11 L288.02,423.68 L288.29,424.25 L288.56,424.80 L288.83,425.33 L289.10,425.85 L289.37,426.36 L289.64,426.85 L289.91,427.33 L290.19,427.79 L290.46,428.23 L290.73,428.66 L291.00,429.07 L291.27,429.47 L291.54,429.84 L291.81,430.20 L292.08,430.54 L292.35,430.87 L292.62,431.17 L292.89,431.46 L293.16,431.73 L293.43,431.98 L293.70,432.21 L293.97,432.43 L294.24,432.62 L294.51,432.79 L294.78,432.95 L295.06,433.08 L295.33,433.20 L295.60,433.29 L295.87,433.37 L296.14,433.43 L296.41,433.46 L296.68,433.48 L296.95,433.47 L297.22,433.45 L297.49,433.41 L297.76,433.34 L298.03,433.26 L298.30,433.16 L298.57,433.03 L298.84,432.89 L299.11,432.73 L299.38,432.55 L299.65,432.35 L299.93,432.13 L300.20,431.89 L300.47,431.63 L300.74,431.36 L301.01,431.06 L301.28,430.75 L301.55,430.42 L301.82,430.07 L302.09,429.70 L302.36,429.32 L302.63,428.92 L302.90,428.50 L303.17,428.07 L303.44,427.62 L303.71,427.15 L303.98,426.67 L304.25,426.17 L304.52,425.66 L304.80,425.13 L305.07,424.59 L305.34,424.04 L305.61,423.47 L305.88,422.89 L306.15,422.29 L306.42,421.69 L306.69,421.07 L306.96,420.44 L307.23,419.80 L307.50,419.15 L307.77,418.49 L308.04,417.82 L308.31,417.14 L308.58,416.45 L308.85,415.75 L309.12,415.05 L309.39,414.34 L309.67,413.62 L309.94,412.90 L310.21,412.16 L310.48,411.43 L310.75,410.69 L311.02,409.94 L311.29,409.19 L311.56,408.44 L311.83,407.69 L312.10,406.93 L312.37,406.01 L312.64,405.09 L312.91,404.18 L313.18,403.26 L313.45,402.34 L313.72,401.42 L313.99,400.51 L314.26,399.60 L314.54,398.69 L314.81,397.79 L315.08,396.89 L315.35,395.99 L315.62,395.10 L315.89,394.22 L316.16,393.35 L316.43,392.48 L316.70,391.62 L316.97,390.77 L317.24,389.93 L317.51,389.10 L317.78,388.28 L318.05,387.47 L318.32,386.67 L318.59,385.88 L318.86,385.11 L319.13,384.35 L319.41,383.60 L319.68,382.87 L319.95,382.15 L320.22,381.45 L320.49,380.76 L320.76,380.09 L321.03,379.44 L321.30,378.80 L321.57,378.18 L321.84,377.58 L322.11,377.00 L322.38,376.44 L322.65,375.89 L322.92,375.37 L323.19,374.86 L323.46,374.38 L323.73,373.91 L324.00,373.47 L324.28,373.05 L324.55,372.65 L324.82,372.27 L325.09,371.91 L325.36,371.58 L325.63,371.26 L325.90,370.97 L326.17,370.71 L326.44,370.46 L326.71,370.24 L326.98,370.05 L327.25,369.87 L327.52,369.73 L327.79,369.60 L328.06,369.50 L328.33,369.42 L328.60,369.37 L328.87,369.34 L329.15,369.33 L329.42,369.35 L329.69,369.39 L329.96,369.46 L330.23,369.55 L330.50,369.66 L330.77,369.80 L331.04,369.96 L331.31,370.15 L331.58,370.36 L331.85,370.59 L332.12,370.84 L332.39,371.12 L332.66,371.42 L332.93,371.75 L333.20,372.09 L333.47,372.46 L333.74,372.85 L334.02,373.26 L334.29,373.70 L334.56,374.15 L334.83,374.62 L335.10,375.12 L335.37,375.63 L335.64,376.17 L335.91,376.72 L336.18,377.30 L336.45,377.89 L336.72,378.50 L336.99,379.13 L337.26,379.77 L337.53,380.44 L337.80,381.11 L338.07,381.81 L338.34,382.52 L338.61,383.24 L338.89,383.98 L339.16,384.74 L339.43,385.50 L339.70,386.28 L339.97,387.08 L340.24,387.88 L340.51,388.70 L340.78,389.52 L341.05,390.36 L341.32,391.21 L341.59,392.06 L341.86,392.93 L342.13,393.80 L342.40,394.68 L342.67,395.56 L342.94,396.45 L343.21,397.35 L343.48,398.25 L343.76,399.16 L344.03,400.07 L344.30,400.98 L344.57,401.90 L344.84,402.66 L345.11,403.42 L345.38,404.18 L345.65,404.94 L345.92,405.70 L346.19,406.46 L346.46,407.22 L346.73,407.97 L347.00,408.73 L347.27,409.48 L347.54,410.22 L347.81,410.97 L348.08,411.71 L348.35,412.44 L348.62,413.17 L348.90,413.89 L349.17,414.61 L349.44,415.32 L349.71,416.02 L349.98,416.71 L350.25,417.40 L350.52,418.07 L350.79,418.74 L351.06,419.40 L351.33,420.04 L351.60,420.68 L351.87,421.31 L352.14,421.92 L352.41,422.52 L352.68,423.11 L352.95,423.68 L353.22,424.25 L353.50,424.80 L353.77,425.33 L354.04,425.85 L354.31,426.36 L354.58,426.85 L354.85,427.33 L355.12,427.79 L355.39,428.23 L355.66,428.66 L355.93,429.07 L356.20,429.47 L356.47,429.84 L356.74,430.20 L357.01,430.54 L357.28,430.87 L357.55,431.17 L357.82,431.46 L358.09,431.73 L358.37,431.98 L358.64,432.21 L358.91,432.43 L359.18,432.62 L359.45,432.79 L359.72,432.95 L359.99,433.08 L360.26,433.20 L360.53,433.29 L360.80,433.37 L361.07,433.43 L361.34,433.46 L361.61,433.48 L361.88,433.47 L362.15,433.45 L362.42,433.41 L362.69,433.34 L362.96,433.26 L363.24,433.16 L363.51,433.03 L363.78,432.89 L364.05,432.73 L364.32,432.55 L364.59,432.35 L364.86,432.13 L365.13,431.89 L365.40,431.63 L365.67,431.36 L365.94,431.06 L366.21,430.75 L366.48,430.42 L366.75,430.07 L367.02,429.70 L367.29,429.32 L367.56,428.92 L367.83,428.50 L368.11,428.07 L368.38,427.62 L368.65,427.15 L368.92,426.67 L369.19,426.17 L369.46,425.66 L369.73,425.13 L370.00,424.59 L370.27,424.04 L370.54,423.47 L370.81,422.89 L371.08,422.29 L371.35,421.69 L371.62,421.07 L371.89,420.44 L372.16,419.80 L372.43,419.15 L372.70,418.49 L372.98,417.82 L373.25,417.14 L373.52,416.45 L373.79,415.75 L374.06,415.05 L374.33,414.34 L374.60,413.62 L374.87,412.90 L375.14,412.16 L375.41,411.43 L375.68,410.69 L375.95,409.94 L376.22,409.19 L376.49,408.44 L376.76,407.69 L377.03,406.93 L377.30,406.01 L377.57,405.09 L377.85,404.18 L378.12,403.26 L378.39,402.34 L378.66,401.42 L378.93,400.51 L379.20,399.60 L379.47,398.69 L379.74,397.79 L380.01,396.89 L380.28,395.99 L380.55,395.10 L380.82,394.22 L381.09,393.35 L381.36,392.48 L381.63,391.62 L381.90,390.77 L382.17,389.93 L382.44,389.10 L382.72,388.28 L382.99,387.47 L383.26,386.67 L383.53,385.88 L383.80,385.11 L384.07,384.35 L384.34,383.60 L384.61,382.87 L384.88,382.15 L385.15,381.45 L385.42,380.76 L385.69,380.09 L385.96,379.44 L386.23,378.80 L386.50,378.18 L386.77,377.58 L387.04,377.00 L387.31,376.44 L387.59,375.89 L387.86,375.37 L388.13,374.86 L388.40,374.38 L388.67,373.91 L388.94,373.47 L389.21,373.05 L389.48,372.65 L389.75,372.27 L390.02,371.91 L390.29,371.58 L390.56,371.26 L390.83,370.97 L391.10,370.71 L391.37,370.46 L391.64,370.24 L391.91,370.05 L392.18,369.87 L392.46,369.73 L392.73,369.60 L393.00,369.50 L393.27,369.42 L393.54,369.37 L393.81,369.34 L394.08,369.33 L394.35,369.35 L394.62,369.39 L394.89,369.46 L395.16,369.55 L395.43,369.66 L395.70,369.80 L395.97,369.96 L396.24,370.15 L396.51,370.36 L396.78,370.59 L397.05,370.84 L397.33,371.12 L397.60,371.42 L397.87,371.75 L398.14,372.09 L398.41,372.46 L398.68,372.85 L398.95,373.26 L399.22,373.70 L399.49,374.15 L399.76,374.62 L400.03,375.12 L400.30,375.63 L400.57,376.17 L400.84,376.72 L401.11,377.30 L401.38,377.89 L401.65,378.50 L401.92,379.13 L402.20,379.77 L402.47,380.44 L402.74,381.11 L403.01,381.81 L403.28,382.52 L403.55,383.24 L403.82,383.98 L404.09,384.74 L404.36,385.50 L404.63,386.28 L404.90,387.08 L405.17,387.88 L405.44,388.70 L405.71,389.52 L405.98,390.36 L406.25,391.21 L406.52,392.06 L406.79,392.93 L407.07,393.80 L407.34,394.68 L407.61,395.56 L407.88,396.45 L408.15,397.35 L408.42,398.25 L408.69,399.16 L408.96,400.07 L409.23,400.98 L409.50,401.90 L409.77,402.66 L410.04,403.42 L410.31,404.18 L410.58,404.94 L410.85,405.70 L411.12,406.46 L411.39,407.22 L411.66,407.97 L411.94,408.73 L412.21,409.48 L412.48,410.22 L412.75,410.97 L413.02,411.71 L413.29,412.44 L413.56,413.17 L413.83,413.89 L414.10,414.61 L414.37,415.32 L414.64,416.02 L414.91,416.71 L415.18,417.40 L415.45,418.07 L415.72,418.74 L415.99,419.40 L416.26,420.04 L416.53,420.68 L416.81,421.31 L417.08,421.92 L417.35,422.52 L417.62,423.11 L417.89,423.68 L418.16,424.25 L418.43,424.80 L418.70,425.33 L418.97,425.85 L419.24,426.36 L419.51,426.85 L419.78,427.33 L420.05,427.79 L420.32,428.23 L420.59,428.66 L420.86,429.07 L421.13,429.47 L421.40,429.84 L421.68,430.20 L421.95,430.54 L422.22,430.87 L422.49,431.17 L422.76,431.46 L423.03,431.73 L423.30,431.98 L423.57,432.21 L423.84,432.43 L424.11,432.62 L424.38,432.79 L424.65,432.95 L424.92,433.08 L425.19,433.20 L425.46,433.29 L425.73,433.37 L426.00,433.43 L426.27,433.46 L426.55,433.48 L426.55,441.38 L426.27,441.38 L426.00,441.35 L425.73,441.29 L425.46,441.22 L425.19,441.11 L424.92,440.99 L424.65,440.84 L424.38,440.67 L424.11,440.47 L423.84,440.25 L423.57,440.01 L423.30,439.74 L423.03,439.45 L422.76,439.14 L422.49,438.80 L422.22,438.45 L421.95,438.07 L421.68,437.67 L421.40,437.24 L421.13,436.80 L420.86,436.34 L420.59,435.85 L420.32,435.35 L420.05,434.82 L419.78,434.28 L419.51,433.71 L419.24,433.13 L418.97,432.53 L418.70,431.91 L418.43,431.27 L418.16,430.62 L417.89,429.95 L417.62,429.26 L417.35,428.56 L417.08,427.84 L416.81,427.11 L416.53,426.37 L416.26,425.61 L415.99,424.83 L415.72,424.05 L415.45,423.25 L415.18,422.44 L414.91,421.62 L414.64,420.79 L414.37,419.94 L414.10,419.09 L413.83,418.23 L413.56,417.37 L413.29,416.49 L413.02,415.61 L412.75,414.72 L412.48,413.83 L412.21,412.93 L411.94,412.02 L411.66,411.11 L411.39,410.20 L411.12,409.29 L410.85,408.37 L410.58,407.46 L410.31,406.54 L410.04,405.62 L409.77,404.70 L409.50,403.78 L409.23,403.03 L408.96,402.27 L408.69,401.52 L408.42,400.77 L408.15,400.03 L407.88,399.28 L407.61,398.55 L407.34,397.82 L407.07,397.09 L406.79,396.37 L406.52,395.66 L406.25,394.96 L405.98,394.26 L405.71,393.57 L405.44,392.89 L405.17,392.22 L404.90,391.56 L404.63,390.91 L404.36,390.27 L404.09,389.64 L403.82,389.03 L403.55,388.42 L403.28,387.83 L403.01,387.24 L402.74,386.68 L402.47,386.12 L402.20,385.58 L401.92,385.05 L401.65,384.54 L401.38,384.05 L401.11,383.56 L400.84,383.10 L400.57,382.65 L400.30,382.21 L400.03,381.80 L399.76,381.40 L399.49,381.01 L399.22,380.65 L398.95,380.30 L398.68,379.97 L398.41,379.65 L398.14,379.36 L397.87,379.08 L397.60,378.82 L397.33,378.59 L397.05,378.37 L396.78,378.17 L396.51,377.98 L396.24,377.82 L395.97,377.68 L395.70,377.56 L395.43,377.45 L395.16,377.37 L394.89,377.31 L394.62,377.26 L394.35,377.24 L394.08,377.24 L393.81,377.25 L393.54,377.29 L393.27,377.34 L393.00,377.42 L392.73,377.52 L392.46,377.63 L392.18,377.77 L391.91,377.92 L391.64,378.09 L391.37,378.29 L391.10,378.50 L390.83,378.73 L390.56,378.98 L390.29,379.25 L390.02,379.54 L389.75,379.85 L389.48,380.17 L389.21,380.51 L388.94,380.87 L388.67,381.25 L388.40,381.64 L388.13,382.05 L387.86,382.48 L387.59,382.93 L387.31,383.39 L387.04,383.86 L386.77,384.35 L386.50,384.86 L386.23,385.38 L385.96,385.92 L385.69,386.47 L385.42,387.03 L385.15,387.60 L384.88,388.19 L384.61,388.79 L384.34,389.41 L384.07,390.03 L383.80,390.67 L383.53,391.32 L383.26,391.97 L382.99,392.64 L382.72,393.32 L382.44,394.00 L382.17,394.69 L381.90,395.40 L381.63,396.11 L381.36,396.82 L381.09,397.54 L380.82,398.27 L380.55,399.01 L380.28,399.75 L380.01,400.49 L379.74,401.24 L379.47,401.99 L379.20,402.74 L378.93,403.50 L378.66,404.26 L378.39,405.02 L378.12,405.78 L377.85,406.54 L377.57,407.30 L377.30,408.06 L377.03,408.82 L376.76,409.73 L376.49,410.64 L376.22,411.55 L375.95,412.46 L375.68,413.36 L375.41,414.26 L375.14,415.15 L374.87,416.04 L374.60,416.92 L374.33,417.79 L374.06,418.65 L373.79,419.51 L373.52,420.35 L373.25,421.19 L372.98,422.02 L372.70,422.83 L372.43,423.64 L372.16,424.43 L371.89,425.21 L371.62,425.98 L371.35,426.73 L371.08,427.47 L370.81,428.19 L370.54,428.90 L370.27,429.60 L370.00,430.28 L369.73,430.94 L369.46,431.59 L369.19,432.21 L368.92,432.82 L368.65,433.42 L368.38,433.99 L368.11,434.54 L367.83,435.08 L367.56,435.59 L367.29,436.09 L367.02,436.56 L366.75,437.02 L366.48,437.45 L366.21,437.86 L365.94,438.25 L365.67,438.62 L365.40,438.97 L365.13,439.29 L364.86,439.59 L364.59,439.87 L364.32,440.13 L364.05,440.36 L363.78,440.57 L363.51,440.75 L363.24,440.91 L362.96,441.05 L362.69,441.17 L362.42,441.26 L362.15,441.32 L361.88,441.36 L361.61,441.38 L361.34,441.38 L361.07,441.35 L360.80,441.29 L360.53,441.22 L360.26,441.11 L359.99,440.99 L359.72,440.84 L359.45,440.67 L359.18,440.47 L358.91,440.25 L358.64,440.01 L358.37,439.74 L358.09,439.45 L357.82,439.14 L357.55,438.80 L357.28,438.45 L357.01,438.07 L356.74,437.67 L356.47,437.24 L356.20,436.80 L355.93,436.34 L355.66,435.85 L355.39,435.35 L355.12,434.82 L354.85,434.28 L354.58,433.71 L354.31,433.13 L354.04,432.53 L353.77,431.91 L353.50,431.27 L353.22,430.62 L352.95,429.95 L352.68,429.26 L352.41,428.56 L352.14,427.84 L351.87,427.11 L351.60,426.37 L351.33,425.61 L351.06,424.83 L350.79,424.05 L350.52,423.25 L350.25,422.44 L349.98,421.62 L349.71,420.79 L349.44,419.94 L349.17,419.09 L348.90,418.23 L348.62,417.37 L348.35,416.49 L348.08,415.61 L347.81,414.72 L347.54,413.83 L347.27,412.93 L347.00,412.02 L346.73,411.11 L346.46,410.20 L346.19,409.29 L345.92,408.37 L345.65,407.46 L345.38,406.54 L345.11,405.62 L344.84,404.70 L344.57,403.78 L344.30,403.03 L344.03,402.27 L343.76,401.52 L343.48,400.77 L343.21,400.03 L342.94,399.28 L342.67,398.55 L342.40,397.82 L342.13,397.09 L341.86,396.37 L341.59,395.66 L341.32,394.96 L341.05,394.26 L340.78,393.57 L340.51,392.89 L340.24,392.22 L339.97,391.56 L339.70,390.91 L339.43,390.27 L339.16,389.64 L338.89,389.03 L338.61,388.42 L338.34,387.83 L338.07,387.24 L337.80,386.68 L337.53,386.12 L337.26,385.58 L336.99,385.05 L336.72,384.54 L336.45,384.05 L336.18,383.56 L335.91,383.10 L335.64,382.65 L335.37,382.21 L335.10,381.80 L334.83,381.40 L334.56,381.01 L334.29,380.65 L334.02,380.30 L333.74,379.97 L333.47,379.65 L333.20,379.36 L332.93,379.08 L332.66,378.82 L332.39,378.59 L332.12,378.37 L331.85,378.17 L331.58,377.98 L331.31,377.82 L331.04,377.68 L330.77,377.56 L330.50,377.45 L330.23,377.37 L329.96,377.31 L329.69,377.26 L329.42,377.24 L329.15,377.24 L328.87,377.25 L328.60,377.29 L328.33,377.34 L328.06,377.42 L327.79,377.52 L327.52,377.63 L327.25,377.77 L326.98,377.92 L326.71,378.09 L326.44,378.29 L326.17,378.50 L325.90,378.73 L325.63,378.98 L325.36,379.25 L325.09,379.54 L324.82,379.85 L324.55,380.17 L324.28,380.51 L324.00,380.87 L323.73,381.25 L323.46,381.64 L323.19,382.05 L322.92,382.48 L322.65,382.93 L322.38,383.39 L322.11,383.86 L321.84,384.35 L321.57,384.86 L321.30,385.38 L321.03,385.92 L320.76,386.47 L320.49,387.03 L320.22,387.60 L319.95,388.19 L319.68,388.79 L319.41,389.41 L319.13,390.03 L318.86,390.67 L318.59,391.32 L318.32,391.97 L318.05,392.64 L317.78,393.32 L317.51,394.00 L317.24,394.69 L316.97,395.40 L316.70,396.11 L316.43,396.82 L316.16,397.54 L315.89,398.27 L315.62,399.01 L315.35,399.75 L315.08,400.49 L314.81,401.24 L314.54,401.99 L314.26,402.74 L313.99,403.50 L313.72,404.26 L313.45,405.02 L313.18,405.78 L312.91,406.54 L312.64,407.30 L312.37,408.06 L312.10,408.82 L311.83,409.73 L311.56,410.64 L311.29,411.55 L311.02,412.46 L310.75,413.36 L310.48,414.26 L310.21,415.15 L309.94,416.04 L309.67,416.92 L309.39,417.79 L309.12,418.65 L308.85,419.51 L308.58,420.35 L308.31,421.19 L308.04,422.02 L307.77,422.83 L307.50,423.64 L307.23,424.43 L306.96,425.21 L306.69,425.98 L306.42,426.73 L306.15,427.47 L305.88,428.19 L305.61,428.90 L305.34,429.60 L305.07,430.28 L304.80,430.94 L304.52,431.59 L304.25,432.21 L303.98,432.82 L303.71,433.42 L303.44,433.99 L303.17,434.54 L302.90,435.08 L302.63,435.59 L302.36,436.09 L302.09,436.56 L301.82,437.02 L301.55,437.45 L301.28,437.86 L301.01,438.25 L300.74,438.62 L300.47,438.97 L300.20,439.29 L299.93,439.59 L299.65,439.87 L299.38,440.13 L299.11,440.36 L298.84,440.57 L298.57,440.75 L298.30,440.91 L298.03,441.05 L297.76,441.17 L297.49,441.26 L297.22,441.32 L296.95,441.36 L296.68,441.38 L296.41,441.38 L296.14,441.35 L295.87,441.29 L295.60,441.22 L295.33,441.11 L295.06,440.99 L294.78,440.84 L294.51,440.67 L294.24,440.47 L293.97,440.25 L293.70,440.01 L293.43,439.74 L293.16,439.45 L292.89,439.14 L292.62,438.80 L292.35,438.45 L292.08,438.07 L291.81,437.67 L291.54,437.24 L291.27,436.80 L291.00,436.34 L290.73,435.85 L290.46,435.35 L290.19,434.82 L289.91,434.28 L289.64,433.71 L289.37,433.13 L289.10,432.53 L288.83,431.91 L288.56,431.27 L288.29,430.62 L288.02,429.95 L287.75,429.26 L287.48,428.56 L287.21,427.84 L286.94,427.11 L286.67,426.37 L286.40,425.61 L286.13,424.83 L285.86,424.05 L285.59,423.25 L285.31,422.44 L285.04,421.62 L284.77,420.79 L284.50,419.94 L284.23,419.09 L283.96,418.23 L283.69,417.37 L283.42,416.49 L283.15,415.61 L282.88,414.72 L282.61,413.83 L282.34,412.93 L282.07,412.02 L281.80,411.11 L281.53,410.20 L281.26,409.29 L280.99,408.37 L280.72,407.46 L280.44,406.54 L280.17,405.62 L279.90,404.70 L279.63,403.78 L279.36,403.03 L279.09,402.27 L278.82,401.52 L278.55,400.77 L278.28,400.03 L278.01,399.28 L277.74,398.55 L277.47,397.82 L277.20,397.09 L276.93,396.37 L276.66,395.66 L276.39,394.96 L276.12,394.26 L275.85,393.57 L275.58,392.89 L275.30,392.22 L275.03,391.56 L274.76,390.91 L274.49,390.27 L274.22,389.64 L273.95,389.03 L273.68,388.42 L273.41,387.83 L273.14,387.24 L272.87,386.68 L272.60,386.12 L272.33,385.58 L272.06,385.05 L271.79,384.54 L271.52,384.05 L271.25,383.56 L270.98,383.10 L270.71,382.65 L270.43,382.21 L270.16,381.80 L269.89,381.40 L269.62,381.01 L269.35,380.65 L269.08,380.30 L268.81,379.97 L268.54,379.65 L268.27,379.36 L268.00,379.08 L267.73,378.82 L267.46,378.59 L267.19,378.37 L266.92,378.17 L266.65,377.98 L266.38,377.82 L266.11,377.68 L265.84,377.56 L265.56,377.45 L265.29,377.37 L265.02,377.31 L264.75,377.26 L264.48,377.24 L264.21,377.24 L263.94,377.25 L263.67,377.29 L263.40,377.34 L263.13,377.42 L262.86,377.52 L262.59,377.63 L262.32,377.77 L262.05,377.92 L261.78,378.09 L261.51,378.29 L261.24,378.50 L260.97,378.73 L260.69,378.98 L260.42,379.25 L260.15,379.54 L259.88,379.85 L259.61,380.17 L259.34,380.51 L259.07,380.87 L258.80,381.25 L258.53,381.64 L258.26,382.05 L257.99,382.48 L257.72,382.93 L257.45,383.39 L257.18,383.86 L256.91,384.35 L256.64,384.86 L256.37,385.38 L256.10,385.92 L255.82,386.47 L255.55,387.03 L255.28,387.60 L255.01,388.19 L254.74,388.79Z" fill="#ff6080" fill-opacity="0.38"/>
<path d="M254.74,416.00 L255.01,416.35 L255.28,416.69 L255.55,417.02 L255.82,417.34 L256.10,417.66 L256.37,417.96 L256.64,418.26 L256.91,418.55 L257.18,418.83 L257.45,419.10 L257.72,419.36 L257.99,419.61 L258.26,419.86 L258.53,420.09 L258.80,420.31 L259.07,420.52 L259.34,420.72 L259.61,420.91 L259.88,421.09 L260.15,421.26 L260.42,421.42 L260.69,421.57 L260.97,421.70 L261.24,421.83 L261.51,421.94 L261.78,422.04 L262.05,422.13 L262.32,422.21 L262.59,422.27 L262.86,422.33 L263.13,422.37 L263.40,422.41 L263.67,422.43 L263.94,422.43 L264.21,422.43 L264.48,422.41 L264.75,422.39 L265.02,422.35 L265.29,422.30 L265.56,422.24 L265.84,422.16 L266.11,422.08 L266.38,421.98 L266.65,421.87 L266.92,421.75 L267.19,421.62 L267.46,421.48 L267.73,421.32 L268.00,421.16 L268.27,420.98 L268.54,420.80 L268.81,420.60 L269.08,420.39 L269.35,420.18 L269.62,419.95 L269.89,419.71 L270.16,419.46 L270.43,419.21 L270.71,418.94 L270.98,418.66 L271.25,418.38 L271.52,418.08 L271.79,417.78 L272.06,417.47 L272.33,417.15 L272.60,416.82 L272.87,416.48 L273.14,416.14 L273.41,415.79 L273.68,415.43 L273.95,415.06 L274.22,414.69 L274.49,414.31 L274.76,413.92 L275.03,413.53 L275.30,413.14 L275.58,412.73 L275.85,412.33 L276.12,411.92 L276.39,411.50 L276.66,411.08 L276.93,410.65 L277.20,410.22 L277.47,409.79 L277.74,409.36 L278.01,408.92 L278.28,408.48 L278.55,408.04 L278.82,407.59 L279.09,407.15 L279.36,406.70 L279.63,406.25 L279.90,405.71 L280.17,405.17 L280.44,404.64 L280.72,404.10 L280.99,403.56 L281.26,403.02 L281.53,402.49 L281.80,401.96 L282.07,401.43 L282.34,400.90 L282.61,400.38 L282.88,399.85 L283.15,399.34 L283.42,398.82 L283.69,398.31 L283.96,397.81 L284.23,397.31 L284.50,396.82 L284.77,396.33 L285.04,395.85 L285.31,395.37 L285.59,394.90 L285.86,394.44 L286.13,393.99 L286.40,393.54 L286.67,393.10 L286.94,392.67 L287.21,392.25 L287.48,391.84 L287.75,391.44 L288.02,391.04 L288.29,390.66 L288.56,390.29 L288.83,389.92 L289.10,389.57 L289.37,389.23 L289.64,388.90 L289.91,388.57 L290.19,388.27 L290.46,387.97 L290.73,387.68 L291.00,387.41 L291.27,387.15 L291.54,386.90 L291.81,386.66 L292.08,386.44 L292.35,386.23 L292.62,386.03 L292.89,385.85 L293.16,385.68 L293.43,385.52 L293.70,385.38 L293.97,385.25 L294.24,385.13 L294.51,385.03 L294.78,384.94 L295.06,384.86 L295.33,384.80 L295.60,384.76 L295.87,384.72 L296.14,384.70 L296.41,384.70 L296.68,384.71 L296.95,384.73 L297.22,384.77 L297.49,384.82 L297.76,384.89 L298.03,384.97 L298.30,385.06 L298.57,385.17 L298.84,385.29 L299.11,385.42 L299.38,385.57 L299.65,385.73 L299.93,385.91 L300.20,386.10 L300.47,386.30 L300.74,386.51 L301.01,386.74 L301.28,386.98 L301.55,387.23 L301.82,387.50 L302.09,387.78 L302.36,388.07 L302.63,388.37 L302.90,388.68 L303.17,389.00 L303.44,389.34 L303.71,389.68 L303.98,390.04 L304.25,390.41 L304.52,390.79 L304.80,391.17 L305.07,391.57 L305.34,391.98 L305.61,392.39 L305.88,392.82 L306.15,393.25 L306.42,393.69 L306.69,394.14 L306.96,394.59 L307.23,395.06 L307.50,395.53 L307.77,396.01 L308.04,396.49 L308.31,396.98 L308.58,397.48 L308.85,397.98 L309.12,398.48 L309.39,398.99 L309.67,399.51 L309.94,400.03 L310.21,400.55 L310.48,401.07 L310.75,401.60 L311.02,402.13 L311.29,402.67 L311.56,403.20 L311.83,403.74 L312.10,404.27 L312.37,404.72 L312.64,405.17 L312.91,405.62 L313.18,406.07 L313.45,406.52 L313.72,406.97 L313.99,407.42 L314.26,407.86 L314.54,408.30 L314.81,408.75 L315.08,409.18 L315.35,409.62 L315.62,410.05 L315.89,410.48 L316.16,410.91 L316.43,411.33 L316.70,411.75 L316.97,412.17 L317.24,412.57 L317.51,412.98 L317.78,413.38 L318.05,413.77 L318.32,414.16 L318.59,414.54 L318.86,414.91 L319.13,415.28 L319.41,415.64 L319.68,416.00 L319.95,416.35 L320.22,416.69 L320.49,417.02 L320.76,417.34 L321.03,417.66 L321.30,417.96 L321.57,418.26 L321.84,418.55 L322.11,418.83 L322.38,419.10 L322.65,419.36 L322.92,419.61 L323.19,419.86 L323.46,420.09 L323.73,420.31 L324.00,420.52 L324.28,420.72 L324.55,420.91 L324.82,421.09 L325.09,421.26 L325.36,421.42 L325.63,421.57 L325.90,421.70 L326.17,421.83 L326.44,421.94 L326.71,422.04 L326.98,422.13 L327.25,422.21 L327.52,422.27 L327.79,422.33 L328.06,422.37 L328.33,422.41 L328.60,422.43 L328.87,422.43 L329.15,422.43 L329.42,422.41 L329.69,422.39 L329.96,422.35 L330.23,422.30 L330.50,422.24 L330.77,422.16 L331.04,422.08 L331.31,421.98 L331.58,421.87 L331.85,421.75 L332.12,421.62 L332.39,421.48 L332.66,421.32 L332.93,421.16 L333.20,420.98 L333.47,420.80 L333.74,420.60 L334.02,420.39 L334.29,420.18 L334.56,419.95 L334.83,419.71 L335.10,419.46 L335.37,419.21 L335.64,418.94 L335.91,418.66 L336.18,418.38 L336.45,418.08 L336.72,417.78 L336.99,417.47 L337.26,417.15 L337.53,416.82 L337.80,416.48 L338.07,416.14 L338.34,415.79 L338.61,415.43 L338.89,415.06 L339.16,414.69 L339.43,414.31 L339.70,413.92 L339.97,413.53 L340.24,413.14 L340.51,412.73 L340.78,412.33 L341.05,411.92 L341.32,411.50 L341.59,411.08 L341.86,410.65 L342.13,410.22 L342.40,409.79 L342.67,409.36 L342.94,408.92 L343.21,408.48 L343.48,408.04 L343.76,407.59 L344.03,407.15 L344.30,406.70 L344.57,406.25 L344.84,405.71 L345.11,405.17 L345.38,404.64 L345.65,404.10 L345.92,403.56 L346.19,403.02 L346.46,402.49 L346.73,401.96 L347.00,401.43 L347.27,400.90 L347.54,400.38 L347.81,399.85 L348.08,399.34 L348.35,398.82 L348.62,398.31 L348.90,397.81 L349.17,397.31 L349.44,396.82 L349.71,396.33 L349.98,395.85 L350.25,395.37 L350.52,394.90 L350.79,394.44 L351.06,393.99 L351.33,393.54 L351.60,393.10 L351.87,392.67 L352.14,392.25 L352.41,391.84 L352.68,391.44 L352.95,391.04 L353.22,390.66 L353.50,390.29 L353.77,389.92 L354.04,389.57 L354.31,389.23 L354.58,388.90 L354.85,388.57 L355.12,388.27 L355.39,387.97 L355.66,387.68 L355.93,387.41 L356.20,387.15 L356.47,386.90 L356.74,386.66 L357.01,386.44 L357.28,386.23 L357.55,386.03 L357.82,385.85 L358.09,385.68 L358.37,385.52 L358.64,385.38 L358.91,385.25 L359.18,385.13 L359.45,385.03 L359.72,384.94 L359.99,384.86 L360.26,384.80 L360.53,384.76 L360.80,384.72 L361.07,384.70 L361.34,384.70 L361.61,384.71 L361.88,384.73 L362.15,384.77 L362.42,384.82 L362.69,384.89 L362.96,384.97 L363.24,385.06 L363.51,385.17 L363.78,385.29 L364.05,385.42 L364.32,385.57 L364.59,385.73 L364.86,385.91 L365.13,386.10 L365.40,386.30 L365.67,386.51 L365.94,386.74 L366.21,386.98 L366.48,387.23 L366.75,387.50 L367.02,387.78 L367.29,388.07 L367.56,388.37 L367.83,388.68 L368.11,389.00 L368.38,389.34 L368.65,389.68 L368.92,390.04 L369.19,390.41 L369.46,390.79 L369.73,391.17 L370.00,391.57 L370.27,391.98 L370.54,392.39 L370.81,392.82 L371.08,393.25 L371.35,393.69 L371.62,394.14 L371.89,394.59 L372.16,395.06 L372.43,395.53 L372.70,396.01 L372.98,396.49 L373.25,396.98 L373.52,397.48 L373.79,397.98 L374.06,398.48 L374.33,398.99 L374.60,399.51 L374.87,400.03 L375.14,400.55 L375.41,401.07 L375.68,401.60 L375.95,402.13 L376.22,402.67 L376.49,403.20 L376.76,403.74 L377.03,404.27 L377.30,404.72 L377.57,405.17 L377.85,405.62 L378.12,406.07 L378.39,406.52 L378.66,406.97 L378.93,407.42 L379.20,407.86 L379.47,408.30 L379.74,408.75 L380.01,409.18 L380.28,409.62 L380.55,410.05 L380.82,410.48 L381.09,410.91 L381.36,411.33 L381.63,411.75 L381.90,412.17 L382.17,412.57 L382.44,412.98 L382.72,413.38 L382.99,413.77 L383.26,414.16 L383.53,414.54 L383.80,414.91 L384.07,415.28 L384.34,415.64 L384.61,416.00 L384.88,416.35 L385.15,416.69 L385.42,417.02 L385.69,417.34 L385.96,417.66 L386.23,417.96 L386.50,418.26 L386.77,418.55 L387.04,418.83 L387.31,419.10 L387.59,419.36 L387.86,419.61 L388.13,419.86 L388.40,420.09 L388.67,420.31 L388.94,420.52 L389.21,420.72 L389.48,420.91 L389.75,421.09 L390.02,421.26 L390.29,421.42 L390.56,421.57 L390.83,421.70 L391.10,421.83 L391.37,421.94 L391.64,422.04 L391.91,422.13 L392.18,422.21 L392.46,422.27 L392.73,422.33 L393.00,422.37 L393.27,422.41 L393.54,422.43 L393.81,422.43 L394.08,422.43 L394.35,422.41 L394.62,422.39 L394.89,422.35 L395.16,422.30 L395.43,422.24 L395.70,422.16 L395.97,422.08 L396.24,421.98 L396.51,421.87 L396.78,421.75 L397.05,421.62 L397.33,421.48 L397.60,421.32 L397.87,421.16 L398.14,420.98 L398.41,420.80 L398.68,420.60 L398.95,420.39 L399.22,420.18 L399.49,419.95 L399.76,419.71 L400.03,419.46 L400.30,419.21 L400.57,418.94 L400.84,418.66 L401.11,418.38 L401.38,418.08 L401.65,417.78 L401.92,417.47 L402.20,417.15 L402.47,416.82 L402.74,416.48 L403.01,416.14 L403.28,415.79 L403.55,415.43 L403.82,415.06 L404.09,414.69 L404.36,414.31 L404.63,413.92 L404.90,413.53 L405.17,413.14 L405.44,412.73 L405.71,412.33 L405.98,411.92 L406.25,411.50 L406.52,411.08 L406.79,410.65 L407.07,410.22 L407.34,409.79 L407.61,409.36 L407.88,408.92 L408.15,408.48 L408.42,408.04 L408.69,407.59 L408.96,407.15 L409.23,406.70 L409.50,406.25 L409.77,405.71 L410.04,405.17 L410.31,404.64 L410.58,404.10 L410.85,403.56 L411.12,403.02 L411.39,402.49 L411.66,401.96 L411.94,401.43 L412.21,400.90 L412.48,400.38 L412.75,399.85 L413.02,399.34 L413.29,398.82 L413.56,398.31 L413.83,397.81 L414.10,397.31 L414.37,396.82 L414.64,396.33 L414.91,395.85 L415.18,395.37 L415.45,394.90 L415.72,394.44 L415.99,393.99 L416.26,393.54 L416.53,393.10 L416.81,392.67 L417.08,392.25 L417.35,391.84 L417.62,391.44 L417.89,391.04 L418.16,390.66 L418.43,390.29 L418.70,389.92 L418.97,389.57 L419.24,389.23 L419.51,388.90 L419.78,388.57 L420.05,388.27 L420.32,387.97 L420.59,387.68 L420.86,387.41 L421.13,387.15 L421.40,386.90 L421.68,386.66 L421.95,386.44 L422.22,386.23 L422.49,386.03 L422.76,385.85 L423.03,385.68 L423.30,385.52 L423.57,385.38 L423.84,385.25 L424.11,385.13 L424.38,385.03 L424.65,384.94 L424.92,384.86 L425.19,384.80 L425.46,384.76 L425.73,384.72 L426.00,384.70 L426.27,384.70 L426.55,384.71 L426.55,389.60 L426.27,389.60 L426.00,389.61 L425.73,389.63 L425.46,389.66 L425.19,389.70 L424.92,389.76 L424.65,389.83 L424.38,389.90 L424.11,389.99 L423.84,390.10 L423.57,390.21 L423.30,390.33 L423.03,390.47 L422.76,390.62 L422.49,390.77 L422.22,390.94 L421.95,391.12 L421.68,391.31 L421.40,391.51 L421.13,391.72 L420.86,391.95 L420.59,392.18 L420.32,392.42 L420.05,392.67 L419.78,392.93 L419.51,393.20 L419.24,393.48 L418.97,393.77 L418.70,394.07 L418.43,394.38 L418.16,394.69 L417.89,395.02 L417.62,395.35 L417.35,395.69 L417.08,396.03 L416.81,396.39 L416.53,396.75 L416.26,397.12 L415.99,397.49 L415.72,397.88 L415.45,398.26 L415.18,398.66 L414.91,399.06 L414.64,399.46 L414.37,399.87 L414.10,400.28 L413.83,400.70 L413.56,401.12 L413.29,401.55 L413.02,401.98 L412.75,402.41 L412.48,402.85 L412.21,403.29 L411.94,403.73 L411.66,404.17 L411.39,404.62 L411.12,405.07 L410.85,405.51 L410.58,405.96 L410.31,406.41 L410.04,406.86 L409.77,407.31 L409.50,407.76 L409.23,408.30 L408.96,408.83 L408.69,409.37 L408.42,409.90 L408.15,410.43 L407.88,410.96 L407.61,411.49 L407.34,412.01 L407.07,412.53 L406.79,413.04 L406.52,413.55 L406.25,414.06 L405.98,414.56 L405.71,415.05 L405.44,415.54 L405.17,416.03 L404.90,416.51 L404.63,416.98 L404.36,417.44 L404.09,417.90 L403.82,418.35 L403.55,418.79 L403.28,419.22 L403.01,419.64 L402.74,420.06 L402.47,420.46 L402.20,420.86 L401.92,421.25 L401.65,421.63 L401.38,421.99 L401.11,422.35 L400.84,422.70 L400.57,423.03 L400.30,423.35 L400.03,423.67 L399.76,423.97 L399.49,424.26 L399.22,424.53 L398.95,424.80 L398.68,425.05 L398.41,425.29 L398.14,425.52 L397.87,425.73 L397.60,425.94 L397.33,426.12 L397.05,426.30 L396.78,426.46 L396.51,426.61 L396.24,426.75 L395.97,426.87 L395.70,426.97 L395.43,427.07 L395.16,427.15 L394.89,427.21 L394.62,427.26 L394.35,427.30 L394.08,427.32 L393.81,427.33 L393.54,427.33 L393.27,427.31 L393.00,427.28 L392.73,427.23 L392.46,427.17 L392.18,427.09 L391.91,427.01 L391.64,426.90 L391.37,426.79 L391.10,426.66 L390.83,426.51 L390.56,426.36 L390.29,426.18 L390.02,426.00 L389.75,425.80 L389.48,425.59 L389.21,425.37 L388.94,425.13 L388.67,424.88 L388.40,424.62 L388.13,424.35 L387.86,424.07 L387.59,423.77 L387.31,423.46 L387.04,423.14 L386.77,422.81 L386.50,422.47 L386.23,422.11 L385.96,421.75 L385.69,421.37 L385.42,420.99 L385.15,420.60 L384.88,420.19 L384.61,419.78 L384.34,419.36 L384.07,418.93 L383.80,418.49 L383.53,418.05 L383.26,417.59 L382.99,417.13 L382.72,416.66 L382.44,416.19 L382.17,415.70 L381.90,415.22 L381.63,414.72 L381.36,414.22 L381.09,413.72 L380.82,413.21 L380.55,412.70 L380.28,412.18 L380.01,411.66 L379.74,411.13 L379.47,410.61 L379.20,410.08 L378.93,409.54 L378.66,409.01 L378.39,408.47 L378.12,407.94 L377.85,407.40 L377.57,406.86 L377.30,406.32 L377.03,405.78 L376.76,405.34 L376.49,404.89 L376.22,404.44 L375.95,404.00 L375.68,403.56 L375.41,403.11 L375.14,402.68 L374.87,402.24 L374.60,401.81 L374.33,401.38 L374.06,400.96 L373.79,400.54 L373.52,400.12 L373.25,399.71 L372.98,399.30 L372.70,398.90 L372.43,398.50 L372.16,398.11 L371.89,397.72 L371.62,397.35 L371.35,396.97 L371.08,396.61 L370.81,396.25 L370.54,395.90 L370.27,395.55 L370.00,395.22 L369.73,394.89 L369.46,394.57 L369.19,394.26 L368.92,393.95 L368.65,393.66 L368.38,393.37 L368.11,393.09 L367.83,392.83 L367.56,392.57 L367.29,392.32 L367.02,392.08 L366.75,391.86 L366.48,391.64 L366.21,391.43 L365.94,391.24 L365.67,391.05 L365.40,390.87 L365.13,390.71 L364.86,390.56 L364.59,390.41 L364.32,390.28 L364.05,390.16 L363.78,390.05 L363.51,389.96 L363.24,389.87 L362.96,389.80 L362.69,389.74 L362.42,389.69 L362.15,389.65 L361.88,389.62 L361.61,389.60 L361.34,389.60 L361.07,389.61 L360.80,389.63 L360.53,389.66 L360.26,389.70 L359.99,389.76 L359.72,389.83 L359.45,389.90 L359.18,389.99 L358.91,390.10 L358.64,390.21 L358.37,390.33 L358.09,390.47 L357.82,390.62 L357.55,390.77 L357.28,390.94 L357.01,391.12 L356.74,391.31 L356.47,391.51 L356.20,391.72 L355.93,391.95 L355.66,392.18 L355.39,392.42 L355.12,392.67 L354.85,392.93 L354.58,393.20 L354.31,393.48 L354.04,393.77 L353.77,394.07 L353.50,394.38 L353.22,394.69 L352.95,395.02 L352.68,395.35 L352.41,395.69 L352.14,396.03 L351.87,396.39 L351.60,396.75 L351.33,397.12 L351.06,397.49 L350.79,397.88 L350.52,398.26 L350.25,398.66 L349.98,399.06 L349.71,399.46 L349.44,399.87 L349.17,400.28 L348.90,400.70 L348.62,401.12 L348.35,401.55 L348.08,401.98 L347.81,402.41 L347.54,402.85 L347.27,403.29 L347.00,403.73 L346.73,404.17 L346.46,404.62 L346.19,405.07 L345.92,405.51 L345.65,405.96 L345.38,406.41 L345.11,406.86 L344.84,407.31 L344.57,407.76 L344.30,408.30 L344.03,408.83 L343.76,409.37 L343.48,409.90 L343.21,410.43 L342.94,410.96 L342.67,411.49 L342.40,412.01 L342.13,412.53 L341.86,413.04 L341.59,413.55 L341.32,414.06 L341.05,414.56 L340.78,415.05 L340.51,415.54 L340.24,416.03 L339.97,416.51 L339.70,416.98 L339.43,417.44 L339.16,417.90 L338.89,418.35 L338.61,418.79 L338.34,419.22 L338.07,419.64 L337.80,420.06 L337.53,420.46 L337.26,420.86 L336.99,421.25 L336.72,421.63 L336.45,421.99 L336.18,422.35 L335.91,422.70 L335.64,423.03 L335.37,423.35 L335.10,423.67 L334.83,423.97 L334.56,424.26 L334.29,424.53 L334.02,424.80 L333.74,425.05 L333.47,425.29 L333.20,425.52 L332.93,425.73 L332.66,425.94 L332.39,426.12 L332.12,426.30 L331.85,426.46 L331.58,426.61 L331.31,426.75 L331.04,426.87 L330.77,426.97 L330.50,427.07 L330.23,427.15 L329.96,427.21 L329.69,427.26 L329.42,427.30 L329.15,427.32 L328.87,427.33 L328.60,427.33 L328.33,427.31 L328.06,427.28 L327.79,427.23 L327.52,427.17 L327.25,427.09 L326.98,427.01 L326.71,426.90 L326.44,426.79 L326.17,426.66 L325.90,426.51 L325.63,426.36 L325.36,426.18 L325.09,426.00 L324.82,425.80 L324.55,425.59 L324.28,425.37 L324.00,425.13 L323.73,424.88 L323.46,424.62 L323.19,424.35 L322.92,424.07 L322.65,423.77 L322.38,423.46 L322.11,423.14 L321.84,422.81 L321.57,422.47 L321.30,422.11 L321.03,421.75 L320.76,421.37 L320.49,420.99 L320.22,420.60 L319.95,420.19 L319.68,419.78 L319.41,419.36 L319.13,418.93 L318.86,418.49 L318.59,418.05 L318.32,417.59 L318.05,417.13 L317.78,416.66 L317.51,416.19 L317.24,415.70 L316.97,415.22 L316.70,414.72 L316.43,414.22 L316.16,413.72 L315.89,413.21 L315.62,412.70 L315.35,412.18 L315.08,411.66 L314.81,411.13 L314.54,410.61 L314.26,410.08 L313.99,409.54 L313.72,409.01 L313.45,408.47 L313.18,407.94 L312.91,407.40 L312.64,406.86 L312.37,406.32 L312.10,405.78 L311.83,405.34 L311.56,404.89 L311.29,404.44 L311.02,404.00 L310.75,403.56 L310.48,403.11 L310.21,402.68 L309.94,402.24 L309.67,401.81 L309.39,401.38 L309.12,400.96 L308.85,400.54 L308.58,400.12 L308.31,399.71 L308.04,399.30 L307.77,398.90 L307.50,398.50 L307.23,398.11 L306.96,397.72 L306.69,397.35 L306.42,396.97 L306.15,396.61 L305.88,396.25 L305.61,395.90 L305.34,395.55 L305.07,395.22 L304.80,394.89 L304.52,394.57 L304.25,394.26 L303.98,393.95 L303.71,393.66 L303.44,393.37 L303.17,393.09 L302.90,392.83 L302.63,392.57 L302.36,392.32 L302.09,392.08 L301.82,391.86 L301.55,391.64 L301.28,391.43 L301.01,391.24 L300.74,391.05 L300.47,390.87 L300.20,390.71 L299.93,390.56 L299.65,390.41 L299.38,390.28 L299.11,390.16 L298.84,390.05 L298.57,389.96 L298.30,389.87 L298.03,389.80 L297.76,389.74 L297.49,389.69 L297.22,389.65 L296.95,389.62 L296.68,389.60 L296.41,389.60 L296.14,389.61 L295.87,389.63 L295.60,389.66 L295.33,389.70 L295.06,389.76 L294.78,389.83 L294.51,389.90 L294.24,389.99 L293.97,390.10 L293.70,390.21 L293.43,390.33 L293.16,390.47 L292.89,390.62 L292.62,390.77 L292.35,390.94 L292.08,391.12 L291.81,391.31 L291.54,391.51 L291.27,391.72 L291.00,391.95 L290.73,392.18 L290.46,392.42 L290.19,392.67 L289.91,392.93 L289.64,393.20 L289.37,393.48 L289.10,393.77 L288.83,394.07 L288.56,394.38 L288.29,394.69 L288.02,395.02 L287.75,395.35 L287.48,395.69 L287.21,396.03 L286.94,396.39 L286.67,396.75 L286.40,397.12 L286.13,397.49 L285.86,397.88 L285.59,398.26 L285.31,398.66 L285.04,399.06 L284.77,399.46 L284.50,399.87 L284.23,400.28 L283.96,400.70 L283.69,401.12 L283.42,401.55 L283.15,401.98 L282.88,402.41 L282.61,402.85 L282.34,403.29 L282.07,403.73 L281.80,404.17 L281.53,404.62 L281.26,405.07 L280.99,405.51 L280.72,405.96 L280.44,406.41 L280.17,406.86 L279.90,407.31 L279.63,407.76 L279.36,408.30 L279.09,408.83 L278.82,409.37 L278.55,409.90 L278.28,410.43 L278.01,410.96 L277.74,411.49 L277.47,412.01 L277.20,412.53 L276.93,413.04 L276.66,413.55 L276.39,414.06 L276.12,414.56 L275.85,415.05 L275.58,415.54 L275.30,416.03 L275.03,416.51 L274.76,416.98 L274.49,417.44 L274.22,417.90 L273.95,418.35 L273.68,418.79 L273.41,419.22 L273.14,419.64 L272.87,420.06 L272.60,420.46 L272.33,420.86 L272.06,421.25 L271.79,421.63 L271.52,421.99 L271.25,422.35 L270.98,422.70 L270.71,423.03 L270.43,423.35 L270.16,423.67 L269.89,423.97 L269.62,424.26 L269.35,424.53 L269.08,424.80 L268.81,425.05 L268.54,425.29 L268.27,425.52 L268.00,425.73 L267.73,425.94 L267.46,426.12 L267.19,426.30 L266.92,426.46 L266.65,426.61 L266.38,426.75 L266.11,426.87 L265.84,426.97 L265.56,427.07 L265.29,427.15 L265.02,427.21 L264.75,427.26 L264.48,427.30 L264.21,427.32 L263.94,427.33 L263.67,427.33 L263.40,427.31 L263.13,427.28 L262.86,427.23 L262.59,427.17 L262.32,427.09 L262.05,427.01 L261.78,426.90 L261.51,426.79 L261.24,426.66 L260.97,426.51 L260.69,426.36 L260.42,426.18 L260.15,426.00 L259.88,425.80 L259.61,425.59 L259.34,425.37 L259.07,425.13 L258.80,424.88 L258.53,424.62 L258.26,424.35 L257.99,424.07 L257.72,423.77 L257.45,423.46 L257.18,423.14 L256.91,422.81 L256.64,422.47 L256.37,422.11 L256.10,421.75 L255.82,421.37 L255.55,420.99 L255.28,420.60 L255.01,420.19 L254.74,419.78Z" fill="#60d0e0" fill-opacity="0.45"/>
<polyline points="254.74,385.83 255.01,385.17 255.28,384.53 255.55,383.90 255.82,383.28 256.10,382.68 256.37,382.09 256.64,381.52 256.91,380.97 257.18,380.43 257.45,379.91 257.72,379.41 257.99,378.92 258.26,378.46 258.53,378.01 258.80,377.58 259.07,377.17 259.34,376.78 259.61,376.41 259.88,376.06 260.15,375.72 260.42,375.41 260.69,375.12 260.97,374.85 261.24,374.60 261.51,374.38 261.78,374.17 262.05,373.98 262.32,373.82 262.59,373.68 262.86,373.56 263.13,373.46 263.40,373.38 263.67,373.33 263.94,373.29 264.21,373.28 264.48,373.29 264.75,373.33 265.02,373.38 265.29,373.46 265.56,373.56 265.84,373.68 266.11,373.82 266.38,373.98 266.65,374.17 266.92,374.38 267.19,374.60 267.46,374.85 267.73,375.12 268.00,375.41 268.27,375.72 268.54,376.06 268.81,376.41 269.08,376.78 269.35,377.17 269.62,377.58 269.89,378.01 270.16,378.46 270.43,378.92 270.71,379.41 270.98,379.91 271.25,380.43 271.52,380.97 271.79,381.52 272.06,382.09 272.33,382.68 272.60,383.28 272.87,383.90 273.14,384.53 273.41,385.17 273.68,385.83 273.95,386.50 274.22,387.19 274.49,387.89 274.76,388.60 275.03,389.32 275.30,390.05 275.58,390.80 275.85,391.55 276.12,392.31 276.39,393.08 276.66,393.86 276.93,394.65 277.20,395.45 277.47,396.25 277.74,397.06 278.01,397.87 278.28,398.69 278.55,399.51 278.82,400.34 279.09,401.17 279.36,402.00 279.63,402.84 279.90,403.68 280.17,404.52 280.44,405.36 280.72,406.20 280.99,407.04 281.26,407.87 281.53,408.71 281.80,409.54 282.07,410.37 282.34,411.20 282.61,412.03 282.88,412.84 283.15,413.66 283.42,414.47 283.69,415.27 283.96,416.06 284.23,416.85 284.50,417.63 284.77,418.40 285.04,419.16 285.31,419.92 285.59,420.66 285.86,421.39 286.13,422.11 286.40,422.83 286.67,423.52 286.94,424.21 287.21,424.88 287.48,425.54 287.75,426.19 288.02,426.82 288.29,427.43 288.56,428.04 288.83,428.62 289.10,429.19 289.37,429.75 289.64,430.28 289.91,430.80 290.19,431.30 290.46,431.79 290.73,432.26 291.00,432.70 291.27,433.13 291.54,433.54 291.81,433.93 292.08,434.31 292.35,434.66 292.62,434.99 292.89,435.30 293.16,435.59 293.43,435.86 293.70,436.11 293.97,436.34 294.24,436.54 294.51,436.73 294.78,436.89 295.06,437.04 295.33,437.16 295.60,437.25 295.87,437.33 296.14,437.39 296.41,437.42 296.68,437.43 296.95,437.42 297.22,437.39 297.49,437.33 297.76,437.25 298.03,437.16 298.30,437.04 298.57,436.89 298.84,436.73 299.11,436.54 299.38,436.34 299.65,436.11 299.93,435.86 300.20,435.59 300.47,435.30 300.74,434.99 301.01,434.66 301.28,434.31 301.55,433.93 301.82,433.54 302.09,433.13 302.36,432.70 302.63,432.26 302.90,431.79 303.17,431.30 303.44,430.80 303.71,430.28 303.98,429.75 304.25,429.19 304.52,428.62 304.80,428.04 305.07,427.43 305.34,426.82 305.61,426.19 305.88,425.54 306.15,424.88 306.42,424.21 306.69,423.52 306.96,422.83 307.23,422.11 307.50,421.39 307.77,420.66 308.04,419.92 308.31,419.16 308.58,418.40 308.85,417.63 309.12,416.85 309.39,416.06 309.67,415.27 309.94,414.47 310.21,413.66 310.48,412.84 310.75,412.03 311.02,411.20 311.29,410.37 311.56,409.54 311.83,408.71 312.10,407.87 312.37,407.04 312.64,406.20 312.91,405.36 313.18,404.52 313.45,403.68 313.72,402.84 313.99,402.00 314.26,401.17 314.54,400.34 314.81,399.51 315.08,398.69 315.35,397.87 315.62,397.06 315.89,396.25 316.16,395.45 316.43,394.65 316.70,393.86 316.97,393.08 317.24,392.31 317.51,391.55 317.78,390.80 318.05,390.05 318.32,389.32 318.59,388.60 318.86,387.89 319.13,387.19 319.41,386.50 319.68,385.83 319.95,385.17 320.22,384.53 320.49,383.90 320.76,383.28 321.03,382.68 321.30,382.09 321.57,381.52 321.84,380.97 322.11,380.43 322.38,379.91 322.65,379.41 322.92,378.92 323.19,378.46 323.46,378.01 323.73,377.58 324.00,377.17 324.28,376.78 324.55,376.41 324.82,376.06 325.09,375.72 325.36,375.41 325.63,375.12 325.90,374.85 326.17,374.60 326.44,374.38 326.71,374.17 326.98,373.98 327.25,373.82 327.52,373.68 327.79,373.56 328.06,373.46 328.33,373.38 328.60,373.33 328.87,373.29 329.15,373.28 329.42,373.29 329.69,373.33 329.96,373.38 330.23,373.46 330.50,373.56 330.77,373.68 331.04,373.82 331.31,373.98 331.58,374.17 331.85,374.38 332.12,374.60 332.39,374.85 332.66,375.12 332.93,375.41 333.20,375.72 333.47,376.06 333.74,376.41 334.02,376.78 334.29,377.17 334.56,377.58 334.83,378.01 335.10,378.46 335.37,378.92 335.64,379.41 335.91,379.91 336.18,380.43 336.45,380.97 336.72,381.52 336.99,382.09 337.26,382.68 337.53,383.28 337.80,383.90 338.07,384.53 338.34,385.17 338.61,385.83 338.89,386.50 339.16,387.19 339.43,387.89 339.70,388.60 339.97,389.32 340.24,390.05 340.51,390.80 340.78,391.55 341.05,392.31 341.32,393.08 341.59,393.86 341.86,394.65 342.13,395.45 342.40,396.25 342.67,397.06 342.94,397.87 343.21,398.69 343.48,399.51 343.76,400.34 344.03,401.17 344.30,402.00 344.57,402.84 344.84,403.68 345.11,404.52 345.38,405.36 345.65,406.20 345.92,407.04 346.19,407.87 346.46,408.71 346.73,409.54 347.00,410.37 347.27,411.20 347.54,412.03 347.81,412.84 348.08,413.66 348.35,414.47 348.62,415.27 348.90,416.06 349.17,416.85 349.44,417.63 349.71,418.40 349.98,419.16 350.25,419.92 350.52,420.66 350.79,421.39 351.06,422.11 351.33,422.83 351.60,423.52 351.87,424.21 352.14,424.88 352.41,425.54 352.68,426.19 352.95,426.82 353.22,427.43 353.50,428.04 353.77,428.62 354.04,429.19 354.31,429.75 354.58,430.28 354.85,430.80 355.12,431.30 355.39,431.79 355.66,432.26 355.93,432.70 356.20,433.13 356.47,433.54 356.74,433.93 357.01,434.31 357.28,434.66 357.55,434.99 357.82,435.30 358.09,435.59 358.37,435.86 358.64,436.11 358.91,436.34 359.18,436.54 359.45,436.73 359.72,436.89 359.99,437.04 360.26,437.16 360.53,437.25 360.80,437.33 361.07,437.39 361.34,437.42 361.61,437.43 361.88,437.42 362.15,437.39 362.42,437.33 362.69,437.25 362.96,437.16 363.24,437.04 363.51,436.89 363.78,436.73 364.05,436.54 364.32,436.34 364.59,436.11 364.86,435.86 365.13,435.59 365.40,435.30 365.67,434.99 365.94,434.66 366.21,434.31 366.48,433.93 366.75,433.54 367.02,433.13 367.29,432.70 367.56,432.26 367.83,431.79 368.11,431.30 368.38,430.80 368.65,430.28 368.92,429.75 369.19,429.19 369.46,428.62 369.73,428.04 370.00,427.43 370.27,426.82 370.54,426.19 370.81,425.54 371.08,424.88 371.35,424.21 371.62,423.52 371.89,422.83 372.16,422.11 372.43,421.39 372.70,420.66 372.98,419.92 373.25,419.16 373.52,418.40 373.79,417.63 374.06,416.85 374.33,416.06 374.60,415.27 374.87,414.47 375.14,413.66 375.41,412.84 375.68,412.03 375.95,411.20 376.22,410.37 376.49,409.54 376.76,408.71 377.03,407.87 377.30,407.04 377.57,406.20 377.85,405.36 378.12,404.52 378.39,403.68 378.66,402.84 378.93,402.00 379.20,401.17 379.47,400.34 379.74,399.51 380.01,398.69 380.28,397.87 380.55,397.06 380.82,396.25 381.09,395.45 381.36,394.65 381.63,393.86 381.90,393.08 382.17,392.31 382.44,391.55 382.72,390.80 382.99,390.05 383.26,389.32 383.53,388.60 383.80,387.89 384.07,387.19 384.34,386.50 384.61,385.83 384.88,385.17 385.15,384.53 385.42,383.90 385.69,383.28 385.96,382.68 386.23,382.09 386.50,381.52 386.77,380.97 387.04,380.43 387.31,379.91 387.59,379.41 387.86,378.92 388.13,378.46 388.40,378.01 388.67,377.58 388.94,377.17 389.21,376.78 389.48,376.41 389.75,376.06 390.02,375.72 390.29,375.41 390.56,375.12 390.83,374.85 391.10,374.60 391.37,374.38 391.64,374.17 391.91,373.98 392.18,373.82 392.46,373.68 392.73,373.56 393.00,373.46 393.27,373.38 393.54,373.33 393.81,373.29 394.08,373.28 394.35,373.29 394.62,373.33 394.89,373.38 395.16,373.46 395.43,373.56 395.70,373.68 395.97,373.82 396.24,373.98 396.51,374.17 396.78,374.38 397.05,374.60 397.33,374.85 397.60,375.12 397.87,375.41 398.14,375.72 398.41,376.06 398.68,376.41 398.95,376.78 399.22,377.17 399.49,377.58 399.76,378.01 400.03,378.46 400.30,378.92 400.57,379.41 400.84,379.91 401.11,380.43 401.38,380.97 401.65,381.52 401.92,382.09 402.20,382.68 402.47,383.28 402.74,383.90 403.01,384.53 403.28,385.17 403.55,385.83 403.82,386.50 404.09,387.19 404.36,387.89 404.63,388.60 404.90,389.32 405.17,390.05 405.44,390.80 405.71,391.55 405.98,392.31 406.25,393.08 406.52,393.86 406.79,394.65 407.07,395.45 407.34,396.25 407.61,397.06 407.88,397.87 408.15,398.69 408.42,399.51 408.69,400.34 408.96,401.17 409.23,402.00 409.50,402.84 409.77,403.68 410.04,404.52 410.31,405.36 410.58,406.20 410.85,407.04 411.12,407.87 411.39,408.71 411.66,409.54 411.94,410.37 412.21,411.20 412.48,412.03 412.75,412.84 413.02,413.66 413.29,414.47 413.56,415.27 413.83,416.06 414.10,416.85 414.37,417.63 414.64,418.40 414.91,419.16 415.18,419.92 415.45,420.66 415.72,421.39 415.99,422.11 416.26,422.83 416.53,423.52 416.81,424.21 417.08,424.88 417.35,425.54 417.62,426.19 417.89,426.82 418.16,427.43 418.43,428.04 418.70,428.62 418.97,429.19 419.24,429.75 419.51,430.28 419.78,430.80 420.05,431.30 420.32,431.79 420.59,432.26 420.86,432.70 421.13,433.13 421.40,433.54 421.68,433.93 421.95,434.31 422.22,434.66 422.49,434.99 422.76,435.30 423.03,435.59 423.30,435.86 423.57,436.11 423.84,436.34 424.11,436.54 424.38,436.73 424.65,436.89 424.92,437.04 425.19,437.16 425.46,437.25 425.73,437.33 426.00,437.39 426.27,437.42 426.55,437.43" fill="none" stroke="#ff0000" stroke-width="1.6" stroke-linejoin="round" />
<polyline points="254.74,417.89 255.01,418.27 255.28,418.64 255.55,419.00 255.82,419.36 256.10,419.70 256.37,420.04 256.64,420.36 256.91,420.68 257.18,420.98 257.45,421.28 257.72,421.57 257.99,421.84 258.26,422.10 258.53,422.36 258.80,422.60 259.07,422.83 259.34,423.05 259.61,423.25 259.88,423.45 260.15,423.63 260.42,423.80 260.69,423.96 260.97,424.11 261.24,424.24 261.51,424.36 261.78,424.47 262.05,424.57 262.32,424.65 262.59,424.72 262.86,424.78 263.13,424.83 263.40,424.86 263.67,424.88 263.94,424.88 264.21,424.88 264.48,424.86 264.75,424.83 265.02,424.78 265.29,424.72 265.56,424.65 265.84,424.57 266.11,424.47 266.38,424.36 266.65,424.24 266.92,424.11 267.19,423.96 267.46,423.80 267.73,423.63 268.00,423.45 268.27,423.25 268.54,423.05 268.81,422.83 269.08,422.60 269.35,422.36 269.62,422.10 269.89,421.84 270.16,421.57 270.43,421.28 270.71,420.98 270.98,420.68 271.25,420.36 271.52,420.04 271.79,419.70 272.06,419.36 272.33,419.00 272.60,418.64 272.87,418.27 273.14,417.89 273.41,417.50 273.68,417.11 273.95,416.70 274.22,416.29 274.49,415.87 274.76,415.45 275.03,415.02 275.30,414.58 275.58,414.14 275.85,413.69 276.12,413.24 276.39,412.78 276.66,412.31 276.93,411.85 277.20,411.38 277.47,410.90 277.74,410.42 278.01,409.94 278.28,409.46 278.55,408.97 278.82,408.48 279.09,407.99 279.36,407.50 279.63,407.00 279.90,406.51 280.17,406.02 280.44,405.52 280.72,405.03 280.99,404.54 281.26,404.04 281.53,403.55 281.80,403.07 282.07,402.58 282.34,402.09 282.61,401.61 282.88,401.13 283.15,400.66 283.42,400.19 283.69,399.72 283.96,399.26 284.23,398.80 284.50,398.34 284.77,397.89 285.04,397.45 285.31,397.01 285.59,396.58 285.86,396.16 286.13,395.74 286.40,395.33 286.67,394.93 286.94,394.53 287.21,394.14 287.48,393.76 287.75,393.39 288.02,393.03 288.29,392.68 288.56,392.33 288.83,392.00 289.10,391.67 289.37,391.35 289.64,391.05 289.91,390.75 290.19,390.47 290.46,390.19 290.73,389.93 291.00,389.68 291.27,389.44 291.54,389.21 291.81,388.99 292.08,388.78 292.35,388.59 292.62,388.40 292.89,388.23 293.16,388.07 293.43,387.93 293.70,387.79 293.97,387.67 294.24,387.56 294.51,387.47 294.78,387.38 295.06,387.31 295.33,387.25 295.60,387.21 295.87,387.18 296.14,387.16 296.41,387.15 296.68,387.16 296.95,387.18 297.22,387.21 297.49,387.25 297.76,387.31 298.03,387.38 298.30,387.47 298.57,387.56 298.84,387.67 299.11,387.79 299.38,387.93 299.65,388.07 299.93,388.23 300.20,388.40 300.47,388.59 300.74,388.78 301.01,388.99 301.28,389.21 301.55,389.44 301.82,389.68 302.09,389.93 302.36,390.19 302.63,390.47 302.90,390.75 303.17,391.05 303.44,391.35 303.71,391.67 303.98,392.00 304.25,392.33 304.52,392.68 304.80,393.03 305.07,393.39 305.34,393.76 305.61,394.14 305.88,394.53 306.15,394.93 306.42,395.33 306.69,395.74 306.96,396.16 307.23,396.58 307.50,397.01 307.77,397.45 308.04,397.89 308.31,398.34 308.58,398.80 308.85,399.26 309.12,399.72 309.39,400.19 309.67,400.66 309.94,401.13 310.21,401.61 310.48,402.09 310.75,402.58 311.02,403.07 311.29,403.55 311.56,404.04 311.83,404.54 312.10,405.03 312.37,405.52 312.64,406.02 312.91,406.51 313.18,407.00 313.45,407.50 313.72,407.99 313.99,408.48 314.26,408.97 314.54,409.46 314.81,409.94 315.08,410.42 315.35,410.90 315.62,411.38 315.89,411.85 316.16,412.31 316.43,412.78 316.70,413.24 316.97,413.69 317.24,414.14 317.51,414.58 317.78,415.02 318.05,415.45 318.32,415.87 318.59,416.29 318.86,416.70 319.13,417.11 319.41,417.50 319.68,417.89 319.95,418.27 320.22,418.64 320.49,419.00 320.76,419.36 321.03,419.70 321.30,420.04 321.57,420.36 321.84,420.68 322.11,420.98 322.38,421.28 322.65,421.57 322.92,421.84 323.19,422.10 323.46,422.36 323.73,422.60 324.00,422.83 324.28,423.05 324.55,423.25 324.82,423.45 325.09,423.63 325.36,423.80 325.63,423.96 325.90,424.11 326.17,424.24 326.44,424.36 326.71,424.47 326.98,424.57 327.25,424.65 327.52,424.72 327.79,424.78 328.06,424.83 328.33,424.86 328.60,424.88 328.87,424.88 329.15,424.88 329.42,424.86 329.69,424.83 329.96,424.78 330.23,424.72 330.50,424.65 330.77,424.57 331.04,424.47 331.31,424.36 331.58,424.24 331.85,424.11 332.12,423.96 332.39,423.80 332.66,423.63 332.93,423.45 333.20,423.25 333.47,423.05 333.74,422.83 334.02,422.60 334.29,422.36 334.56,422.10 334.83,421.84 335.10,421.57 335.37,421.28 335.64,420.98 335.91,420.68 336.18,420.36 336.45,420.04 336.72,419.70 336.99,419.36 337.26,419.00 337.53,418.64 337.80,418.27 338.07,417.89 338.34,417.50 338.61,417.11 338.89,416.70 339.16,416.29 339.43,415.87 339.70,415.45 339.97,415.02 340.24,414.58 340.51,414.14 340.78,413.69 341.05,413.24 341.32,412.78 341.59,412.31 341.86,411.85 342.13,411.38 342.40,410.90 342.67,410.42 342.94,409.94 343.21,409.46 343.48,408.97 343.76,408.48 344.03,407.99 344.30,407.50 344.57,407.00 344.84,406.51 345.11,406.02 345.38,405.52 345.65,405.03 345.92,404.54 346.19,404.04 346.46,403.55 346.73,403.07 347.00,402.58 347.27,402.09 347.54,401.61 347.81,401.13 348.08,400.66 348.35,400.19 348.62,399.72 348.90,399.26 349.17,398.80 349.44,398.34 349.71,397.89 349.98,397.45 350.25,397.01 350.52,396.58 350.79,396.16 351.06,395.74 351.33,395.33 351.60,394.93 351.87,394.53 352.14,394.14 352.41,393.76 352.68,393.39 352.95,393.03 353.22,392.68 353.50,392.33 353.77,392.00 354.04,391.67 354.31,391.35 354.58,391.05 354.85,390.75 355.12,390.47 355.39,390.19 355.66,389.93 355.93,389.68 356.20,389.44 356.47,389.21 356.74,388.99 357.01,388.78 357.28,388.59 357.55,388.40 357.82,388.23 358.09,388.07 358.37,387.93 358.64,387.79 358.91,387.67 359.18,387.56 359.45,387.47 359.72,387.38 359.99,387.31 360.26,387.25 360.53,387.21 360.80,387.18 361.07,387.16 361.34,387.15 361.61,387.16 361.88,387.18 362.15,387.21 362.42,387.25 362.69,387.31 362.96,387.38 363.24,387.47 363.51,387.56 363.78,387.67 364.05,387.79 364.32,387.93 364.59,388.07 364.86,388.23 365.13,388.40 365.40,388.59 365.67,388.78 365.94,388.99 366.21,389.21 366.48,389.44 366.75,389.68 367.02,389.93 367.29,390.19 367.56,390.47 367.83,390.75 368.11,391.05 368.38,391.35 368.65,391.67 368.92,392.00 369.19,392.33 369.46,392.68 369.73,393.03 370.00,393.39 370.27,393.76 370.54,394.14 370.81,394.53 371.08,394.93 371.35,395.33 371.62,395.74 371.89,396.16 372.16,396.58 372.43,397.01 372.70,397.45 372.98,397.89 373.25,398.34 373.52,398.80 373.79,399.26 374.06,399.72 374.33,400.19 374.60,400.66 374.87,401.13 375.14,401.61 375.41,402.09 375.68,402.58 375.95,403.07 376.22,403.55 376.49,404.04 376.76,404.54 377.03,405.03 377.30,405.52 377.57,406.02 377.85,406.51 378.12,407.00 378.39,407.50 378.66,407.99 378.93,408.48 379.20,408.97 379.47,409.46 379.74,409.94 380.01,410.42 380.28,410.90 380.55,411.38 380.82,411.85 381.09,412.31 381.36,412.78 381.63,413.24 381.90,413.69 382.17,414.14 382.44,414.58 382.72,415.02 382.99,415.45 383.26,415.87 383.53,416.29 383.80,416.70 384.07,417.11 384.34,417.50 384.61,417.89 384.88,418.27 385.15,418.64 385.42,419.00 385.69,419.36 385.96,419.70 386.23,420.04 386.50,420.36 386.77,420.68 387.04,420.98 387.31,421.28 387.59,421.57 387.86,421.84 388.13,422.10 388.40,422.36 388.67,422.60 388.94,422.83 389.21,423.05 389.48,423.25 389.75,423.45 390.02,423.63 390.29,423.80 390.56,423.96 390.83,424.11 391.10,424.24 391.37,424.36 391.64,424.47 391.91,424.57 392.18,424.65 392.46,424.72 392.73,424.78 393.00,424.83 393.27,424.86 393.54,424.88 393.81,424.88 394.08,424.88 394.35,424.86 394.62,424.83 394.89,424.78 395.16,424.72 395.43,424.65 395.70,424.57 395.97,424.47 396.24,424.36 396.51,424.24 396.78,424.11 397.05,423.96 397.33,423.80 397.60,423.63 397.87,423.45 398.14,423.25 398.41,423.05 398.68,422.83 398.95,422.60 399.22,422.36 399.49,422.10 399.76,421.84 400.03,421.57 400.30,421.28 400.57,420.98 400.84,420.68 401.11,420.36 401.38,420.04 401.65,419.70 401.92,419.36 402.20,419.00 402.47,418.64 402.74,418.27 403.01,417.89 403.28,417.50 403.55,417.11 403.82,416.70 404.09,416.29 404.36,415.87 404.63,415.45 404.90,415.02 405.17,414.58 405.44,414.14 405.71,413.69 405.98,413.24 406.25,412.78 406.52,412.31 406.79,411.85 407.07,411.38 407.34,410.90 407.61,410.42 407.88,409.94 408.15,409.46 408.42,408.97 408.69,408.48 408.96,407.99 409.23,407.50 409.50,407.00 409.77,406.51 410.04,406.02 410.31,405.52 410.58,405.03 410.85,404.54 411.12,404.04 411.39,403.55 411.66,403.07 411.94,402.58 412.21,402.09 412.48,401.61 412.75,401.13 413.02,400.66 413.29,400.19 413.56,399.72 413.83,399.26 414.10,398.80 414.37,398.34 414.64,397.89 414.91,397.45 415.18,397.01 415.45,396.58 415.72,396.16 415.99,395.74 416.26,395.33 416.53,394.93 416.81,394.53 417.08,394.14 417.35,393.76 417.62,393.39 417.89,393.03 418.16,392.68 418.43,392.33 418.70,392.00 418.97,391.67 419.24,391.35 419.51,391.05 419.78,390.75 420.05,390.47 420.32,390.19 420.59,389.93 420.86,389.68 421.13,389.44 421.40,389.21 421.68,388.99 421.95,388.78 422.22,388.59 422.49,388.40 422.76,388.23 423.03,388.07 423.30,387.93 423.57,387.79 423.84,387.67 424.11,387.56 424.38,387.47 424.65,387.38 424.92,387.31 425.19,387.25 425.46,387.21 425.73,387.18 426.00,387.16 426.27,387.15 426.55,387.16" fill="none" stroke="#0000ff" stroke-width="1.6" stroke-linejoin="round" />
<rect x="321.2" y="447.6" width="88.2" height="25.5" rx="1.5" fill="#fff" fill-opacity="0.8" stroke="#e8e8e8" stroke-width="0.8"/>
<line x1="324.00" y1="454.50" x2="338.70" y2="454.50" stroke="#ff0000" stroke-width="1.6" />
<line x1="324.00" y1="464.50" x2="338.70" y2="464.50" stroke="#0000ff" stroke-width="1.6" />
<text x="345.70" y="457.60" font-size="8.6" text-anchor="start" font-family="Liberation Sans, sans-serif" fill="#000" textLength="13.3" lengthAdjust="spacingAndGlyphs" >Oct.</text>
<text x="345.70" y="467.60" font-size="8.6" text-anchor="start" font-family="Liberation Sans, sans-serif" fill="#000" textLength="13.6" lengthAdjust="spacingAndGlyphs" >SSC</text>
<line x1="379.50" y1="450.80" x2="379.50" y2="458.00" stroke="#ff0000" stroke-width="0.9" />
<line x1="376.20" y1="450.80" x2="382.80" y2="450.80" stroke="#ff0000" stroke-width="0.9" />
<line x1="376.20" y1="458.00" x2="382.80" y2="458.00" stroke="#ff0000" stroke-width="0.9" />
<circle cx="379.50" cy="454.40" r="2.1" fill="#ff0000"/>
<line x1="379.50" y1="463.90" x2="379.50" y2="471.10" stroke="#0000ff" stroke-width="0.9" />
<line x1="376.20" y1="463.90" x2="382.80" y2="463.90" stroke="#0000ff" stroke-width="0.9" />
<line x1="376.20" y1="471.10" x2="382.80" y2="471.10" stroke="#0000ff" stroke-width="0.9" />
<circle cx="379.50" cy="467.50" r="2.1" fill="#0000ff"/>
<text x="392.00" y="457.60" font-size="8.8" font-family="Liberation Sans, sans-serif" font-style="italic">R</text>
<text x="398.00" y="454.00" font-size="4.9" font-family="Liberation Sans, sans-serif" font-style="normal">Oct</text>
<text x="397.60" y="460.20" font-size="5.3" font-family="Liberation Sans, sans-serif" font-style="italic">xy</text>
<text x="392.00" y="470.40" font-size="8.8" font-family="Liberation Sans, sans-serif" font-style="italic">R</text>
<text x="398.00" y="466.80" font-size="4.9" font-family="Liberation Sans, sans-serif" font-style="normal">SSC</text>
<text x="397.60" y="473.00" font-size="5.3" font-family="Liberation Sans, sans-serif" font-style="italic">xy</text>
<rect x="246.30" y="349.80" width="188.80" height="122.70" fill="none" stroke="#666" stroke-width="0.95"/>
<line x1="263.40" y1="472.50" x2="263.40" y2="474.40" stroke="#333" stroke-width="0.8" />
<text x="263.40" y="482.80" font-size="10.4" text-anchor="middle" font-family="Liberation Sans, sans-serif" fill="#000" textLength="18.90" lengthAdjust="spacingAndGlyphs" >−90</text>
<line x1="312.10" y1="472.50" x2="312.10" y2="474.40" stroke="#333" stroke-width="0.8" />
<text x="312.10" y="482.80" font-size="10.4" text-anchor="middle" font-family="Liberation Sans, sans-serif" fill="#000" textLength="5.70" lengthAdjust="spacingAndGlyphs" >0</text>
<line x1="360.80" y1="472.50" x2="360.80" y2="474.40" stroke="#333" stroke-width="0.8" />
<text x="360.80" y="482.80" font-size="10.4" text-anchor="middle" font-family="Liberation Sans, sans-serif" fill="#000" textLength="11.40" lengthAdjust="spacingAndGlyphs" >90</text>
<line x1="409.50" y1="472.50" x2="409.50" y2="474.40" stroke="#333" stroke-width="0.8" />
<text x="409.50" y="482.80" font-size="10.4" text-anchor="middle" font-family="Liberation Sans, sans-serif" fill="#000" textLength="17.10" lengthAdjust="spacingAndGlyphs" >180</text>
<line x1="244.10" y1="349.70" x2="246.30" y2="349.70" stroke="#333" stroke-width="0.8" />
<text x="242.30" y="353.20" font-size="10.2" text-anchor="end" font-family="Liberation Sans, sans-serif" fill="#000" textLength="11.20" lengthAdjust="spacingAndGlyphs" >30</text>
<line x1="244.10" y1="378.00" x2="246.30" y2="378.00" stroke="#333" stroke-width="0.8" />
<text x="242.30" y="381.50" font-size="10.2" text-anchor="end" font-family="Liberation Sans, sans-serif" fill="#000" textLength="11.20" lengthAdjust="spacingAndGlyphs" >15</text>
<line x1="244.10" y1="406.30" x2="246.30" y2="406.30" stroke="#333" stroke-width="0.8" />
<text x="242.30" y="409.80" font-size="10.2" text-anchor="end" font-family="Liberation Sans, sans-serif" fill="#000" textLength="5.60" lengthAdjust="spacingAndGlyphs" >0</text>
<line x1="244.10" y1="434.60" x2="246.30" y2="434.60" stroke="#333" stroke-width="0.8" />
<text x="242.30" y="438.10" font-size="10.2" text-anchor="end" font-family="Liberation Sans, sans-serif" fill="#000" textLength="18.60" lengthAdjust="spacingAndGlyphs" >−15</text>
<line x1="244.10" y1="462.90" x2="246.30" y2="462.90" stroke="#333" stroke-width="0.8" />
<text x="242.30" y="466.40" font-size="10.2" text-anchor="end" font-family="Liberation Sans, sans-serif" fill="#000" textLength="18.60" lengthAdjust="spacingAndGlyphs" >−30</text>
<text x="325.6" y="494.6" font-size="12.5" font-family="Liberation Sans, sans-serif" font-style="italic">ϕ</text>
<text x="341.6" y="494.6" font-size="12.5" font-family="Liberation Sans, sans-serif" textLength="13.4" lengthAdjust="spacingAndGlyphs">(°)</text>
<text transform="translate(216.8,414.8) rotate(-90)" font-size="11.0" text-anchor="middle" font-family="Liberation Sans, sans-serif" textLength="46.4" lengthAdjust="spacingAndGlyphs"><tspan font-style="italic">R</tspan><tspan font-style="italic" font-size="7.9" dy="2.4">xy</tspan><tspan dy="-2.4">(</tspan><tspan font-style="italic">m</tspan>Ω)</text>
<text x="204.50" y="340.30" font-size="17.3" text-anchor="start" font-family="Liberation Sans, sans-serif" fill="#000" >(h)</text>
<line x1="497.30" y1="409.40" x2="676.20" y2="409.40" stroke="#555" stroke-width="0.7" />
<line x1="586.40" y1="350.00" x2="586.40" y2="468.70" stroke="#555" stroke-width="0.7" />
<polyline points="496.60,409.40 496.85,407.96 497.10,406.52 497.35,405.09 497.60,403.66 497.85,402.23 498.10,400.80 498.35,399.39 498.60,397.98 498.84,396.57 499.09,395.18 499.34,393.79 499.59,392.42 499.84,391.06 500.09,389.71 500.34,388.37 500.59,387.05 500.84,385.75 501.09,384.46 501.34,383.18 501.59,381.93 501.84,380.69 502.09,379.47 502.34,378.28 502.59,377.10 502.84,375.95 503.09,374.82 503.33,373.72 503.58,372.63 503.83,371.58 504.08,370.55 504.33,369.54 504.58,368.57 504.83,367.62 505.08,366.70 505.33,365.81 505.58,364.95 505.83,364.12 506.08,363.32 506.33,362.55 506.58,361.82 506.83,361.11 507.08,360.44 507.33,359.81 507.58,359.21 507.82,358.64 508.07,358.10 508.32,357.61 508.57,357.14 508.82,356.72 509.07,356.33 509.32,355.97 509.57,355.66 509.82,355.38 510.07,355.13 510.32,354.93 510.57,354.76 510.82,354.62 511.07,354.53 511.32,354.47 511.57,354.45 511.82,354.47 512.07,354.53 512.31,354.62 512.56,354.76 512.81,354.93 513.06,355.13 513.31,355.38 513.56,355.66 513.81,355.97 514.06,356.33 514.31,356.72 514.56,357.14 514.81,357.61 515.06,358.10 515.31,358.64 515.56,359.21 515.81,359.81 516.06,360.44 516.31,361.11 516.56,361.82 516.80,362.55 517.05,363.32 517.30,364.12 517.55,364.95 517.80,365.81 518.05,366.70 518.30,367.62 518.55,368.57 518.80,369.54 519.05,370.55 519.30,371.58 519.55,372.63 519.80,373.72 520.05,374.82 520.30,375.95 520.55,377.10 520.80,378.28 521.05,379.47 521.29,380.69 521.54,381.93 521.79,383.18 522.04,384.46 522.29,385.75 522.54,387.05 522.79,388.37 523.04,389.71 523.29,391.06 523.54,392.42 523.79,393.79 524.04,395.18 524.29,396.57 524.54,397.98 524.79,399.39 525.04,400.80 525.29,402.23 525.54,403.66 525.78,405.09 526.03,406.52 526.28,407.96 526.53,409.40 526.78,410.84 527.03,412.28 527.28,413.71 527.53,415.14 527.78,416.57 528.03,418.00 528.28,419.41 528.53,420.82 528.78,422.23 529.03,423.62 529.28,425.01 529.53,426.38 529.78,427.74 530.03,429.09 530.27,430.43 530.52,431.75 530.77,433.05 531.02,434.34 531.27,435.62 531.52,436.87 531.77,438.11 532.02,439.33 532.27,440.52 532.52,441.70 532.77,442.85 533.02,443.98 533.27,445.08 533.52,446.17 533.77,447.22 534.02,448.25 534.27,449.26 534.52,450.23 534.76,451.18 535.01,452.10 535.26,452.99 535.51,453.85 535.76,454.68 536.01,455.48 536.26,456.25 536.51,456.98 536.76,457.69 537.01,458.36 537.26,458.99 537.51,459.59 537.76,460.16 538.01,460.70 538.26,461.19 538.51,461.66 538.76,462.08 539.01,462.47 539.25,462.83 539.50,463.14 539.75,463.42 540.00,463.67 540.25,463.87 540.50,464.04 540.75,464.18 541.00,464.27 541.25,464.33 541.50,464.34 541.75,464.33 542.00,464.27 542.25,464.18 542.50,464.04 542.75,463.87 543.00,463.67 543.25,463.42 543.50,463.14 543.75,462.83 543.99,462.47 544.24,462.08 544.49,461.66 544.74,461.19 544.99,460.70 545.24,460.16 545.49,459.59 545.74,458.99 545.99,458.36 546.24,457.69 546.49,456.98 546.74,456.25 546.99,455.48 547.24,454.68 547.49,453.85 547.74,452.99 547.99,452.10 548.24,451.18 548.48,450.23 548.73,449.26 548.98,448.25 549.23,447.22 549.48,446.17 549.73,445.08 549.98,443.98 550.23,442.85 550.48,441.70 550.73,440.52 550.98,439.33 551.23,438.11 551.48,436.87 551.73,435.62 551.98,434.34 552.23,433.05 552.48,431.75 552.73,430.43 552.97,429.09 553.22,427.74 553.47,426.38 553.72,425.01 553.97,423.62 554.22,422.23 554.47,420.82 554.72,419.41 554.97,418.00 555.22,416.57 555.47,415.14 555.72,413.71 555.97,412.28 556.22,410.84 556.47,409.40 556.72,407.96 556.97,406.52 557.21,405.09 557.46,403.66 557.71,402.23 557.96,400.80 558.21,399.39 558.46,397.98 558.71,396.57 558.96,395.18 559.21,393.79 559.46,392.42 559.71,391.06 559.96,389.71 560.21,388.37 560.46,387.05 560.71,385.75 560.96,384.46 561.21,383.18 561.46,381.93 561.70,380.69 561.95,379.47 562.20,378.28 562.45,377.10 562.70,375.95 562.95,374.82 563.20,373.72 563.45,372.63 563.70,371.58 563.95,370.55 564.20,369.54 564.45,368.57 564.70,367.62 564.95,366.70 565.20,365.81 565.45,364.95 565.70,364.12 565.95,363.32 566.19,362.55 566.44,361.82 566.69,361.11 566.94,360.44 567.19,359.81 567.44,359.21 567.69,358.64 567.94,358.10 568.19,357.61 568.44,357.14 568.69,356.72 568.94,356.33 569.19,355.97 569.44,355.66 569.69,355.38 569.94,355.13 570.19,354.93 570.44,354.76 570.68,354.62 570.93,354.53 571.18,354.47 571.43,354.45 571.68,354.47 571.93,354.53 572.18,354.62 572.43,354.76 572.68,354.93 572.93,355.13 573.18,355.38 573.43,355.66 573.68,355.97 573.93,356.33 574.18,356.72 574.43,357.14 574.68,357.61 574.93,358.10 575.17,358.64 575.42,359.21 575.67,359.81 575.92,360.44 576.17,361.11 576.42,361.82 576.67,362.55 576.92,363.32 577.17,364.12 577.42,364.95 577.67,365.81 577.92,366.70 578.17,367.62 578.42,368.57 578.67,369.54 578.92,370.55 579.17,371.58 579.42,372.63 579.66,373.72 579.91,374.82 580.16,375.95 580.41,377.10 580.66,378.28 580.91,379.47 581.16,380.69 581.41,381.93 581.66,383.18 581.91,384.46 582.16,385.75 582.41,387.05 582.66,388.37 582.91,389.71 583.16,391.06 583.41,392.42 583.66,393.79 583.91,395.18 584.15,396.57 584.40,397.98 584.65,399.39 584.90,400.80 585.15,402.23 585.40,403.66 585.65,405.09 585.90,406.52 586.15,407.96 586.40,409.40 586.65,410.84 586.90,412.28 587.15,413.71 587.40,415.14 587.65,416.57 587.90,418.00 588.15,419.41 588.40,420.82 588.64,422.23 588.89,423.62 589.14,425.01 589.39,426.38 589.64,427.74 589.89,429.09 590.14,430.43 590.39,431.75 590.64,433.05 590.89,434.34 591.14,435.62 591.39,436.87 591.64,438.11 591.89,439.33 592.14,440.52 592.39,441.70 592.64,442.85 592.89,443.98 593.13,445.08 593.38,446.17 593.63,447.22 593.88,448.25 594.13,449.26 594.38,450.23 594.63,451.18 594.88,452.10 595.13,452.99 595.38,453.85 595.63,454.68 595.88,455.48 596.13,456.25 596.38,456.98 596.63,457.69 596.88,458.36 597.13,458.99 597.38,459.59 597.62,460.16 597.87,460.70 598.12,461.19 598.37,461.66 598.62,462.08 598.87,462.47 599.12,462.83 599.37,463.14 599.62,463.42 599.87,463.67 600.12,463.87 600.37,464.04 600.62,464.18 600.87,464.27 601.12,464.33 601.37,464.34 601.62,464.33 601.87,464.27 602.12,464.18 602.36,464.04 602.61,463.87 602.86,463.67 603.11,463.42 603.36,463.14 603.61,462.83 603.86,462.47 604.11,462.08 604.36,461.66 604.61,461.19 604.86,460.70 605.11,460.16 605.36,459.59 605.61,458.99 605.86,458.36 606.11,457.69 606.36,456.98 606.61,456.25 606.85,455.48 607.10,454.68 607.35,453.85 607.60,452.99 607.85,452.10 608.10,451.18 608.35,450.23 608.60,449.26 608.85,448.25 609.10,447.22 609.35,446.17 609.60,445.08 609.85,443.98 610.10,442.85 610.35,441.70 610.60,440.52 610.85,439.33 611.10,438.11 611.34,436.87 611.59,435.62 611.84,434.34 612.09,433.05 612.34,431.75 612.59,430.43 612.84,429.09 613.09,427.74 613.34,426.38 613.59,425.01 613.84,423.62 614.09,422.23 614.34,420.82 614.59,419.41 614.84,418.00 615.09,416.57 615.34,415.14 615.59,413.71 615.83,412.28 616.08,410.84 616.33,409.40 616.58,407.96 616.83,406.52 617.08,405.09 617.33,403.66 617.58,402.23 617.83,400.80 618.08,399.39 618.33,397.98 618.58,396.57 618.83,395.18 619.08,393.79 619.33,392.42 619.58,391.06 619.83,389.71 620.07,388.37 620.32,387.05 620.57,385.75 620.82,384.46 621.07,383.18 621.32,381.93 621.57,380.69 621.82,379.47 622.07,378.28 622.32,377.10 622.57,375.95 622.82,374.82 623.07,373.72 623.32,372.63 623.57,371.58 623.82,370.55 624.07,369.54 624.32,368.57 624.56,367.62 624.81,366.70 625.06,365.81 625.31,364.95 625.56,364.12 625.81,363.32 626.06,362.55 626.31,361.82 626.56,361.11 626.81,360.44 627.06,359.81 627.31,359.21 627.56,358.64 627.81,358.10 628.06,357.61 628.31,357.14 628.56,356.72 628.81,356.33 629.05,355.97 629.30,355.66 629.55,355.38 629.80,355.13 630.05,354.93 630.30,354.76 630.55,354.62 630.80,354.53 631.05,354.47 631.30,354.45 631.55,354.47 631.80,354.53 632.05,354.62 632.30,354.76 632.55,354.93 632.80,355.13 633.05,355.38 633.30,355.66 633.54,355.97 633.79,356.33 634.04,356.72 634.29,357.14 634.54,357.61 634.79,358.10 635.04,358.64 635.29,359.21 635.54,359.81 635.79,360.44 636.04,361.11 636.29,361.82 636.54,362.55 636.79,363.32 637.04,364.12 637.29,364.95 637.54,365.81 637.79,366.70 638.03,367.62 638.28,368.57 638.53,369.54 638.78,370.55 639.03,371.58 639.28,372.63 639.53,373.72 639.78,374.82 640.03,375.95 640.28,377.10 640.53,378.28 640.78,379.47 641.03,380.69 641.28,381.93 641.53,383.18 641.78,384.46 642.03,385.75 642.28,387.05 642.52,388.37 642.77,389.71 643.02,391.06 643.27,392.42 643.52,393.79 643.77,395.18 644.02,396.57 644.27,397.98 644.52,399.39 644.77,400.80 645.02,402.23 645.27,403.66 645.52,405.09 645.77,406.52 646.02,407.96 646.27,409.40 646.52,410.84 646.77,412.28 647.01,413.71 647.26,415.14 647.51,416.57 647.76,418.00 648.01,419.41 648.26,420.82 648.51,422.23 648.76,423.62 649.01,425.01 649.26,426.38 649.51,427.74 649.76,429.09 650.01,430.43 650.26,431.75 650.51,433.05 650.76,434.34 651.01,435.62 651.26,436.87 651.50,438.11 651.75,439.33 652.00,440.52 652.25,441.70 652.50,442.85 652.75,443.98 653.00,445.08 653.25,446.17 653.50,447.22 653.75,448.25 654.00,449.26 654.25,450.23 654.50,451.18 654.75,452.10 655.00,452.99 655.25,453.85 655.50,454.68 655.75,455.48 656.00,456.25 656.24,456.98 656.49,457.69 656.74,458.36 656.99,458.99 657.24,459.59 657.49,460.16 657.74,460.70 657.99,461.19 658.24,461.66 658.49,462.08 658.74,462.47 658.99,462.83 659.24,463.14 659.49,463.42 659.74,463.67 659.99,463.87 660.24,464.04 660.49,464.18 660.73,464.27 660.98,464.33 661.23,464.34 661.48,464.33 661.73,464.27 661.98,464.18 662.23,464.04 662.48,463.87 662.73,463.67 662.98,463.42 663.23,463.14 663.48,462.83 663.73,462.47 663.98,462.08 664.23,461.66 664.48,461.19 664.73,460.70 664.98,460.16 665.22,459.59 665.47,458.99 665.72,458.36 665.97,457.69 666.22,456.98 666.47,456.25 666.72,455.48 666.97,454.68 667.22,453.85 667.47,452.99 667.72,452.10 667.97,451.18 668.22,450.23 668.47,449.26 668.72,448.25 668.97,447.22 669.22,446.17 669.46,445.08 669.71,443.98 669.96,442.85 670.21,441.70 670.46,440.52 670.71,439.33 670.96,438.11 671.21,436.87 671.46,435.62 671.71,434.34 671.96,433.05 672.21,431.75 672.46,430.43 672.71,429.09 672.96,427.74 673.21,426.38 673.46,425.01 673.71,423.62 673.95,422.23 674.20,420.82 674.45,419.41 674.70,418.00 674.95,416.57 675.20,415.14 675.45,413.71 675.70,412.28 675.95,410.84 676.20,409.40" fill="none" stroke="#ff0000" stroke-width="1.2" stroke-linejoin="round" />
<polyline points="496.60,409.40 496.85,409.81 497.10,410.22 497.35,410.62 497.60,411.03 497.85,411.44 498.10,411.84 498.35,412.24 498.60,412.64 498.84,413.04 499.09,413.44 499.34,413.83 499.59,414.22 499.84,414.60 500.09,414.99 500.34,415.37 500.59,415.74 500.84,416.11 501.09,416.48 501.34,416.84 501.59,417.20 501.84,417.55 502.09,417.89 502.34,418.23 502.59,418.57 502.84,418.89 503.09,419.21 503.33,419.53 503.58,419.83 503.83,420.13 504.08,420.43 504.33,420.71 504.58,420.99 504.83,421.26 505.08,421.52 505.33,421.77 505.58,422.01 505.83,422.25 506.08,422.48 506.33,422.69 506.58,422.90 506.83,423.10 507.08,423.29 507.33,423.47 507.58,423.64 507.82,423.81 508.07,423.96 508.32,424.10 508.57,424.23 508.82,424.35 509.07,424.46 509.32,424.56 509.57,424.65 509.82,424.73 510.07,424.80 510.32,424.86 510.57,424.91 510.82,424.94 511.07,424.97 511.32,424.99 511.57,424.99 511.82,424.99 512.07,424.97 512.31,424.94 512.56,424.91 512.81,424.86 513.06,424.80 513.31,424.73 513.56,424.65 513.81,424.56 514.06,424.46 514.31,424.35 514.56,424.23 514.81,424.10 515.06,423.96 515.31,423.81 515.56,423.64 515.81,423.47 516.06,423.29 516.31,423.10 516.56,422.90 516.80,422.69 517.05,422.48 517.30,422.25 517.55,422.01 517.80,421.77 518.05,421.52 518.30,421.26 518.55,420.99 518.80,420.71 519.05,420.43 519.30,420.13 519.55,419.83 519.80,419.53 520.05,419.21 520.30,418.89 520.55,418.57 520.80,418.23 521.05,417.89 521.29,417.55 521.54,417.20 521.79,416.84 522.04,416.48 522.29,416.11 522.54,415.74 522.79,415.37 523.04,414.99 523.29,414.60 523.54,414.22 523.79,413.83 524.04,413.44 524.29,413.04 524.54,412.64 524.79,412.24 525.04,411.84 525.29,411.44 525.54,411.03 525.78,410.62 526.03,410.22 526.28,409.81 526.53,409.40 526.78,408.99 527.03,408.58 527.28,408.18 527.53,407.77 527.78,407.36 528.03,406.96 528.28,406.56 528.53,406.16 528.78,405.76 529.03,405.36 529.28,404.97 529.53,404.58 529.78,404.20 530.03,403.81 530.27,403.43 530.52,403.06 530.77,402.69 531.02,402.32 531.27,401.96 531.52,401.60 531.77,401.25 532.02,400.91 532.27,400.57 532.52,400.23 532.77,399.91 533.02,399.59 533.27,399.27 533.52,398.97 533.77,398.67 534.02,398.37 534.27,398.09 534.52,397.81 534.76,397.54 535.01,397.28 535.26,397.03 535.51,396.79 535.76,396.55 536.01,396.32 536.26,396.11 536.51,395.90 536.76,395.70 537.01,395.51 537.26,395.33 537.51,395.16 537.76,394.99 538.01,394.84 538.26,394.70 538.51,394.57 538.76,394.45 539.01,394.34 539.25,394.24 539.50,394.15 539.75,394.07 540.00,394.00 540.25,393.94 540.50,393.89 540.75,393.86 541.00,393.83 541.25,393.81 541.50,393.81 541.75,393.81 542.00,393.83 542.25,393.86 542.50,393.89 542.75,393.94 543.00,394.00 543.25,394.07 543.50,394.15 543.75,394.24 543.99,394.34 544.24,394.45 544.49,394.57 544.74,394.70 544.99,394.84 545.24,394.99 545.49,395.16 545.74,395.33 545.99,395.51 546.24,395.70 546.49,395.90 546.74,396.11 546.99,396.32 547.24,396.55 547.49,396.79 547.74,397.03 547.99,397.28 548.24,397.54 548.48,397.81 548.73,398.09 548.98,398.37 549.23,398.67 549.48,398.97 549.73,399.27 549.98,399.59 550.23,399.91 550.48,400.23 550.73,400.57 550.98,400.91 551.23,401.25 551.48,401.60 551.73,401.96 551.98,402.32 552.23,402.69 552.48,403.06 552.73,403.43 552.97,403.81 553.22,404.20 553.47,404.58 553.72,404.97 553.97,405.36 554.22,405.76 554.47,406.16 554.72,406.56 554.97,406.96 555.22,407.36 555.47,407.77 555.72,408.18 555.97,408.58 556.22,408.99 556.47,409.40 556.72,409.81 556.97,410.22 557.21,410.62 557.46,411.03 557.71,411.44 557.96,411.84 558.21,412.24 558.46,412.64 558.71,413.04 558.96,413.44 559.21,413.83 559.46,414.22 559.71,414.60 559.96,414.99 560.21,415.37 560.46,415.74 560.71,416.11 560.96,416.48 561.21,416.84 561.46,417.20 561.70,417.55 561.95,417.89 562.20,418.23 562.45,418.57 562.70,418.89 562.95,419.21 563.20,419.53 563.45,419.83 563.70,420.13 563.95,420.43 564.20,420.71 564.45,420.99 564.70,421.26 564.95,421.52 565.20,421.77 565.45,422.01 565.70,422.25 565.95,422.48 566.19,422.69 566.44,422.90 566.69,423.10 566.94,423.29 567.19,423.47 567.44,423.64 567.69,423.81 567.94,423.96 568.19,424.10 568.44,424.23 568.69,424.35 568.94,424.46 569.19,424.56 569.44,424.65 569.69,424.73 569.94,424.80 570.19,424.86 570.44,424.91 570.68,424.94 570.93,424.97 571.18,424.99 571.43,424.99 571.68,424.99 571.93,424.97 572.18,424.94 572.43,424.91 572.68,424.86 572.93,424.80 573.18,424.73 573.43,424.65 573.68,424.56 573.93,424.46 574.18,424.35 574.43,424.23 574.68,424.10 574.93,423.96 575.17,423.81 575.42,423.64 575.67,423.47 575.92,423.29 576.17,423.10 576.42,422.90 576.67,422.69 576.92,422.48 577.17,422.25 577.42,422.01 577.67,421.77 577.92,421.52 578.17,421.26 578.42,420.99 578.67,420.71 578.92,420.43 579.17,420.13 579.42,419.83 579.66,419.53 579.91,419.21 580.16,418.89 580.41,418.57 580.66,418.23 580.91,417.89 581.16,417.55 581.41,417.20 581.66,416.84 581.91,416.48 582.16,416.11 582.41,415.74 582.66,415.37 582.91,414.99 583.16,414.60 583.41,414.22 583.66,413.83 583.91,413.44 584.15,413.04 584.40,412.64 584.65,412.24 584.90,411.84 585.15,411.44 585.40,411.03 585.65,410.62 585.90,410.22 586.15,409.81 586.40,409.40 586.65,408.99 586.90,408.58 587.15,408.18 587.40,407.77 587.65,407.36 587.90,406.96 588.15,406.56 588.40,406.16 588.64,405.76 588.89,405.36 589.14,404.97 589.39,404.58 589.64,404.20 589.89,403.81 590.14,403.43 590.39,403.06 590.64,402.69 590.89,402.32 591.14,401.96 591.39,401.60 591.64,401.25 591.89,400.91 592.14,400.57 592.39,400.23 592.64,399.91 592.89,399.59 593.13,399.27 593.38,398.97 593.63,398.67 593.88,398.37 594.13,398.09 594.38,397.81 594.63,397.54 594.88,397.28 595.13,397.03 595.38,396.79 595.63,396.55 595.88,396.32 596.13,396.11 596.38,395.90 596.63,395.70 596.88,395.51 597.13,395.33 597.38,395.16 597.62,394.99 597.87,394.84 598.12,394.70 598.37,394.57 598.62,394.45 598.87,394.34 599.12,394.24 599.37,394.15 599.62,394.07 599.87,394.00 600.12,393.94 600.37,393.89 600.62,393.86 600.87,393.83 601.12,393.81 601.37,393.81 601.62,393.81 601.87,393.83 602.12,393.86 602.36,393.89 602.61,393.94 602.86,394.00 603.11,394.07 603.36,394.15 603.61,394.24 603.86,394.34 604.11,394.45 604.36,394.57 604.61,394.70 604.86,394.84 605.11,394.99 605.36,395.16 605.61,395.33 605.86,395.51 606.11,395.70 606.36,395.90 606.61,396.11 606.85,396.32 607.10,396.55 607.35,396.79 607.60,397.03 607.85,397.28 608.10,397.54 608.35,397.81 608.60,398.09 608.85,398.37 609.10,398.67 609.35,398.97 609.60,399.27 609.85,399.59 610.10,399.91 610.35,400.23 610.60,400.57 610.85,400.91 611.10,401.25 611.34,401.60 611.59,401.96 611.84,402.32 612.09,402.69 612.34,403.06 612.59,403.43 612.84,403.81 613.09,404.20 613.34,404.58 613.59,404.97 613.84,405.36 614.09,405.76 614.34,406.16 614.59,406.56 614.84,406.96 615.09,407.36 615.34,407.77 615.59,408.18 615.83,408.58 616.08,408.99 616.33,409.40 616.58,409.81 616.83,410.22 617.08,410.62 617.33,411.03 617.58,411.44 617.83,411.84 618.08,412.24 618.33,412.64 618.58,413.04 618.83,413.44 619.08,413.83 619.33,414.22 619.58,414.60 619.83,414.99 620.07,415.37 620.32,415.74 620.57,416.11 620.82,416.48 621.07,416.84 621.32,417.20 621.57,417.55 621.82,417.89 622.07,418.23 622.32,418.57 622.57,418.89 622.82,419.21 623.07,419.53 623.32,419.83 623.57,420.13 623.82,420.43 624.07,420.71 624.32,420.99 624.56,421.26 624.81,421.52 625.06,421.77 625.31,422.01 625.56,422.25 625.81,422.48 626.06,422.69 626.31,422.90 626.56,423.10 626.81,423.29 627.06,423.47 627.31,423.64 627.56,423.81 627.81,423.96 628.06,424.10 628.31,424.23 628.56,424.35 628.81,424.46 629.05,424.56 629.30,424.65 629.55,424.73 629.80,424.80 630.05,424.86 630.30,424.91 630.55,424.94 630.80,424.97 631.05,424.99 631.30,424.99 631.55,424.99 631.80,424.97 632.05,424.94 632.30,424.91 632.55,424.86 632.80,424.80 633.05,424.73 633.30,424.65 633.54,424.56 633.79,424.46 634.04,424.35 634.29,424.23 634.54,424.10 634.79,423.96 635.04,423.81 635.29,423.64 635.54,423.47 635.79,423.29 636.04,423.10 636.29,422.90 636.54,422.69 636.79,422.48 637.04,422.25 637.29,422.01 637.54,421.77 637.79,421.52 638.03,421.26 638.28,420.99 638.53,420.71 638.78,420.43 639.03,420.13 639.28,419.83 639.53,419.53 639.78,419.21 640.03,418.89 640.28,418.57 640.53,418.23 640.78,417.89 641.03,417.55 641.28,417.20 641.53,416.84 641.78,416.48 642.03,416.11 642.28,415.74 642.52,415.37 642.77,414.99 643.02,414.60 643.27,414.22 643.52,413.83 643.77,413.44 644.02,413.04 644.27,412.64 644.52,412.24 644.77,411.84 645.02,411.44 645.27,411.03 645.52,410.62 645.77,410.22 646.02,409.81 646.27,409.40 646.52,408.99 646.77,408.58 647.01,408.18 647.26,407.77 647.51,407.36 647.76,406.96 648.01,406.56 648.26,406.16 648.51,405.76 648.76,405.36 649.01,404.97 649.26,404.58 649.51,404.20 649.76,403.81 650.01,403.43 650.26,403.06 650.51,402.69 650.76,402.32 651.01,401.96 651.26,401.60 651.50,401.25 651.75,400.91 652.00,400.57 652.25,400.23 652.50,399.91 652.75,399.59 653.00,399.27 653.25,398.97 653.50,398.67 653.75,398.37 654.00,398.09 654.25,397.81 654.50,397.54 654.75,397.28 655.00,397.03 655.25,396.79 655.50,396.55 655.75,396.32 656.00,396.11 656.24,395.90 656.49,395.70 656.74,395.51 656.99,395.33 657.24,395.16 657.49,394.99 657.74,394.84 657.99,394.70 658.24,394.57 658.49,394.45 658.74,394.34 658.99,394.24 659.24,394.15 659.49,394.07 659.74,394.00 659.99,393.94 660.24,393.89 660.49,393.86 660.73,393.83 660.98,393.81 661.23,393.81 661.48,393.81 661.73,393.83 661.98,393.86 662.23,393.89 662.48,393.94 662.73,394.00 662.98,394.07 663.23,394.15 663.48,394.24 663.73,394.34 663.98,394.45 664.23,394.57 664.48,394.70 664.73,394.84 664.98,394.99 665.22,395.16 665.47,395.33 665.72,395.51 665.97,395.70 666.22,395.90 666.47,396.11 666.72,396.32 666.97,396.55 667.22,396.79 667.47,397.03 667.72,397.28 667.97,397.54 668.22,397.81 668.47,398.09 668.72,398.37 668.97,398.67 669.22,398.97 669.46,399.27 669.71,399.59 669.96,399.91 670.21,400.23 670.46,400.57 670.71,400.91 670.96,401.25 671.21,401.60 671.46,401.96 671.71,402.32 671.96,402.69 672.21,403.06 672.46,403.43 672.71,403.81 672.96,404.20 673.21,404.58 673.46,404.97 673.71,405.36 673.95,405.76 674.20,406.16 674.45,406.56 674.70,406.96 674.95,407.36 675.20,407.77 675.45,408.18 675.70,408.58 675.95,408.99 676.20,409.40" fill="none" stroke="#0000ff" stroke-width="1.2" stroke-linejoin="round" />
<rect x="497.30" y="350.00" width="178.90" height="118.70" fill="none" stroke="#222" stroke-width="0.9"/>
<line x1="511.57" y1="468.70" x2="511.57" y2="466.30" stroke="#222" stroke-width="0.8" />
<line x1="511.57" y1="350.00" x2="511.57" y2="352.40" stroke="#222" stroke-width="0.8" />
<line x1="526.53" y1="468.70" x2="526.53" y2="466.30" stroke="#222" stroke-width="0.8" />
<line x1="526.53" y1="350.00" x2="526.53" y2="352.40" stroke="#222" stroke-width="0.8" />
<line x1="541.50" y1="468.70" x2="541.50" y2="464.50" stroke="#222" stroke-width="0.8" />
<line x1="541.50" y1="350.00" x2="541.50" y2="354.20" stroke="#222" stroke-width="0.8" />
<line x1="556.47" y1="468.70" x2="556.47" y2="466.30" stroke="#222" stroke-width="0.8" />
<line x1="556.47" y1="350.00" x2="556.47" y2="352.40" stroke="#222" stroke-width="0.8" />
<line x1="571.43" y1="468.70" x2="571.43" y2="466.30" stroke="#222" stroke-width="0.8" />
<line x1="571.43" y1="350.00" x2="571.43" y2="352.40" stroke="#222" stroke-width="0.8" />
<line x1="586.40" y1="468.70" x2="586.40" y2="464.50" stroke="#222" stroke-width="0.8" />
<line x1="586.40" y1="350.00" x2="586.40" y2="354.20" stroke="#222" stroke-width="0.8" />
<line x1="601.37" y1="468.70" x2="601.37" y2="466.30" stroke="#222" stroke-width="0.8" />
<line x1="601.37" y1="350.00" x2="601.37" y2="352.40" stroke="#222" stroke-width="0.8" />
<line x1="616.33" y1="468.70" x2="616.33" y2="466.30" stroke="#222" stroke-width="0.8" />
<line x1="616.33" y1="350.00" x2="616.33" y2="352.40" stroke="#222" stroke-width="0.8" />
<line x1="631.30" y1="468.70" x2="631.30" y2="464.50" stroke="#222" stroke-width="0.8" />
<line x1="631.30" y1="350.00" x2="631.30" y2="354.20" stroke="#222" stroke-width="0.8" />
<line x1="646.27" y1="468.70" x2="646.27" y2="466.30" stroke="#222" stroke-width="0.8" />
<line x1="646.27" y1="350.00" x2="646.27" y2="352.40" stroke="#222" stroke-width="0.8" />
<line x1="661.23" y1="468.70" x2="661.23" y2="466.30" stroke="#222" stroke-width="0.8" />
<line x1="661.23" y1="350.00" x2="661.23" y2="352.40" stroke="#222" stroke-width="0.8" />
<line x1="497.30" y1="453.95" x2="499.70" y2="453.95" stroke="#222" stroke-width="0.8" />
<line x1="676.20" y1="453.95" x2="673.80" y2="453.95" stroke="#222" stroke-width="0.8" />
<line x1="497.30" y1="439.10" x2="501.50" y2="439.10" stroke="#222" stroke-width="0.8" />
<line x1="676.20" y1="439.10" x2="672.00" y2="439.10" stroke="#222" stroke-width="0.8" />
<line x1="497.30" y1="424.25" x2="499.70" y2="424.25" stroke="#222" stroke-width="0.8" />
<line x1="676.20" y1="424.25" x2="673.80" y2="424.25" stroke="#222" stroke-width="0.8" />
<line x1="497.30" y1="409.40" x2="501.50" y2="409.40" stroke="#222" stroke-width="0.8" />
<line x1="676.20" y1="409.40" x2="672.00" y2="409.40" stroke="#222" stroke-width="0.8" />
<line x1="497.30" y1="394.55" x2="499.70" y2="394.55" stroke="#222" stroke-width="0.8" />
<line x1="676.20" y1="394.55" x2="673.80" y2="394.55" stroke="#222" stroke-width="0.8" />
<line x1="497.30" y1="379.70" x2="501.50" y2="379.70" stroke="#222" stroke-width="0.8" />
<line x1="676.20" y1="379.70" x2="672.00" y2="379.70" stroke="#222" stroke-width="0.8" />
<line x1="497.30" y1="364.85" x2="499.70" y2="364.85" stroke="#222" stroke-width="0.8" />
<line x1="676.20" y1="364.85" x2="673.80" y2="364.85" stroke="#222" stroke-width="0.8" />
<text x="496.60" y="483.50" font-size="10.6" text-anchor="middle" font-family="Liberation Serif, serif" fill="#000" >−180</text>
<text x="541.50" y="483.50" font-size="10.6" text-anchor="middle" font-family="Liberation Serif, serif" fill="#000" >−90</text>
<text x="586.40" y="483.50" font-size="10.6" text-anchor="middle" font-family="Liberation Serif, serif" fill="#000" >0</text>
<text x="631.30" y="483.50" font-size="10.6" text-anchor="middle" font-family="Liberation Serif, serif" fill="#000" >90</text>
<text x="676.20" y="483.50" font-size="10.6" text-anchor="middle" font-family="Liberation Serif, serif" fill="#000" >180</text>
<text x="495.50" y="353.50" font-size="10.6" text-anchor="end" font-family="Liberation Serif, serif" fill="#000" >0.4</text>
<text x="495.50" y="383.20" font-size="10.6" text-anchor="end" font-family="Liberation Serif, serif" fill="#000" >0.2</text>
<text x="495.50" y="412.90" font-size="10.6" text-anchor="end" font-family="Liberation Serif, serif" fill="#000" >0.0</text>
<text x="495.50" y="442.60" font-size="10.6" text-anchor="end" font-family="Liberation Serif, serif" fill="#000" >−0.2</text>
<text x="495.50" y="472.30" font-size="10.6" text-anchor="end" font-family="Liberation Serif, serif" fill="#000" >−0.4</text>
<text x="575.4" y="494.6" font-size="12.6" font-family="Liberation Serif, serif" textLength="22.6" lengthAdjust="spacingAndGlyphs"><tspan font-style="italic">ϕ</tspan> (°)</text>
<text transform="translate(456.9,416.3) rotate(-90)" font-size="11.2" text-anchor="middle" font-family="Liberation Serif, serif" textLength="132" lengthAdjust="spacingAndGlyphs">Scalar Spin Chirality (m<tspan font-size="7.8" dy="2">0</tspan><tspan dy="-2" font-style="italic">μ</tspan><tspan font-size="7.8" dy="2">B</tspan><tspan dy="-2">)</tspan><tspan font-size="7.8" dy="-4.5">3</tspan></text>
<text transform="translate(471.4,418.4) rotate(-90)" font-size="11.2" text-anchor="middle" font-family="Liberation Serif, serif" textLength="73" lengthAdjust="spacingAndGlyphs">Octupole (m<tspan font-size="7.8" dy="2">0</tspan><tspan dy="-2" font-style="italic">μ</tspan><tspan font-size="7.8" dy="2">B</tspan><tspan dy="-2">)</tspan></text>
<line x1="524.70" y1="362.50" x2="535.20" y2="362.50" stroke="#ff0000" stroke-width="1.2" />
<line x1="524.70" y1="376.80" x2="535.20" y2="376.80" stroke="#0000ff" stroke-width="1.2" />
<text x="542.00" y="366.60" font-size="13.5" text-anchor="start" font-family="Liberation Serif, serif" fill="#000" >Oct.</text>
<text x="542.00" y="380.60" font-size="13.5" text-anchor="start" font-family="Liberation Serif, serif" fill="#000" >SSC</text>
<text x="438.00" y="340.40" font-size="17.3" text-anchor="start" font-family="Liberation Sans, sans-serif" fill="#000" >(i)</text></svg></body></html>
